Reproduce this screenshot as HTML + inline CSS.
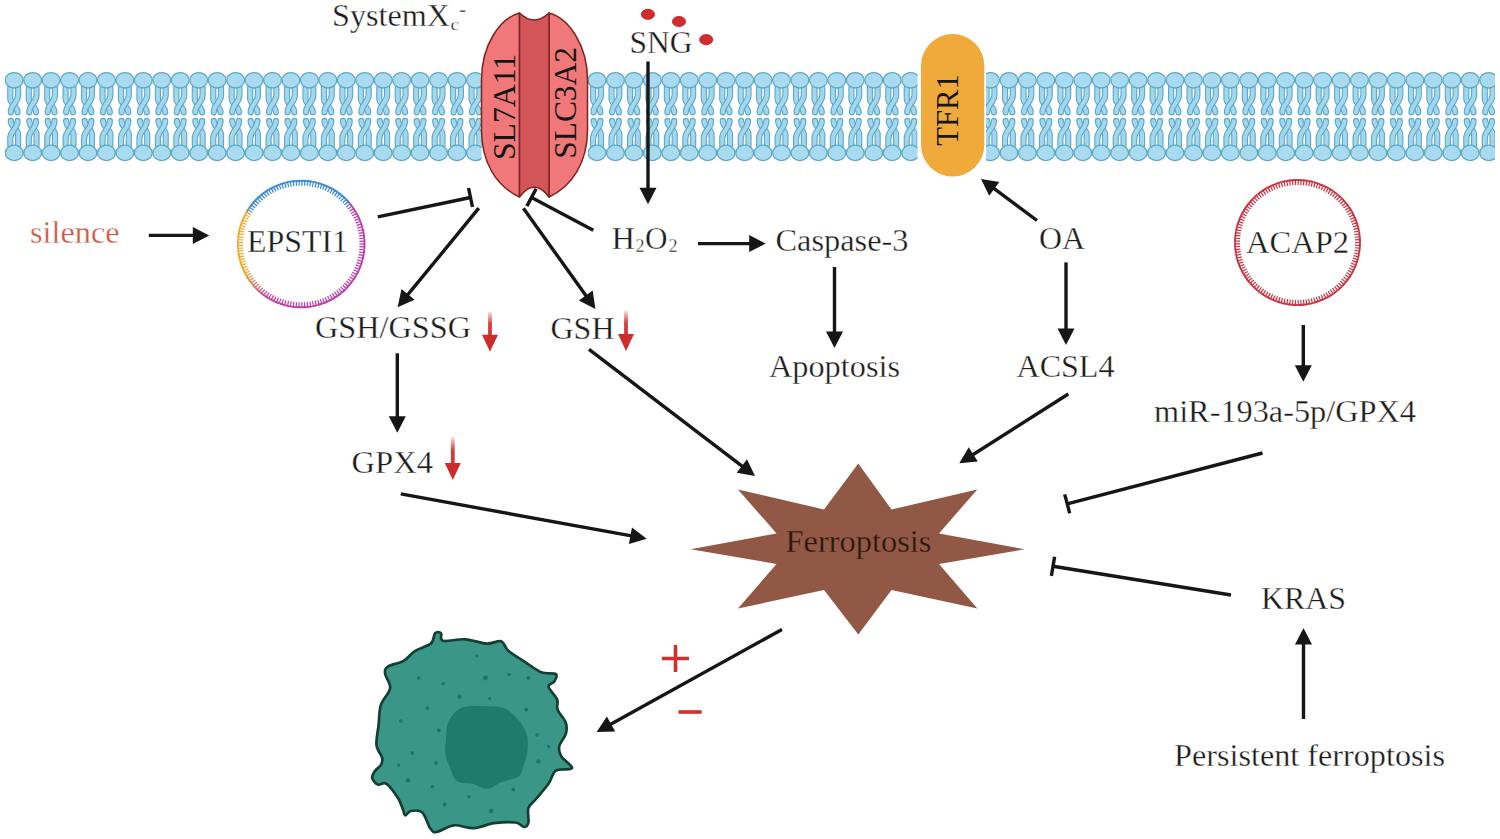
<!DOCTYPE html><html><head><meta charset="utf-8"><style>html,body{margin:0;padding:0;background:#fff;width:1500px;height:839px;overflow:hidden}svg{display:block}text{font-family:"Liberation Serif", serif}</style></head><body><svg width="1500" height="839" viewBox="0 0 1500 839"><clipPath id="mc0"><rect x="5" y="60" width="476.5" height="110"/></clipPath><clipPath id="mc1"><rect x="588" y="60" width="329.5" height="110"/></clipPath><clipPath id="mc2"><rect x="986" y="60" width="509" height="110"/></clipPath><g clip-path="url(#mc0)"><g transform="translate(-22.70,0)"><path d="M-3.9,88 L-3.9,99 C-3.9,104 3.4,106 3.4,112.3" fill="none" stroke="#5ea8c4" stroke-width="6.2" stroke-linecap="round"/><path d="M-3.9,88 L-3.9,99 C-3.9,104 3.4,106 3.4,112.3" fill="none" stroke="#a2d7f0" stroke-width="4.0" stroke-linecap="round"/><path d="M3.9,88 L3.9,95 C3.9,103 -3.4,104 -3.4,112.3" fill="none" stroke="#5ea8c4" stroke-width="6.2" stroke-linecap="round"/><path d="M3.9,88 L3.9,95 C3.9,103 -3.4,104 -3.4,112.3" fill="none" stroke="#a2d7f0" stroke-width="4.0" stroke-linecap="round"/><ellipse cx="0" cy="80.3" rx="8.9" ry="7.7" fill="#a9dbf0" stroke="#5ea8c4" stroke-width="1.3"/></g><g transform="translate(-22.70,233.2) scale(-1,-1)"><path d="M-3.9,88 L-3.9,99 C-3.9,104 3.4,106 3.4,112.3" fill="none" stroke="#5ea8c4" stroke-width="6.2" stroke-linecap="round"/><path d="M-3.9,88 L-3.9,99 C-3.9,104 3.4,106 3.4,112.3" fill="none" stroke="#a2d7f0" stroke-width="4.0" stroke-linecap="round"/><path d="M3.9,88 L3.9,95 C3.9,103 -3.4,104 -3.4,112.3" fill="none" stroke="#5ea8c4" stroke-width="6.2" stroke-linecap="round"/><path d="M3.9,88 L3.9,95 C3.9,103 -3.4,104 -3.4,112.3" fill="none" stroke="#a2d7f0" stroke-width="4.0" stroke-linecap="round"/><ellipse cx="0" cy="80.3" rx="8.9" ry="7.7" fill="#a9dbf0" stroke="#5ea8c4" stroke-width="1.3"/></g><g transform="translate(-4.25,0)"><path d="M-3.9,88 L-3.9,99 C-3.9,104 3.4,106 3.4,112.3" fill="none" stroke="#5ea8c4" stroke-width="6.2" stroke-linecap="round"/><path d="M-3.9,88 L-3.9,99 C-3.9,104 3.4,106 3.4,112.3" fill="none" stroke="#a2d7f0" stroke-width="4.0" stroke-linecap="round"/><path d="M3.9,88 L3.9,95 C3.9,103 -3.4,104 -3.4,112.3" fill="none" stroke="#5ea8c4" stroke-width="6.2" stroke-linecap="round"/><path d="M3.9,88 L3.9,95 C3.9,103 -3.4,104 -3.4,112.3" fill="none" stroke="#a2d7f0" stroke-width="4.0" stroke-linecap="round"/><ellipse cx="0" cy="80.3" rx="8.9" ry="7.7" fill="#a9dbf0" stroke="#5ea8c4" stroke-width="1.3"/></g><g transform="translate(-4.25,233.2) scale(-1,-1)"><path d="M-3.9,88 L-3.9,99 C-3.9,104 3.4,106 3.4,112.3" fill="none" stroke="#5ea8c4" stroke-width="6.2" stroke-linecap="round"/><path d="M-3.9,88 L-3.9,99 C-3.9,104 3.4,106 3.4,112.3" fill="none" stroke="#a2d7f0" stroke-width="4.0" stroke-linecap="round"/><path d="M3.9,88 L3.9,95 C3.9,103 -3.4,104 -3.4,112.3" fill="none" stroke="#5ea8c4" stroke-width="6.2" stroke-linecap="round"/><path d="M3.9,88 L3.9,95 C3.9,103 -3.4,104 -3.4,112.3" fill="none" stroke="#a2d7f0" stroke-width="4.0" stroke-linecap="round"/><ellipse cx="0" cy="80.3" rx="8.9" ry="7.7" fill="#a9dbf0" stroke="#5ea8c4" stroke-width="1.3"/></g><g transform="translate(14.20,0)"><path d="M-3.9,88 L-3.9,99 C-3.9,104 3.4,106 3.4,112.3" fill="none" stroke="#5ea8c4" stroke-width="6.2" stroke-linecap="round"/><path d="M-3.9,88 L-3.9,99 C-3.9,104 3.4,106 3.4,112.3" fill="none" stroke="#a2d7f0" stroke-width="4.0" stroke-linecap="round"/><path d="M3.9,88 L3.9,95 C3.9,103 -3.4,104 -3.4,112.3" fill="none" stroke="#5ea8c4" stroke-width="6.2" stroke-linecap="round"/><path d="M3.9,88 L3.9,95 C3.9,103 -3.4,104 -3.4,112.3" fill="none" stroke="#a2d7f0" stroke-width="4.0" stroke-linecap="round"/><ellipse cx="0" cy="80.3" rx="8.9" ry="7.7" fill="#a9dbf0" stroke="#5ea8c4" stroke-width="1.3"/></g><g transform="translate(14.20,233.2) scale(-1,-1)"><path d="M-3.9,88 L-3.9,99 C-3.9,104 3.4,106 3.4,112.3" fill="none" stroke="#5ea8c4" stroke-width="6.2" stroke-linecap="round"/><path d="M-3.9,88 L-3.9,99 C-3.9,104 3.4,106 3.4,112.3" fill="none" stroke="#a2d7f0" stroke-width="4.0" stroke-linecap="round"/><path d="M3.9,88 L3.9,95 C3.9,103 -3.4,104 -3.4,112.3" fill="none" stroke="#5ea8c4" stroke-width="6.2" stroke-linecap="round"/><path d="M3.9,88 L3.9,95 C3.9,103 -3.4,104 -3.4,112.3" fill="none" stroke="#a2d7f0" stroke-width="4.0" stroke-linecap="round"/><ellipse cx="0" cy="80.3" rx="8.9" ry="7.7" fill="#a9dbf0" stroke="#5ea8c4" stroke-width="1.3"/></g><g transform="translate(32.65,0)"><path d="M-3.9,88 L-3.9,99 C-3.9,104 3.4,106 3.4,112.3" fill="none" stroke="#5ea8c4" stroke-width="6.2" stroke-linecap="round"/><path d="M-3.9,88 L-3.9,99 C-3.9,104 3.4,106 3.4,112.3" fill="none" stroke="#a2d7f0" stroke-width="4.0" stroke-linecap="round"/><path d="M3.9,88 L3.9,95 C3.9,103 -3.4,104 -3.4,112.3" fill="none" stroke="#5ea8c4" stroke-width="6.2" stroke-linecap="round"/><path d="M3.9,88 L3.9,95 C3.9,103 -3.4,104 -3.4,112.3" fill="none" stroke="#a2d7f0" stroke-width="4.0" stroke-linecap="round"/><ellipse cx="0" cy="80.3" rx="8.9" ry="7.7" fill="#a9dbf0" stroke="#5ea8c4" stroke-width="1.3"/></g><g transform="translate(32.65,233.2) scale(-1,-1)"><path d="M-3.9,88 L-3.9,99 C-3.9,104 3.4,106 3.4,112.3" fill="none" stroke="#5ea8c4" stroke-width="6.2" stroke-linecap="round"/><path d="M-3.9,88 L-3.9,99 C-3.9,104 3.4,106 3.4,112.3" fill="none" stroke="#a2d7f0" stroke-width="4.0" stroke-linecap="round"/><path d="M3.9,88 L3.9,95 C3.9,103 -3.4,104 -3.4,112.3" fill="none" stroke="#5ea8c4" stroke-width="6.2" stroke-linecap="round"/><path d="M3.9,88 L3.9,95 C3.9,103 -3.4,104 -3.4,112.3" fill="none" stroke="#a2d7f0" stroke-width="4.0" stroke-linecap="round"/><ellipse cx="0" cy="80.3" rx="8.9" ry="7.7" fill="#a9dbf0" stroke="#5ea8c4" stroke-width="1.3"/></g><g transform="translate(51.10,0)"><path d="M-3.9,88 L-3.9,99 C-3.9,104 3.4,106 3.4,112.3" fill="none" stroke="#5ea8c4" stroke-width="6.2" stroke-linecap="round"/><path d="M-3.9,88 L-3.9,99 C-3.9,104 3.4,106 3.4,112.3" fill="none" stroke="#a2d7f0" stroke-width="4.0" stroke-linecap="round"/><path d="M3.9,88 L3.9,95 C3.9,103 -3.4,104 -3.4,112.3" fill="none" stroke="#5ea8c4" stroke-width="6.2" stroke-linecap="round"/><path d="M3.9,88 L3.9,95 C3.9,103 -3.4,104 -3.4,112.3" fill="none" stroke="#a2d7f0" stroke-width="4.0" stroke-linecap="round"/><ellipse cx="0" cy="80.3" rx="8.9" ry="7.7" fill="#a9dbf0" stroke="#5ea8c4" stroke-width="1.3"/></g><g transform="translate(51.10,233.2) scale(-1,-1)"><path d="M-3.9,88 L-3.9,99 C-3.9,104 3.4,106 3.4,112.3" fill="none" stroke="#5ea8c4" stroke-width="6.2" stroke-linecap="round"/><path d="M-3.9,88 L-3.9,99 C-3.9,104 3.4,106 3.4,112.3" fill="none" stroke="#a2d7f0" stroke-width="4.0" stroke-linecap="round"/><path d="M3.9,88 L3.9,95 C3.9,103 -3.4,104 -3.4,112.3" fill="none" stroke="#5ea8c4" stroke-width="6.2" stroke-linecap="round"/><path d="M3.9,88 L3.9,95 C3.9,103 -3.4,104 -3.4,112.3" fill="none" stroke="#a2d7f0" stroke-width="4.0" stroke-linecap="round"/><ellipse cx="0" cy="80.3" rx="8.9" ry="7.7" fill="#a9dbf0" stroke="#5ea8c4" stroke-width="1.3"/></g><g transform="translate(69.55,0)"><path d="M-3.9,88 L-3.9,99 C-3.9,104 3.4,106 3.4,112.3" fill="none" stroke="#5ea8c4" stroke-width="6.2" stroke-linecap="round"/><path d="M-3.9,88 L-3.9,99 C-3.9,104 3.4,106 3.4,112.3" fill="none" stroke="#a2d7f0" stroke-width="4.0" stroke-linecap="round"/><path d="M3.9,88 L3.9,95 C3.9,103 -3.4,104 -3.4,112.3" fill="none" stroke="#5ea8c4" stroke-width="6.2" stroke-linecap="round"/><path d="M3.9,88 L3.9,95 C3.9,103 -3.4,104 -3.4,112.3" fill="none" stroke="#a2d7f0" stroke-width="4.0" stroke-linecap="round"/><ellipse cx="0" cy="80.3" rx="8.9" ry="7.7" fill="#a9dbf0" stroke="#5ea8c4" stroke-width="1.3"/></g><g transform="translate(69.55,233.2) scale(-1,-1)"><path d="M-3.9,88 L-3.9,99 C-3.9,104 3.4,106 3.4,112.3" fill="none" stroke="#5ea8c4" stroke-width="6.2" stroke-linecap="round"/><path d="M-3.9,88 L-3.9,99 C-3.9,104 3.4,106 3.4,112.3" fill="none" stroke="#a2d7f0" stroke-width="4.0" stroke-linecap="round"/><path d="M3.9,88 L3.9,95 C3.9,103 -3.4,104 -3.4,112.3" fill="none" stroke="#5ea8c4" stroke-width="6.2" stroke-linecap="round"/><path d="M3.9,88 L3.9,95 C3.9,103 -3.4,104 -3.4,112.3" fill="none" stroke="#a2d7f0" stroke-width="4.0" stroke-linecap="round"/><ellipse cx="0" cy="80.3" rx="8.9" ry="7.7" fill="#a9dbf0" stroke="#5ea8c4" stroke-width="1.3"/></g><g transform="translate(88.00,0)"><path d="M-3.9,88 L-3.9,99 C-3.9,104 3.4,106 3.4,112.3" fill="none" stroke="#5ea8c4" stroke-width="6.2" stroke-linecap="round"/><path d="M-3.9,88 L-3.9,99 C-3.9,104 3.4,106 3.4,112.3" fill="none" stroke="#a2d7f0" stroke-width="4.0" stroke-linecap="round"/><path d="M3.9,88 L3.9,95 C3.9,103 -3.4,104 -3.4,112.3" fill="none" stroke="#5ea8c4" stroke-width="6.2" stroke-linecap="round"/><path d="M3.9,88 L3.9,95 C3.9,103 -3.4,104 -3.4,112.3" fill="none" stroke="#a2d7f0" stroke-width="4.0" stroke-linecap="round"/><ellipse cx="0" cy="80.3" rx="8.9" ry="7.7" fill="#a9dbf0" stroke="#5ea8c4" stroke-width="1.3"/></g><g transform="translate(88.00,233.2) scale(-1,-1)"><path d="M-3.9,88 L-3.9,99 C-3.9,104 3.4,106 3.4,112.3" fill="none" stroke="#5ea8c4" stroke-width="6.2" stroke-linecap="round"/><path d="M-3.9,88 L-3.9,99 C-3.9,104 3.4,106 3.4,112.3" fill="none" stroke="#a2d7f0" stroke-width="4.0" stroke-linecap="round"/><path d="M3.9,88 L3.9,95 C3.9,103 -3.4,104 -3.4,112.3" fill="none" stroke="#5ea8c4" stroke-width="6.2" stroke-linecap="round"/><path d="M3.9,88 L3.9,95 C3.9,103 -3.4,104 -3.4,112.3" fill="none" stroke="#a2d7f0" stroke-width="4.0" stroke-linecap="round"/><ellipse cx="0" cy="80.3" rx="8.9" ry="7.7" fill="#a9dbf0" stroke="#5ea8c4" stroke-width="1.3"/></g><g transform="translate(106.45,0)"><path d="M-3.9,88 L-3.9,99 C-3.9,104 3.4,106 3.4,112.3" fill="none" stroke="#5ea8c4" stroke-width="6.2" stroke-linecap="round"/><path d="M-3.9,88 L-3.9,99 C-3.9,104 3.4,106 3.4,112.3" fill="none" stroke="#a2d7f0" stroke-width="4.0" stroke-linecap="round"/><path d="M3.9,88 L3.9,95 C3.9,103 -3.4,104 -3.4,112.3" fill="none" stroke="#5ea8c4" stroke-width="6.2" stroke-linecap="round"/><path d="M3.9,88 L3.9,95 C3.9,103 -3.4,104 -3.4,112.3" fill="none" stroke="#a2d7f0" stroke-width="4.0" stroke-linecap="round"/><ellipse cx="0" cy="80.3" rx="8.9" ry="7.7" fill="#a9dbf0" stroke="#5ea8c4" stroke-width="1.3"/></g><g transform="translate(106.45,233.2) scale(-1,-1)"><path d="M-3.9,88 L-3.9,99 C-3.9,104 3.4,106 3.4,112.3" fill="none" stroke="#5ea8c4" stroke-width="6.2" stroke-linecap="round"/><path d="M-3.9,88 L-3.9,99 C-3.9,104 3.4,106 3.4,112.3" fill="none" stroke="#a2d7f0" stroke-width="4.0" stroke-linecap="round"/><path d="M3.9,88 L3.9,95 C3.9,103 -3.4,104 -3.4,112.3" fill="none" stroke="#5ea8c4" stroke-width="6.2" stroke-linecap="round"/><path d="M3.9,88 L3.9,95 C3.9,103 -3.4,104 -3.4,112.3" fill="none" stroke="#a2d7f0" stroke-width="4.0" stroke-linecap="round"/><ellipse cx="0" cy="80.3" rx="8.9" ry="7.7" fill="#a9dbf0" stroke="#5ea8c4" stroke-width="1.3"/></g><g transform="translate(124.90,0)"><path d="M-3.9,88 L-3.9,99 C-3.9,104 3.4,106 3.4,112.3" fill="none" stroke="#5ea8c4" stroke-width="6.2" stroke-linecap="round"/><path d="M-3.9,88 L-3.9,99 C-3.9,104 3.4,106 3.4,112.3" fill="none" stroke="#a2d7f0" stroke-width="4.0" stroke-linecap="round"/><path d="M3.9,88 L3.9,95 C3.9,103 -3.4,104 -3.4,112.3" fill="none" stroke="#5ea8c4" stroke-width="6.2" stroke-linecap="round"/><path d="M3.9,88 L3.9,95 C3.9,103 -3.4,104 -3.4,112.3" fill="none" stroke="#a2d7f0" stroke-width="4.0" stroke-linecap="round"/><ellipse cx="0" cy="80.3" rx="8.9" ry="7.7" fill="#a9dbf0" stroke="#5ea8c4" stroke-width="1.3"/></g><g transform="translate(124.90,233.2) scale(-1,-1)"><path d="M-3.9,88 L-3.9,99 C-3.9,104 3.4,106 3.4,112.3" fill="none" stroke="#5ea8c4" stroke-width="6.2" stroke-linecap="round"/><path d="M-3.9,88 L-3.9,99 C-3.9,104 3.4,106 3.4,112.3" fill="none" stroke="#a2d7f0" stroke-width="4.0" stroke-linecap="round"/><path d="M3.9,88 L3.9,95 C3.9,103 -3.4,104 -3.4,112.3" fill="none" stroke="#5ea8c4" stroke-width="6.2" stroke-linecap="round"/><path d="M3.9,88 L3.9,95 C3.9,103 -3.4,104 -3.4,112.3" fill="none" stroke="#a2d7f0" stroke-width="4.0" stroke-linecap="round"/><ellipse cx="0" cy="80.3" rx="8.9" ry="7.7" fill="#a9dbf0" stroke="#5ea8c4" stroke-width="1.3"/></g><g transform="translate(143.35,0)"><path d="M-3.9,88 L-3.9,99 C-3.9,104 3.4,106 3.4,112.3" fill="none" stroke="#5ea8c4" stroke-width="6.2" stroke-linecap="round"/><path d="M-3.9,88 L-3.9,99 C-3.9,104 3.4,106 3.4,112.3" fill="none" stroke="#a2d7f0" stroke-width="4.0" stroke-linecap="round"/><path d="M3.9,88 L3.9,95 C3.9,103 -3.4,104 -3.4,112.3" fill="none" stroke="#5ea8c4" stroke-width="6.2" stroke-linecap="round"/><path d="M3.9,88 L3.9,95 C3.9,103 -3.4,104 -3.4,112.3" fill="none" stroke="#a2d7f0" stroke-width="4.0" stroke-linecap="round"/><ellipse cx="0" cy="80.3" rx="8.9" ry="7.7" fill="#a9dbf0" stroke="#5ea8c4" stroke-width="1.3"/></g><g transform="translate(143.35,233.2) scale(-1,-1)"><path d="M-3.9,88 L-3.9,99 C-3.9,104 3.4,106 3.4,112.3" fill="none" stroke="#5ea8c4" stroke-width="6.2" stroke-linecap="round"/><path d="M-3.9,88 L-3.9,99 C-3.9,104 3.4,106 3.4,112.3" fill="none" stroke="#a2d7f0" stroke-width="4.0" stroke-linecap="round"/><path d="M3.9,88 L3.9,95 C3.9,103 -3.4,104 -3.4,112.3" fill="none" stroke="#5ea8c4" stroke-width="6.2" stroke-linecap="round"/><path d="M3.9,88 L3.9,95 C3.9,103 -3.4,104 -3.4,112.3" fill="none" stroke="#a2d7f0" stroke-width="4.0" stroke-linecap="round"/><ellipse cx="0" cy="80.3" rx="8.9" ry="7.7" fill="#a9dbf0" stroke="#5ea8c4" stroke-width="1.3"/></g><g transform="translate(161.80,0)"><path d="M-3.9,88 L-3.9,99 C-3.9,104 3.4,106 3.4,112.3" fill="none" stroke="#5ea8c4" stroke-width="6.2" stroke-linecap="round"/><path d="M-3.9,88 L-3.9,99 C-3.9,104 3.4,106 3.4,112.3" fill="none" stroke="#a2d7f0" stroke-width="4.0" stroke-linecap="round"/><path d="M3.9,88 L3.9,95 C3.9,103 -3.4,104 -3.4,112.3" fill="none" stroke="#5ea8c4" stroke-width="6.2" stroke-linecap="round"/><path d="M3.9,88 L3.9,95 C3.9,103 -3.4,104 -3.4,112.3" fill="none" stroke="#a2d7f0" stroke-width="4.0" stroke-linecap="round"/><ellipse cx="0" cy="80.3" rx="8.9" ry="7.7" fill="#a9dbf0" stroke="#5ea8c4" stroke-width="1.3"/></g><g transform="translate(161.80,233.2) scale(-1,-1)"><path d="M-3.9,88 L-3.9,99 C-3.9,104 3.4,106 3.4,112.3" fill="none" stroke="#5ea8c4" stroke-width="6.2" stroke-linecap="round"/><path d="M-3.9,88 L-3.9,99 C-3.9,104 3.4,106 3.4,112.3" fill="none" stroke="#a2d7f0" stroke-width="4.0" stroke-linecap="round"/><path d="M3.9,88 L3.9,95 C3.9,103 -3.4,104 -3.4,112.3" fill="none" stroke="#5ea8c4" stroke-width="6.2" stroke-linecap="round"/><path d="M3.9,88 L3.9,95 C3.9,103 -3.4,104 -3.4,112.3" fill="none" stroke="#a2d7f0" stroke-width="4.0" stroke-linecap="round"/><ellipse cx="0" cy="80.3" rx="8.9" ry="7.7" fill="#a9dbf0" stroke="#5ea8c4" stroke-width="1.3"/></g><g transform="translate(180.25,0)"><path d="M-3.9,88 L-3.9,99 C-3.9,104 3.4,106 3.4,112.3" fill="none" stroke="#5ea8c4" stroke-width="6.2" stroke-linecap="round"/><path d="M-3.9,88 L-3.9,99 C-3.9,104 3.4,106 3.4,112.3" fill="none" stroke="#a2d7f0" stroke-width="4.0" stroke-linecap="round"/><path d="M3.9,88 L3.9,95 C3.9,103 -3.4,104 -3.4,112.3" fill="none" stroke="#5ea8c4" stroke-width="6.2" stroke-linecap="round"/><path d="M3.9,88 L3.9,95 C3.9,103 -3.4,104 -3.4,112.3" fill="none" stroke="#a2d7f0" stroke-width="4.0" stroke-linecap="round"/><ellipse cx="0" cy="80.3" rx="8.9" ry="7.7" fill="#a9dbf0" stroke="#5ea8c4" stroke-width="1.3"/></g><g transform="translate(180.25,233.2) scale(-1,-1)"><path d="M-3.9,88 L-3.9,99 C-3.9,104 3.4,106 3.4,112.3" fill="none" stroke="#5ea8c4" stroke-width="6.2" stroke-linecap="round"/><path d="M-3.9,88 L-3.9,99 C-3.9,104 3.4,106 3.4,112.3" fill="none" stroke="#a2d7f0" stroke-width="4.0" stroke-linecap="round"/><path d="M3.9,88 L3.9,95 C3.9,103 -3.4,104 -3.4,112.3" fill="none" stroke="#5ea8c4" stroke-width="6.2" stroke-linecap="round"/><path d="M3.9,88 L3.9,95 C3.9,103 -3.4,104 -3.4,112.3" fill="none" stroke="#a2d7f0" stroke-width="4.0" stroke-linecap="round"/><ellipse cx="0" cy="80.3" rx="8.9" ry="7.7" fill="#a9dbf0" stroke="#5ea8c4" stroke-width="1.3"/></g><g transform="translate(198.70,0)"><path d="M-3.9,88 L-3.9,99 C-3.9,104 3.4,106 3.4,112.3" fill="none" stroke="#5ea8c4" stroke-width="6.2" stroke-linecap="round"/><path d="M-3.9,88 L-3.9,99 C-3.9,104 3.4,106 3.4,112.3" fill="none" stroke="#a2d7f0" stroke-width="4.0" stroke-linecap="round"/><path d="M3.9,88 L3.9,95 C3.9,103 -3.4,104 -3.4,112.3" fill="none" stroke="#5ea8c4" stroke-width="6.2" stroke-linecap="round"/><path d="M3.9,88 L3.9,95 C3.9,103 -3.4,104 -3.4,112.3" fill="none" stroke="#a2d7f0" stroke-width="4.0" stroke-linecap="round"/><ellipse cx="0" cy="80.3" rx="8.9" ry="7.7" fill="#a9dbf0" stroke="#5ea8c4" stroke-width="1.3"/></g><g transform="translate(198.70,233.2) scale(-1,-1)"><path d="M-3.9,88 L-3.9,99 C-3.9,104 3.4,106 3.4,112.3" fill="none" stroke="#5ea8c4" stroke-width="6.2" stroke-linecap="round"/><path d="M-3.9,88 L-3.9,99 C-3.9,104 3.4,106 3.4,112.3" fill="none" stroke="#a2d7f0" stroke-width="4.0" stroke-linecap="round"/><path d="M3.9,88 L3.9,95 C3.9,103 -3.4,104 -3.4,112.3" fill="none" stroke="#5ea8c4" stroke-width="6.2" stroke-linecap="round"/><path d="M3.9,88 L3.9,95 C3.9,103 -3.4,104 -3.4,112.3" fill="none" stroke="#a2d7f0" stroke-width="4.0" stroke-linecap="round"/><ellipse cx="0" cy="80.3" rx="8.9" ry="7.7" fill="#a9dbf0" stroke="#5ea8c4" stroke-width="1.3"/></g><g transform="translate(217.15,0)"><path d="M-3.9,88 L-3.9,99 C-3.9,104 3.4,106 3.4,112.3" fill="none" stroke="#5ea8c4" stroke-width="6.2" stroke-linecap="round"/><path d="M-3.9,88 L-3.9,99 C-3.9,104 3.4,106 3.4,112.3" fill="none" stroke="#a2d7f0" stroke-width="4.0" stroke-linecap="round"/><path d="M3.9,88 L3.9,95 C3.9,103 -3.4,104 -3.4,112.3" fill="none" stroke="#5ea8c4" stroke-width="6.2" stroke-linecap="round"/><path d="M3.9,88 L3.9,95 C3.9,103 -3.4,104 -3.4,112.3" fill="none" stroke="#a2d7f0" stroke-width="4.0" stroke-linecap="round"/><ellipse cx="0" cy="80.3" rx="8.9" ry="7.7" fill="#a9dbf0" stroke="#5ea8c4" stroke-width="1.3"/></g><g transform="translate(217.15,233.2) scale(-1,-1)"><path d="M-3.9,88 L-3.9,99 C-3.9,104 3.4,106 3.4,112.3" fill="none" stroke="#5ea8c4" stroke-width="6.2" stroke-linecap="round"/><path d="M-3.9,88 L-3.9,99 C-3.9,104 3.4,106 3.4,112.3" fill="none" stroke="#a2d7f0" stroke-width="4.0" stroke-linecap="round"/><path d="M3.9,88 L3.9,95 C3.9,103 -3.4,104 -3.4,112.3" fill="none" stroke="#5ea8c4" stroke-width="6.2" stroke-linecap="round"/><path d="M3.9,88 L3.9,95 C3.9,103 -3.4,104 -3.4,112.3" fill="none" stroke="#a2d7f0" stroke-width="4.0" stroke-linecap="round"/><ellipse cx="0" cy="80.3" rx="8.9" ry="7.7" fill="#a9dbf0" stroke="#5ea8c4" stroke-width="1.3"/></g><g transform="translate(235.60,0)"><path d="M-3.9,88 L-3.9,99 C-3.9,104 3.4,106 3.4,112.3" fill="none" stroke="#5ea8c4" stroke-width="6.2" stroke-linecap="round"/><path d="M-3.9,88 L-3.9,99 C-3.9,104 3.4,106 3.4,112.3" fill="none" stroke="#a2d7f0" stroke-width="4.0" stroke-linecap="round"/><path d="M3.9,88 L3.9,95 C3.9,103 -3.4,104 -3.4,112.3" fill="none" stroke="#5ea8c4" stroke-width="6.2" stroke-linecap="round"/><path d="M3.9,88 L3.9,95 C3.9,103 -3.4,104 -3.4,112.3" fill="none" stroke="#a2d7f0" stroke-width="4.0" stroke-linecap="round"/><ellipse cx="0" cy="80.3" rx="8.9" ry="7.7" fill="#a9dbf0" stroke="#5ea8c4" stroke-width="1.3"/></g><g transform="translate(235.60,233.2) scale(-1,-1)"><path d="M-3.9,88 L-3.9,99 C-3.9,104 3.4,106 3.4,112.3" fill="none" stroke="#5ea8c4" stroke-width="6.2" stroke-linecap="round"/><path d="M-3.9,88 L-3.9,99 C-3.9,104 3.4,106 3.4,112.3" fill="none" stroke="#a2d7f0" stroke-width="4.0" stroke-linecap="round"/><path d="M3.9,88 L3.9,95 C3.9,103 -3.4,104 -3.4,112.3" fill="none" stroke="#5ea8c4" stroke-width="6.2" stroke-linecap="round"/><path d="M3.9,88 L3.9,95 C3.9,103 -3.4,104 -3.4,112.3" fill="none" stroke="#a2d7f0" stroke-width="4.0" stroke-linecap="round"/><ellipse cx="0" cy="80.3" rx="8.9" ry="7.7" fill="#a9dbf0" stroke="#5ea8c4" stroke-width="1.3"/></g><g transform="translate(254.05,0)"><path d="M-3.9,88 L-3.9,99 C-3.9,104 3.4,106 3.4,112.3" fill="none" stroke="#5ea8c4" stroke-width="6.2" stroke-linecap="round"/><path d="M-3.9,88 L-3.9,99 C-3.9,104 3.4,106 3.4,112.3" fill="none" stroke="#a2d7f0" stroke-width="4.0" stroke-linecap="round"/><path d="M3.9,88 L3.9,95 C3.9,103 -3.4,104 -3.4,112.3" fill="none" stroke="#5ea8c4" stroke-width="6.2" stroke-linecap="round"/><path d="M3.9,88 L3.9,95 C3.9,103 -3.4,104 -3.4,112.3" fill="none" stroke="#a2d7f0" stroke-width="4.0" stroke-linecap="round"/><ellipse cx="0" cy="80.3" rx="8.9" ry="7.7" fill="#a9dbf0" stroke="#5ea8c4" stroke-width="1.3"/></g><g transform="translate(254.05,233.2) scale(-1,-1)"><path d="M-3.9,88 L-3.9,99 C-3.9,104 3.4,106 3.4,112.3" fill="none" stroke="#5ea8c4" stroke-width="6.2" stroke-linecap="round"/><path d="M-3.9,88 L-3.9,99 C-3.9,104 3.4,106 3.4,112.3" fill="none" stroke="#a2d7f0" stroke-width="4.0" stroke-linecap="round"/><path d="M3.9,88 L3.9,95 C3.9,103 -3.4,104 -3.4,112.3" fill="none" stroke="#5ea8c4" stroke-width="6.2" stroke-linecap="round"/><path d="M3.9,88 L3.9,95 C3.9,103 -3.4,104 -3.4,112.3" fill="none" stroke="#a2d7f0" stroke-width="4.0" stroke-linecap="round"/><ellipse cx="0" cy="80.3" rx="8.9" ry="7.7" fill="#a9dbf0" stroke="#5ea8c4" stroke-width="1.3"/></g><g transform="translate(272.50,0)"><path d="M-3.9,88 L-3.9,99 C-3.9,104 3.4,106 3.4,112.3" fill="none" stroke="#5ea8c4" stroke-width="6.2" stroke-linecap="round"/><path d="M-3.9,88 L-3.9,99 C-3.9,104 3.4,106 3.4,112.3" fill="none" stroke="#a2d7f0" stroke-width="4.0" stroke-linecap="round"/><path d="M3.9,88 L3.9,95 C3.9,103 -3.4,104 -3.4,112.3" fill="none" stroke="#5ea8c4" stroke-width="6.2" stroke-linecap="round"/><path d="M3.9,88 L3.9,95 C3.9,103 -3.4,104 -3.4,112.3" fill="none" stroke="#a2d7f0" stroke-width="4.0" stroke-linecap="round"/><ellipse cx="0" cy="80.3" rx="8.9" ry="7.7" fill="#a9dbf0" stroke="#5ea8c4" stroke-width="1.3"/></g><g transform="translate(272.50,233.2) scale(-1,-1)"><path d="M-3.9,88 L-3.9,99 C-3.9,104 3.4,106 3.4,112.3" fill="none" stroke="#5ea8c4" stroke-width="6.2" stroke-linecap="round"/><path d="M-3.9,88 L-3.9,99 C-3.9,104 3.4,106 3.4,112.3" fill="none" stroke="#a2d7f0" stroke-width="4.0" stroke-linecap="round"/><path d="M3.9,88 L3.9,95 C3.9,103 -3.4,104 -3.4,112.3" fill="none" stroke="#5ea8c4" stroke-width="6.2" stroke-linecap="round"/><path d="M3.9,88 L3.9,95 C3.9,103 -3.4,104 -3.4,112.3" fill="none" stroke="#a2d7f0" stroke-width="4.0" stroke-linecap="round"/><ellipse cx="0" cy="80.3" rx="8.9" ry="7.7" fill="#a9dbf0" stroke="#5ea8c4" stroke-width="1.3"/></g><g transform="translate(290.95,0)"><path d="M-3.9,88 L-3.9,99 C-3.9,104 3.4,106 3.4,112.3" fill="none" stroke="#5ea8c4" stroke-width="6.2" stroke-linecap="round"/><path d="M-3.9,88 L-3.9,99 C-3.9,104 3.4,106 3.4,112.3" fill="none" stroke="#a2d7f0" stroke-width="4.0" stroke-linecap="round"/><path d="M3.9,88 L3.9,95 C3.9,103 -3.4,104 -3.4,112.3" fill="none" stroke="#5ea8c4" stroke-width="6.2" stroke-linecap="round"/><path d="M3.9,88 L3.9,95 C3.9,103 -3.4,104 -3.4,112.3" fill="none" stroke="#a2d7f0" stroke-width="4.0" stroke-linecap="round"/><ellipse cx="0" cy="80.3" rx="8.9" ry="7.7" fill="#a9dbf0" stroke="#5ea8c4" stroke-width="1.3"/></g><g transform="translate(290.95,233.2) scale(-1,-1)"><path d="M-3.9,88 L-3.9,99 C-3.9,104 3.4,106 3.4,112.3" fill="none" stroke="#5ea8c4" stroke-width="6.2" stroke-linecap="round"/><path d="M-3.9,88 L-3.9,99 C-3.9,104 3.4,106 3.4,112.3" fill="none" stroke="#a2d7f0" stroke-width="4.0" stroke-linecap="round"/><path d="M3.9,88 L3.9,95 C3.9,103 -3.4,104 -3.4,112.3" fill="none" stroke="#5ea8c4" stroke-width="6.2" stroke-linecap="round"/><path d="M3.9,88 L3.9,95 C3.9,103 -3.4,104 -3.4,112.3" fill="none" stroke="#a2d7f0" stroke-width="4.0" stroke-linecap="round"/><ellipse cx="0" cy="80.3" rx="8.9" ry="7.7" fill="#a9dbf0" stroke="#5ea8c4" stroke-width="1.3"/></g><g transform="translate(309.40,0)"><path d="M-3.9,88 L-3.9,99 C-3.9,104 3.4,106 3.4,112.3" fill="none" stroke="#5ea8c4" stroke-width="6.2" stroke-linecap="round"/><path d="M-3.9,88 L-3.9,99 C-3.9,104 3.4,106 3.4,112.3" fill="none" stroke="#a2d7f0" stroke-width="4.0" stroke-linecap="round"/><path d="M3.9,88 L3.9,95 C3.9,103 -3.4,104 -3.4,112.3" fill="none" stroke="#5ea8c4" stroke-width="6.2" stroke-linecap="round"/><path d="M3.9,88 L3.9,95 C3.9,103 -3.4,104 -3.4,112.3" fill="none" stroke="#a2d7f0" stroke-width="4.0" stroke-linecap="round"/><ellipse cx="0" cy="80.3" rx="8.9" ry="7.7" fill="#a9dbf0" stroke="#5ea8c4" stroke-width="1.3"/></g><g transform="translate(309.40,233.2) scale(-1,-1)"><path d="M-3.9,88 L-3.9,99 C-3.9,104 3.4,106 3.4,112.3" fill="none" stroke="#5ea8c4" stroke-width="6.2" stroke-linecap="round"/><path d="M-3.9,88 L-3.9,99 C-3.9,104 3.4,106 3.4,112.3" fill="none" stroke="#a2d7f0" stroke-width="4.0" stroke-linecap="round"/><path d="M3.9,88 L3.9,95 C3.9,103 -3.4,104 -3.4,112.3" fill="none" stroke="#5ea8c4" stroke-width="6.2" stroke-linecap="round"/><path d="M3.9,88 L3.9,95 C3.9,103 -3.4,104 -3.4,112.3" fill="none" stroke="#a2d7f0" stroke-width="4.0" stroke-linecap="round"/><ellipse cx="0" cy="80.3" rx="8.9" ry="7.7" fill="#a9dbf0" stroke="#5ea8c4" stroke-width="1.3"/></g><g transform="translate(327.85,0)"><path d="M-3.9,88 L-3.9,99 C-3.9,104 3.4,106 3.4,112.3" fill="none" stroke="#5ea8c4" stroke-width="6.2" stroke-linecap="round"/><path d="M-3.9,88 L-3.9,99 C-3.9,104 3.4,106 3.4,112.3" fill="none" stroke="#a2d7f0" stroke-width="4.0" stroke-linecap="round"/><path d="M3.9,88 L3.9,95 C3.9,103 -3.4,104 -3.4,112.3" fill="none" stroke="#5ea8c4" stroke-width="6.2" stroke-linecap="round"/><path d="M3.9,88 L3.9,95 C3.9,103 -3.4,104 -3.4,112.3" fill="none" stroke="#a2d7f0" stroke-width="4.0" stroke-linecap="round"/><ellipse cx="0" cy="80.3" rx="8.9" ry="7.7" fill="#a9dbf0" stroke="#5ea8c4" stroke-width="1.3"/></g><g transform="translate(327.85,233.2) scale(-1,-1)"><path d="M-3.9,88 L-3.9,99 C-3.9,104 3.4,106 3.4,112.3" fill="none" stroke="#5ea8c4" stroke-width="6.2" stroke-linecap="round"/><path d="M-3.9,88 L-3.9,99 C-3.9,104 3.4,106 3.4,112.3" fill="none" stroke="#a2d7f0" stroke-width="4.0" stroke-linecap="round"/><path d="M3.9,88 L3.9,95 C3.9,103 -3.4,104 -3.4,112.3" fill="none" stroke="#5ea8c4" stroke-width="6.2" stroke-linecap="round"/><path d="M3.9,88 L3.9,95 C3.9,103 -3.4,104 -3.4,112.3" fill="none" stroke="#a2d7f0" stroke-width="4.0" stroke-linecap="round"/><ellipse cx="0" cy="80.3" rx="8.9" ry="7.7" fill="#a9dbf0" stroke="#5ea8c4" stroke-width="1.3"/></g><g transform="translate(346.30,0)"><path d="M-3.9,88 L-3.9,99 C-3.9,104 3.4,106 3.4,112.3" fill="none" stroke="#5ea8c4" stroke-width="6.2" stroke-linecap="round"/><path d="M-3.9,88 L-3.9,99 C-3.9,104 3.4,106 3.4,112.3" fill="none" stroke="#a2d7f0" stroke-width="4.0" stroke-linecap="round"/><path d="M3.9,88 L3.9,95 C3.9,103 -3.4,104 -3.4,112.3" fill="none" stroke="#5ea8c4" stroke-width="6.2" stroke-linecap="round"/><path d="M3.9,88 L3.9,95 C3.9,103 -3.4,104 -3.4,112.3" fill="none" stroke="#a2d7f0" stroke-width="4.0" stroke-linecap="round"/><ellipse cx="0" cy="80.3" rx="8.9" ry="7.7" fill="#a9dbf0" stroke="#5ea8c4" stroke-width="1.3"/></g><g transform="translate(346.30,233.2) scale(-1,-1)"><path d="M-3.9,88 L-3.9,99 C-3.9,104 3.4,106 3.4,112.3" fill="none" stroke="#5ea8c4" stroke-width="6.2" stroke-linecap="round"/><path d="M-3.9,88 L-3.9,99 C-3.9,104 3.4,106 3.4,112.3" fill="none" stroke="#a2d7f0" stroke-width="4.0" stroke-linecap="round"/><path d="M3.9,88 L3.9,95 C3.9,103 -3.4,104 -3.4,112.3" fill="none" stroke="#5ea8c4" stroke-width="6.2" stroke-linecap="round"/><path d="M3.9,88 L3.9,95 C3.9,103 -3.4,104 -3.4,112.3" fill="none" stroke="#a2d7f0" stroke-width="4.0" stroke-linecap="round"/><ellipse cx="0" cy="80.3" rx="8.9" ry="7.7" fill="#a9dbf0" stroke="#5ea8c4" stroke-width="1.3"/></g><g transform="translate(364.75,0)"><path d="M-3.9,88 L-3.9,99 C-3.9,104 3.4,106 3.4,112.3" fill="none" stroke="#5ea8c4" stroke-width="6.2" stroke-linecap="round"/><path d="M-3.9,88 L-3.9,99 C-3.9,104 3.4,106 3.4,112.3" fill="none" stroke="#a2d7f0" stroke-width="4.0" stroke-linecap="round"/><path d="M3.9,88 L3.9,95 C3.9,103 -3.4,104 -3.4,112.3" fill="none" stroke="#5ea8c4" stroke-width="6.2" stroke-linecap="round"/><path d="M3.9,88 L3.9,95 C3.9,103 -3.4,104 -3.4,112.3" fill="none" stroke="#a2d7f0" stroke-width="4.0" stroke-linecap="round"/><ellipse cx="0" cy="80.3" rx="8.9" ry="7.7" fill="#a9dbf0" stroke="#5ea8c4" stroke-width="1.3"/></g><g transform="translate(364.75,233.2) scale(-1,-1)"><path d="M-3.9,88 L-3.9,99 C-3.9,104 3.4,106 3.4,112.3" fill="none" stroke="#5ea8c4" stroke-width="6.2" stroke-linecap="round"/><path d="M-3.9,88 L-3.9,99 C-3.9,104 3.4,106 3.4,112.3" fill="none" stroke="#a2d7f0" stroke-width="4.0" stroke-linecap="round"/><path d="M3.9,88 L3.9,95 C3.9,103 -3.4,104 -3.4,112.3" fill="none" stroke="#5ea8c4" stroke-width="6.2" stroke-linecap="round"/><path d="M3.9,88 L3.9,95 C3.9,103 -3.4,104 -3.4,112.3" fill="none" stroke="#a2d7f0" stroke-width="4.0" stroke-linecap="round"/><ellipse cx="0" cy="80.3" rx="8.9" ry="7.7" fill="#a9dbf0" stroke="#5ea8c4" stroke-width="1.3"/></g><g transform="translate(383.20,0)"><path d="M-3.9,88 L-3.9,99 C-3.9,104 3.4,106 3.4,112.3" fill="none" stroke="#5ea8c4" stroke-width="6.2" stroke-linecap="round"/><path d="M-3.9,88 L-3.9,99 C-3.9,104 3.4,106 3.4,112.3" fill="none" stroke="#a2d7f0" stroke-width="4.0" stroke-linecap="round"/><path d="M3.9,88 L3.9,95 C3.9,103 -3.4,104 -3.4,112.3" fill="none" stroke="#5ea8c4" stroke-width="6.2" stroke-linecap="round"/><path d="M3.9,88 L3.9,95 C3.9,103 -3.4,104 -3.4,112.3" fill="none" stroke="#a2d7f0" stroke-width="4.0" stroke-linecap="round"/><ellipse cx="0" cy="80.3" rx="8.9" ry="7.7" fill="#a9dbf0" stroke="#5ea8c4" stroke-width="1.3"/></g><g transform="translate(383.20,233.2) scale(-1,-1)"><path d="M-3.9,88 L-3.9,99 C-3.9,104 3.4,106 3.4,112.3" fill="none" stroke="#5ea8c4" stroke-width="6.2" stroke-linecap="round"/><path d="M-3.9,88 L-3.9,99 C-3.9,104 3.4,106 3.4,112.3" fill="none" stroke="#a2d7f0" stroke-width="4.0" stroke-linecap="round"/><path d="M3.9,88 L3.9,95 C3.9,103 -3.4,104 -3.4,112.3" fill="none" stroke="#5ea8c4" stroke-width="6.2" stroke-linecap="round"/><path d="M3.9,88 L3.9,95 C3.9,103 -3.4,104 -3.4,112.3" fill="none" stroke="#a2d7f0" stroke-width="4.0" stroke-linecap="round"/><ellipse cx="0" cy="80.3" rx="8.9" ry="7.7" fill="#a9dbf0" stroke="#5ea8c4" stroke-width="1.3"/></g><g transform="translate(401.65,0)"><path d="M-3.9,88 L-3.9,99 C-3.9,104 3.4,106 3.4,112.3" fill="none" stroke="#5ea8c4" stroke-width="6.2" stroke-linecap="round"/><path d="M-3.9,88 L-3.9,99 C-3.9,104 3.4,106 3.4,112.3" fill="none" stroke="#a2d7f0" stroke-width="4.0" stroke-linecap="round"/><path d="M3.9,88 L3.9,95 C3.9,103 -3.4,104 -3.4,112.3" fill="none" stroke="#5ea8c4" stroke-width="6.2" stroke-linecap="round"/><path d="M3.9,88 L3.9,95 C3.9,103 -3.4,104 -3.4,112.3" fill="none" stroke="#a2d7f0" stroke-width="4.0" stroke-linecap="round"/><ellipse cx="0" cy="80.3" rx="8.9" ry="7.7" fill="#a9dbf0" stroke="#5ea8c4" stroke-width="1.3"/></g><g transform="translate(401.65,233.2) scale(-1,-1)"><path d="M-3.9,88 L-3.9,99 C-3.9,104 3.4,106 3.4,112.3" fill="none" stroke="#5ea8c4" stroke-width="6.2" stroke-linecap="round"/><path d="M-3.9,88 L-3.9,99 C-3.9,104 3.4,106 3.4,112.3" fill="none" stroke="#a2d7f0" stroke-width="4.0" stroke-linecap="round"/><path d="M3.9,88 L3.9,95 C3.9,103 -3.4,104 -3.4,112.3" fill="none" stroke="#5ea8c4" stroke-width="6.2" stroke-linecap="round"/><path d="M3.9,88 L3.9,95 C3.9,103 -3.4,104 -3.4,112.3" fill="none" stroke="#a2d7f0" stroke-width="4.0" stroke-linecap="round"/><ellipse cx="0" cy="80.3" rx="8.9" ry="7.7" fill="#a9dbf0" stroke="#5ea8c4" stroke-width="1.3"/></g><g transform="translate(420.10,0)"><path d="M-3.9,88 L-3.9,99 C-3.9,104 3.4,106 3.4,112.3" fill="none" stroke="#5ea8c4" stroke-width="6.2" stroke-linecap="round"/><path d="M-3.9,88 L-3.9,99 C-3.9,104 3.4,106 3.4,112.3" fill="none" stroke="#a2d7f0" stroke-width="4.0" stroke-linecap="round"/><path d="M3.9,88 L3.9,95 C3.9,103 -3.4,104 -3.4,112.3" fill="none" stroke="#5ea8c4" stroke-width="6.2" stroke-linecap="round"/><path d="M3.9,88 L3.9,95 C3.9,103 -3.4,104 -3.4,112.3" fill="none" stroke="#a2d7f0" stroke-width="4.0" stroke-linecap="round"/><ellipse cx="0" cy="80.3" rx="8.9" ry="7.7" fill="#a9dbf0" stroke="#5ea8c4" stroke-width="1.3"/></g><g transform="translate(420.10,233.2) scale(-1,-1)"><path d="M-3.9,88 L-3.9,99 C-3.9,104 3.4,106 3.4,112.3" fill="none" stroke="#5ea8c4" stroke-width="6.2" stroke-linecap="round"/><path d="M-3.9,88 L-3.9,99 C-3.9,104 3.4,106 3.4,112.3" fill="none" stroke="#a2d7f0" stroke-width="4.0" stroke-linecap="round"/><path d="M3.9,88 L3.9,95 C3.9,103 -3.4,104 -3.4,112.3" fill="none" stroke="#5ea8c4" stroke-width="6.2" stroke-linecap="round"/><path d="M3.9,88 L3.9,95 C3.9,103 -3.4,104 -3.4,112.3" fill="none" stroke="#a2d7f0" stroke-width="4.0" stroke-linecap="round"/><ellipse cx="0" cy="80.3" rx="8.9" ry="7.7" fill="#a9dbf0" stroke="#5ea8c4" stroke-width="1.3"/></g><g transform="translate(438.55,0)"><path d="M-3.9,88 L-3.9,99 C-3.9,104 3.4,106 3.4,112.3" fill="none" stroke="#5ea8c4" stroke-width="6.2" stroke-linecap="round"/><path d="M-3.9,88 L-3.9,99 C-3.9,104 3.4,106 3.4,112.3" fill="none" stroke="#a2d7f0" stroke-width="4.0" stroke-linecap="round"/><path d="M3.9,88 L3.9,95 C3.9,103 -3.4,104 -3.4,112.3" fill="none" stroke="#5ea8c4" stroke-width="6.2" stroke-linecap="round"/><path d="M3.9,88 L3.9,95 C3.9,103 -3.4,104 -3.4,112.3" fill="none" stroke="#a2d7f0" stroke-width="4.0" stroke-linecap="round"/><ellipse cx="0" cy="80.3" rx="8.9" ry="7.7" fill="#a9dbf0" stroke="#5ea8c4" stroke-width="1.3"/></g><g transform="translate(438.55,233.2) scale(-1,-1)"><path d="M-3.9,88 L-3.9,99 C-3.9,104 3.4,106 3.4,112.3" fill="none" stroke="#5ea8c4" stroke-width="6.2" stroke-linecap="round"/><path d="M-3.9,88 L-3.9,99 C-3.9,104 3.4,106 3.4,112.3" fill="none" stroke="#a2d7f0" stroke-width="4.0" stroke-linecap="round"/><path d="M3.9,88 L3.9,95 C3.9,103 -3.4,104 -3.4,112.3" fill="none" stroke="#5ea8c4" stroke-width="6.2" stroke-linecap="round"/><path d="M3.9,88 L3.9,95 C3.9,103 -3.4,104 -3.4,112.3" fill="none" stroke="#a2d7f0" stroke-width="4.0" stroke-linecap="round"/><ellipse cx="0" cy="80.3" rx="8.9" ry="7.7" fill="#a9dbf0" stroke="#5ea8c4" stroke-width="1.3"/></g><g transform="translate(457.00,0)"><path d="M-3.9,88 L-3.9,99 C-3.9,104 3.4,106 3.4,112.3" fill="none" stroke="#5ea8c4" stroke-width="6.2" stroke-linecap="round"/><path d="M-3.9,88 L-3.9,99 C-3.9,104 3.4,106 3.4,112.3" fill="none" stroke="#a2d7f0" stroke-width="4.0" stroke-linecap="round"/><path d="M3.9,88 L3.9,95 C3.9,103 -3.4,104 -3.4,112.3" fill="none" stroke="#5ea8c4" stroke-width="6.2" stroke-linecap="round"/><path d="M3.9,88 L3.9,95 C3.9,103 -3.4,104 -3.4,112.3" fill="none" stroke="#a2d7f0" stroke-width="4.0" stroke-linecap="round"/><ellipse cx="0" cy="80.3" rx="8.9" ry="7.7" fill="#a9dbf0" stroke="#5ea8c4" stroke-width="1.3"/></g><g transform="translate(457.00,233.2) scale(-1,-1)"><path d="M-3.9,88 L-3.9,99 C-3.9,104 3.4,106 3.4,112.3" fill="none" stroke="#5ea8c4" stroke-width="6.2" stroke-linecap="round"/><path d="M-3.9,88 L-3.9,99 C-3.9,104 3.4,106 3.4,112.3" fill="none" stroke="#a2d7f0" stroke-width="4.0" stroke-linecap="round"/><path d="M3.9,88 L3.9,95 C3.9,103 -3.4,104 -3.4,112.3" fill="none" stroke="#5ea8c4" stroke-width="6.2" stroke-linecap="round"/><path d="M3.9,88 L3.9,95 C3.9,103 -3.4,104 -3.4,112.3" fill="none" stroke="#a2d7f0" stroke-width="4.0" stroke-linecap="round"/><ellipse cx="0" cy="80.3" rx="8.9" ry="7.7" fill="#a9dbf0" stroke="#5ea8c4" stroke-width="1.3"/></g><g transform="translate(475.45,0)"><path d="M-3.9,88 L-3.9,99 C-3.9,104 3.4,106 3.4,112.3" fill="none" stroke="#5ea8c4" stroke-width="6.2" stroke-linecap="round"/><path d="M-3.9,88 L-3.9,99 C-3.9,104 3.4,106 3.4,112.3" fill="none" stroke="#a2d7f0" stroke-width="4.0" stroke-linecap="round"/><path d="M3.9,88 L3.9,95 C3.9,103 -3.4,104 -3.4,112.3" fill="none" stroke="#5ea8c4" stroke-width="6.2" stroke-linecap="round"/><path d="M3.9,88 L3.9,95 C3.9,103 -3.4,104 -3.4,112.3" fill="none" stroke="#a2d7f0" stroke-width="4.0" stroke-linecap="round"/><ellipse cx="0" cy="80.3" rx="8.9" ry="7.7" fill="#a9dbf0" stroke="#5ea8c4" stroke-width="1.3"/></g><g transform="translate(475.45,233.2) scale(-1,-1)"><path d="M-3.9,88 L-3.9,99 C-3.9,104 3.4,106 3.4,112.3" fill="none" stroke="#5ea8c4" stroke-width="6.2" stroke-linecap="round"/><path d="M-3.9,88 L-3.9,99 C-3.9,104 3.4,106 3.4,112.3" fill="none" stroke="#a2d7f0" stroke-width="4.0" stroke-linecap="round"/><path d="M3.9,88 L3.9,95 C3.9,103 -3.4,104 -3.4,112.3" fill="none" stroke="#5ea8c4" stroke-width="6.2" stroke-linecap="round"/><path d="M3.9,88 L3.9,95 C3.9,103 -3.4,104 -3.4,112.3" fill="none" stroke="#a2d7f0" stroke-width="4.0" stroke-linecap="round"/><ellipse cx="0" cy="80.3" rx="8.9" ry="7.7" fill="#a9dbf0" stroke="#5ea8c4" stroke-width="1.3"/></g><g transform="translate(493.90,0)"><path d="M-3.9,88 L-3.9,99 C-3.9,104 3.4,106 3.4,112.3" fill="none" stroke="#5ea8c4" stroke-width="6.2" stroke-linecap="round"/><path d="M-3.9,88 L-3.9,99 C-3.9,104 3.4,106 3.4,112.3" fill="none" stroke="#a2d7f0" stroke-width="4.0" stroke-linecap="round"/><path d="M3.9,88 L3.9,95 C3.9,103 -3.4,104 -3.4,112.3" fill="none" stroke="#5ea8c4" stroke-width="6.2" stroke-linecap="round"/><path d="M3.9,88 L3.9,95 C3.9,103 -3.4,104 -3.4,112.3" fill="none" stroke="#a2d7f0" stroke-width="4.0" stroke-linecap="round"/><ellipse cx="0" cy="80.3" rx="8.9" ry="7.7" fill="#a9dbf0" stroke="#5ea8c4" stroke-width="1.3"/></g><g transform="translate(493.90,233.2) scale(-1,-1)"><path d="M-3.9,88 L-3.9,99 C-3.9,104 3.4,106 3.4,112.3" fill="none" stroke="#5ea8c4" stroke-width="6.2" stroke-linecap="round"/><path d="M-3.9,88 L-3.9,99 C-3.9,104 3.4,106 3.4,112.3" fill="none" stroke="#a2d7f0" stroke-width="4.0" stroke-linecap="round"/><path d="M3.9,88 L3.9,95 C3.9,103 -3.4,104 -3.4,112.3" fill="none" stroke="#5ea8c4" stroke-width="6.2" stroke-linecap="round"/><path d="M3.9,88 L3.9,95 C3.9,103 -3.4,104 -3.4,112.3" fill="none" stroke="#a2d7f0" stroke-width="4.0" stroke-linecap="round"/><ellipse cx="0" cy="80.3" rx="8.9" ry="7.7" fill="#a9dbf0" stroke="#5ea8c4" stroke-width="1.3"/></g></g><g clip-path="url(#mc1)"><g transform="translate(560.10,0)"><path d="M-3.9,88 L-3.9,99 C-3.9,104 3.4,106 3.4,112.3" fill="none" stroke="#5ea8c4" stroke-width="6.2" stroke-linecap="round"/><path d="M-3.9,88 L-3.9,99 C-3.9,104 3.4,106 3.4,112.3" fill="none" stroke="#a2d7f0" stroke-width="4.0" stroke-linecap="round"/><path d="M3.9,88 L3.9,95 C3.9,103 -3.4,104 -3.4,112.3" fill="none" stroke="#5ea8c4" stroke-width="6.2" stroke-linecap="round"/><path d="M3.9,88 L3.9,95 C3.9,103 -3.4,104 -3.4,112.3" fill="none" stroke="#a2d7f0" stroke-width="4.0" stroke-linecap="round"/><ellipse cx="0" cy="80.3" rx="8.9" ry="7.7" fill="#a9dbf0" stroke="#5ea8c4" stroke-width="1.3"/></g><g transform="translate(560.10,233.2) scale(-1,-1)"><path d="M-3.9,88 L-3.9,99 C-3.9,104 3.4,106 3.4,112.3" fill="none" stroke="#5ea8c4" stroke-width="6.2" stroke-linecap="round"/><path d="M-3.9,88 L-3.9,99 C-3.9,104 3.4,106 3.4,112.3" fill="none" stroke="#a2d7f0" stroke-width="4.0" stroke-linecap="round"/><path d="M3.9,88 L3.9,95 C3.9,103 -3.4,104 -3.4,112.3" fill="none" stroke="#5ea8c4" stroke-width="6.2" stroke-linecap="round"/><path d="M3.9,88 L3.9,95 C3.9,103 -3.4,104 -3.4,112.3" fill="none" stroke="#a2d7f0" stroke-width="4.0" stroke-linecap="round"/><ellipse cx="0" cy="80.3" rx="8.9" ry="7.7" fill="#a9dbf0" stroke="#5ea8c4" stroke-width="1.3"/></g><g transform="translate(578.55,0)"><path d="M-3.9,88 L-3.9,99 C-3.9,104 3.4,106 3.4,112.3" fill="none" stroke="#5ea8c4" stroke-width="6.2" stroke-linecap="round"/><path d="M-3.9,88 L-3.9,99 C-3.9,104 3.4,106 3.4,112.3" fill="none" stroke="#a2d7f0" stroke-width="4.0" stroke-linecap="round"/><path d="M3.9,88 L3.9,95 C3.9,103 -3.4,104 -3.4,112.3" fill="none" stroke="#5ea8c4" stroke-width="6.2" stroke-linecap="round"/><path d="M3.9,88 L3.9,95 C3.9,103 -3.4,104 -3.4,112.3" fill="none" stroke="#a2d7f0" stroke-width="4.0" stroke-linecap="round"/><ellipse cx="0" cy="80.3" rx="8.9" ry="7.7" fill="#a9dbf0" stroke="#5ea8c4" stroke-width="1.3"/></g><g transform="translate(578.55,233.2) scale(-1,-1)"><path d="M-3.9,88 L-3.9,99 C-3.9,104 3.4,106 3.4,112.3" fill="none" stroke="#5ea8c4" stroke-width="6.2" stroke-linecap="round"/><path d="M-3.9,88 L-3.9,99 C-3.9,104 3.4,106 3.4,112.3" fill="none" stroke="#a2d7f0" stroke-width="4.0" stroke-linecap="round"/><path d="M3.9,88 L3.9,95 C3.9,103 -3.4,104 -3.4,112.3" fill="none" stroke="#5ea8c4" stroke-width="6.2" stroke-linecap="round"/><path d="M3.9,88 L3.9,95 C3.9,103 -3.4,104 -3.4,112.3" fill="none" stroke="#a2d7f0" stroke-width="4.0" stroke-linecap="round"/><ellipse cx="0" cy="80.3" rx="8.9" ry="7.7" fill="#a9dbf0" stroke="#5ea8c4" stroke-width="1.3"/></g><g transform="translate(597.00,0)"><path d="M-3.9,88 L-3.9,99 C-3.9,104 3.4,106 3.4,112.3" fill="none" stroke="#5ea8c4" stroke-width="6.2" stroke-linecap="round"/><path d="M-3.9,88 L-3.9,99 C-3.9,104 3.4,106 3.4,112.3" fill="none" stroke="#a2d7f0" stroke-width="4.0" stroke-linecap="round"/><path d="M3.9,88 L3.9,95 C3.9,103 -3.4,104 -3.4,112.3" fill="none" stroke="#5ea8c4" stroke-width="6.2" stroke-linecap="round"/><path d="M3.9,88 L3.9,95 C3.9,103 -3.4,104 -3.4,112.3" fill="none" stroke="#a2d7f0" stroke-width="4.0" stroke-linecap="round"/><ellipse cx="0" cy="80.3" rx="8.9" ry="7.7" fill="#a9dbf0" stroke="#5ea8c4" stroke-width="1.3"/></g><g transform="translate(597.00,233.2) scale(-1,-1)"><path d="M-3.9,88 L-3.9,99 C-3.9,104 3.4,106 3.4,112.3" fill="none" stroke="#5ea8c4" stroke-width="6.2" stroke-linecap="round"/><path d="M-3.9,88 L-3.9,99 C-3.9,104 3.4,106 3.4,112.3" fill="none" stroke="#a2d7f0" stroke-width="4.0" stroke-linecap="round"/><path d="M3.9,88 L3.9,95 C3.9,103 -3.4,104 -3.4,112.3" fill="none" stroke="#5ea8c4" stroke-width="6.2" stroke-linecap="round"/><path d="M3.9,88 L3.9,95 C3.9,103 -3.4,104 -3.4,112.3" fill="none" stroke="#a2d7f0" stroke-width="4.0" stroke-linecap="round"/><ellipse cx="0" cy="80.3" rx="8.9" ry="7.7" fill="#a9dbf0" stroke="#5ea8c4" stroke-width="1.3"/></g><g transform="translate(615.45,0)"><path d="M-3.9,88 L-3.9,99 C-3.9,104 3.4,106 3.4,112.3" fill="none" stroke="#5ea8c4" stroke-width="6.2" stroke-linecap="round"/><path d="M-3.9,88 L-3.9,99 C-3.9,104 3.4,106 3.4,112.3" fill="none" stroke="#a2d7f0" stroke-width="4.0" stroke-linecap="round"/><path d="M3.9,88 L3.9,95 C3.9,103 -3.4,104 -3.4,112.3" fill="none" stroke="#5ea8c4" stroke-width="6.2" stroke-linecap="round"/><path d="M3.9,88 L3.9,95 C3.9,103 -3.4,104 -3.4,112.3" fill="none" stroke="#a2d7f0" stroke-width="4.0" stroke-linecap="round"/><ellipse cx="0" cy="80.3" rx="8.9" ry="7.7" fill="#a9dbf0" stroke="#5ea8c4" stroke-width="1.3"/></g><g transform="translate(615.45,233.2) scale(-1,-1)"><path d="M-3.9,88 L-3.9,99 C-3.9,104 3.4,106 3.4,112.3" fill="none" stroke="#5ea8c4" stroke-width="6.2" stroke-linecap="round"/><path d="M-3.9,88 L-3.9,99 C-3.9,104 3.4,106 3.4,112.3" fill="none" stroke="#a2d7f0" stroke-width="4.0" stroke-linecap="round"/><path d="M3.9,88 L3.9,95 C3.9,103 -3.4,104 -3.4,112.3" fill="none" stroke="#5ea8c4" stroke-width="6.2" stroke-linecap="round"/><path d="M3.9,88 L3.9,95 C3.9,103 -3.4,104 -3.4,112.3" fill="none" stroke="#a2d7f0" stroke-width="4.0" stroke-linecap="round"/><ellipse cx="0" cy="80.3" rx="8.9" ry="7.7" fill="#a9dbf0" stroke="#5ea8c4" stroke-width="1.3"/></g><g transform="translate(633.90,0)"><path d="M-3.9,88 L-3.9,99 C-3.9,104 3.4,106 3.4,112.3" fill="none" stroke="#5ea8c4" stroke-width="6.2" stroke-linecap="round"/><path d="M-3.9,88 L-3.9,99 C-3.9,104 3.4,106 3.4,112.3" fill="none" stroke="#a2d7f0" stroke-width="4.0" stroke-linecap="round"/><path d="M3.9,88 L3.9,95 C3.9,103 -3.4,104 -3.4,112.3" fill="none" stroke="#5ea8c4" stroke-width="6.2" stroke-linecap="round"/><path d="M3.9,88 L3.9,95 C3.9,103 -3.4,104 -3.4,112.3" fill="none" stroke="#a2d7f0" stroke-width="4.0" stroke-linecap="round"/><ellipse cx="0" cy="80.3" rx="8.9" ry="7.7" fill="#a9dbf0" stroke="#5ea8c4" stroke-width="1.3"/></g><g transform="translate(633.90,233.2) scale(-1,-1)"><path d="M-3.9,88 L-3.9,99 C-3.9,104 3.4,106 3.4,112.3" fill="none" stroke="#5ea8c4" stroke-width="6.2" stroke-linecap="round"/><path d="M-3.9,88 L-3.9,99 C-3.9,104 3.4,106 3.4,112.3" fill="none" stroke="#a2d7f0" stroke-width="4.0" stroke-linecap="round"/><path d="M3.9,88 L3.9,95 C3.9,103 -3.4,104 -3.4,112.3" fill="none" stroke="#5ea8c4" stroke-width="6.2" stroke-linecap="round"/><path d="M3.9,88 L3.9,95 C3.9,103 -3.4,104 -3.4,112.3" fill="none" stroke="#a2d7f0" stroke-width="4.0" stroke-linecap="round"/><ellipse cx="0" cy="80.3" rx="8.9" ry="7.7" fill="#a9dbf0" stroke="#5ea8c4" stroke-width="1.3"/></g><g transform="translate(652.35,0)"><path d="M-3.9,88 L-3.9,99 C-3.9,104 3.4,106 3.4,112.3" fill="none" stroke="#5ea8c4" stroke-width="6.2" stroke-linecap="round"/><path d="M-3.9,88 L-3.9,99 C-3.9,104 3.4,106 3.4,112.3" fill="none" stroke="#a2d7f0" stroke-width="4.0" stroke-linecap="round"/><path d="M3.9,88 L3.9,95 C3.9,103 -3.4,104 -3.4,112.3" fill="none" stroke="#5ea8c4" stroke-width="6.2" stroke-linecap="round"/><path d="M3.9,88 L3.9,95 C3.9,103 -3.4,104 -3.4,112.3" fill="none" stroke="#a2d7f0" stroke-width="4.0" stroke-linecap="round"/><ellipse cx="0" cy="80.3" rx="8.9" ry="7.7" fill="#a9dbf0" stroke="#5ea8c4" stroke-width="1.3"/></g><g transform="translate(652.35,233.2) scale(-1,-1)"><path d="M-3.9,88 L-3.9,99 C-3.9,104 3.4,106 3.4,112.3" fill="none" stroke="#5ea8c4" stroke-width="6.2" stroke-linecap="round"/><path d="M-3.9,88 L-3.9,99 C-3.9,104 3.4,106 3.4,112.3" fill="none" stroke="#a2d7f0" stroke-width="4.0" stroke-linecap="round"/><path d="M3.9,88 L3.9,95 C3.9,103 -3.4,104 -3.4,112.3" fill="none" stroke="#5ea8c4" stroke-width="6.2" stroke-linecap="round"/><path d="M3.9,88 L3.9,95 C3.9,103 -3.4,104 -3.4,112.3" fill="none" stroke="#a2d7f0" stroke-width="4.0" stroke-linecap="round"/><ellipse cx="0" cy="80.3" rx="8.9" ry="7.7" fill="#a9dbf0" stroke="#5ea8c4" stroke-width="1.3"/></g><g transform="translate(670.80,0)"><path d="M-3.9,88 L-3.9,99 C-3.9,104 3.4,106 3.4,112.3" fill="none" stroke="#5ea8c4" stroke-width="6.2" stroke-linecap="round"/><path d="M-3.9,88 L-3.9,99 C-3.9,104 3.4,106 3.4,112.3" fill="none" stroke="#a2d7f0" stroke-width="4.0" stroke-linecap="round"/><path d="M3.9,88 L3.9,95 C3.9,103 -3.4,104 -3.4,112.3" fill="none" stroke="#5ea8c4" stroke-width="6.2" stroke-linecap="round"/><path d="M3.9,88 L3.9,95 C3.9,103 -3.4,104 -3.4,112.3" fill="none" stroke="#a2d7f0" stroke-width="4.0" stroke-linecap="round"/><ellipse cx="0" cy="80.3" rx="8.9" ry="7.7" fill="#a9dbf0" stroke="#5ea8c4" stroke-width="1.3"/></g><g transform="translate(670.80,233.2) scale(-1,-1)"><path d="M-3.9,88 L-3.9,99 C-3.9,104 3.4,106 3.4,112.3" fill="none" stroke="#5ea8c4" stroke-width="6.2" stroke-linecap="round"/><path d="M-3.9,88 L-3.9,99 C-3.9,104 3.4,106 3.4,112.3" fill="none" stroke="#a2d7f0" stroke-width="4.0" stroke-linecap="round"/><path d="M3.9,88 L3.9,95 C3.9,103 -3.4,104 -3.4,112.3" fill="none" stroke="#5ea8c4" stroke-width="6.2" stroke-linecap="round"/><path d="M3.9,88 L3.9,95 C3.9,103 -3.4,104 -3.4,112.3" fill="none" stroke="#a2d7f0" stroke-width="4.0" stroke-linecap="round"/><ellipse cx="0" cy="80.3" rx="8.9" ry="7.7" fill="#a9dbf0" stroke="#5ea8c4" stroke-width="1.3"/></g><g transform="translate(689.25,0)"><path d="M-3.9,88 L-3.9,99 C-3.9,104 3.4,106 3.4,112.3" fill="none" stroke="#5ea8c4" stroke-width="6.2" stroke-linecap="round"/><path d="M-3.9,88 L-3.9,99 C-3.9,104 3.4,106 3.4,112.3" fill="none" stroke="#a2d7f0" stroke-width="4.0" stroke-linecap="round"/><path d="M3.9,88 L3.9,95 C3.9,103 -3.4,104 -3.4,112.3" fill="none" stroke="#5ea8c4" stroke-width="6.2" stroke-linecap="round"/><path d="M3.9,88 L3.9,95 C3.9,103 -3.4,104 -3.4,112.3" fill="none" stroke="#a2d7f0" stroke-width="4.0" stroke-linecap="round"/><ellipse cx="0" cy="80.3" rx="8.9" ry="7.7" fill="#a9dbf0" stroke="#5ea8c4" stroke-width="1.3"/></g><g transform="translate(689.25,233.2) scale(-1,-1)"><path d="M-3.9,88 L-3.9,99 C-3.9,104 3.4,106 3.4,112.3" fill="none" stroke="#5ea8c4" stroke-width="6.2" stroke-linecap="round"/><path d="M-3.9,88 L-3.9,99 C-3.9,104 3.4,106 3.4,112.3" fill="none" stroke="#a2d7f0" stroke-width="4.0" stroke-linecap="round"/><path d="M3.9,88 L3.9,95 C3.9,103 -3.4,104 -3.4,112.3" fill="none" stroke="#5ea8c4" stroke-width="6.2" stroke-linecap="round"/><path d="M3.9,88 L3.9,95 C3.9,103 -3.4,104 -3.4,112.3" fill="none" stroke="#a2d7f0" stroke-width="4.0" stroke-linecap="round"/><ellipse cx="0" cy="80.3" rx="8.9" ry="7.7" fill="#a9dbf0" stroke="#5ea8c4" stroke-width="1.3"/></g><g transform="translate(707.70,0)"><path d="M-3.9,88 L-3.9,99 C-3.9,104 3.4,106 3.4,112.3" fill="none" stroke="#5ea8c4" stroke-width="6.2" stroke-linecap="round"/><path d="M-3.9,88 L-3.9,99 C-3.9,104 3.4,106 3.4,112.3" fill="none" stroke="#a2d7f0" stroke-width="4.0" stroke-linecap="round"/><path d="M3.9,88 L3.9,95 C3.9,103 -3.4,104 -3.4,112.3" fill="none" stroke="#5ea8c4" stroke-width="6.2" stroke-linecap="round"/><path d="M3.9,88 L3.9,95 C3.9,103 -3.4,104 -3.4,112.3" fill="none" stroke="#a2d7f0" stroke-width="4.0" stroke-linecap="round"/><ellipse cx="0" cy="80.3" rx="8.9" ry="7.7" fill="#a9dbf0" stroke="#5ea8c4" stroke-width="1.3"/></g><g transform="translate(707.70,233.2) scale(-1,-1)"><path d="M-3.9,88 L-3.9,99 C-3.9,104 3.4,106 3.4,112.3" fill="none" stroke="#5ea8c4" stroke-width="6.2" stroke-linecap="round"/><path d="M-3.9,88 L-3.9,99 C-3.9,104 3.4,106 3.4,112.3" fill="none" stroke="#a2d7f0" stroke-width="4.0" stroke-linecap="round"/><path d="M3.9,88 L3.9,95 C3.9,103 -3.4,104 -3.4,112.3" fill="none" stroke="#5ea8c4" stroke-width="6.2" stroke-linecap="round"/><path d="M3.9,88 L3.9,95 C3.9,103 -3.4,104 -3.4,112.3" fill="none" stroke="#a2d7f0" stroke-width="4.0" stroke-linecap="round"/><ellipse cx="0" cy="80.3" rx="8.9" ry="7.7" fill="#a9dbf0" stroke="#5ea8c4" stroke-width="1.3"/></g><g transform="translate(726.15,0)"><path d="M-3.9,88 L-3.9,99 C-3.9,104 3.4,106 3.4,112.3" fill="none" stroke="#5ea8c4" stroke-width="6.2" stroke-linecap="round"/><path d="M-3.9,88 L-3.9,99 C-3.9,104 3.4,106 3.4,112.3" fill="none" stroke="#a2d7f0" stroke-width="4.0" stroke-linecap="round"/><path d="M3.9,88 L3.9,95 C3.9,103 -3.4,104 -3.4,112.3" fill="none" stroke="#5ea8c4" stroke-width="6.2" stroke-linecap="round"/><path d="M3.9,88 L3.9,95 C3.9,103 -3.4,104 -3.4,112.3" fill="none" stroke="#a2d7f0" stroke-width="4.0" stroke-linecap="round"/><ellipse cx="0" cy="80.3" rx="8.9" ry="7.7" fill="#a9dbf0" stroke="#5ea8c4" stroke-width="1.3"/></g><g transform="translate(726.15,233.2) scale(-1,-1)"><path d="M-3.9,88 L-3.9,99 C-3.9,104 3.4,106 3.4,112.3" fill="none" stroke="#5ea8c4" stroke-width="6.2" stroke-linecap="round"/><path d="M-3.9,88 L-3.9,99 C-3.9,104 3.4,106 3.4,112.3" fill="none" stroke="#a2d7f0" stroke-width="4.0" stroke-linecap="round"/><path d="M3.9,88 L3.9,95 C3.9,103 -3.4,104 -3.4,112.3" fill="none" stroke="#5ea8c4" stroke-width="6.2" stroke-linecap="round"/><path d="M3.9,88 L3.9,95 C3.9,103 -3.4,104 -3.4,112.3" fill="none" stroke="#a2d7f0" stroke-width="4.0" stroke-linecap="round"/><ellipse cx="0" cy="80.3" rx="8.9" ry="7.7" fill="#a9dbf0" stroke="#5ea8c4" stroke-width="1.3"/></g><g transform="translate(744.60,0)"><path d="M-3.9,88 L-3.9,99 C-3.9,104 3.4,106 3.4,112.3" fill="none" stroke="#5ea8c4" stroke-width="6.2" stroke-linecap="round"/><path d="M-3.9,88 L-3.9,99 C-3.9,104 3.4,106 3.4,112.3" fill="none" stroke="#a2d7f0" stroke-width="4.0" stroke-linecap="round"/><path d="M3.9,88 L3.9,95 C3.9,103 -3.4,104 -3.4,112.3" fill="none" stroke="#5ea8c4" stroke-width="6.2" stroke-linecap="round"/><path d="M3.9,88 L3.9,95 C3.9,103 -3.4,104 -3.4,112.3" fill="none" stroke="#a2d7f0" stroke-width="4.0" stroke-linecap="round"/><ellipse cx="0" cy="80.3" rx="8.9" ry="7.7" fill="#a9dbf0" stroke="#5ea8c4" stroke-width="1.3"/></g><g transform="translate(744.60,233.2) scale(-1,-1)"><path d="M-3.9,88 L-3.9,99 C-3.9,104 3.4,106 3.4,112.3" fill="none" stroke="#5ea8c4" stroke-width="6.2" stroke-linecap="round"/><path d="M-3.9,88 L-3.9,99 C-3.9,104 3.4,106 3.4,112.3" fill="none" stroke="#a2d7f0" stroke-width="4.0" stroke-linecap="round"/><path d="M3.9,88 L3.9,95 C3.9,103 -3.4,104 -3.4,112.3" fill="none" stroke="#5ea8c4" stroke-width="6.2" stroke-linecap="round"/><path d="M3.9,88 L3.9,95 C3.9,103 -3.4,104 -3.4,112.3" fill="none" stroke="#a2d7f0" stroke-width="4.0" stroke-linecap="round"/><ellipse cx="0" cy="80.3" rx="8.9" ry="7.7" fill="#a9dbf0" stroke="#5ea8c4" stroke-width="1.3"/></g><g transform="translate(763.05,0)"><path d="M-3.9,88 L-3.9,99 C-3.9,104 3.4,106 3.4,112.3" fill="none" stroke="#5ea8c4" stroke-width="6.2" stroke-linecap="round"/><path d="M-3.9,88 L-3.9,99 C-3.9,104 3.4,106 3.4,112.3" fill="none" stroke="#a2d7f0" stroke-width="4.0" stroke-linecap="round"/><path d="M3.9,88 L3.9,95 C3.9,103 -3.4,104 -3.4,112.3" fill="none" stroke="#5ea8c4" stroke-width="6.2" stroke-linecap="round"/><path d="M3.9,88 L3.9,95 C3.9,103 -3.4,104 -3.4,112.3" fill="none" stroke="#a2d7f0" stroke-width="4.0" stroke-linecap="round"/><ellipse cx="0" cy="80.3" rx="8.9" ry="7.7" fill="#a9dbf0" stroke="#5ea8c4" stroke-width="1.3"/></g><g transform="translate(763.05,233.2) scale(-1,-1)"><path d="M-3.9,88 L-3.9,99 C-3.9,104 3.4,106 3.4,112.3" fill="none" stroke="#5ea8c4" stroke-width="6.2" stroke-linecap="round"/><path d="M-3.9,88 L-3.9,99 C-3.9,104 3.4,106 3.4,112.3" fill="none" stroke="#a2d7f0" stroke-width="4.0" stroke-linecap="round"/><path d="M3.9,88 L3.9,95 C3.9,103 -3.4,104 -3.4,112.3" fill="none" stroke="#5ea8c4" stroke-width="6.2" stroke-linecap="round"/><path d="M3.9,88 L3.9,95 C3.9,103 -3.4,104 -3.4,112.3" fill="none" stroke="#a2d7f0" stroke-width="4.0" stroke-linecap="round"/><ellipse cx="0" cy="80.3" rx="8.9" ry="7.7" fill="#a9dbf0" stroke="#5ea8c4" stroke-width="1.3"/></g><g transform="translate(781.50,0)"><path d="M-3.9,88 L-3.9,99 C-3.9,104 3.4,106 3.4,112.3" fill="none" stroke="#5ea8c4" stroke-width="6.2" stroke-linecap="round"/><path d="M-3.9,88 L-3.9,99 C-3.9,104 3.4,106 3.4,112.3" fill="none" stroke="#a2d7f0" stroke-width="4.0" stroke-linecap="round"/><path d="M3.9,88 L3.9,95 C3.9,103 -3.4,104 -3.4,112.3" fill="none" stroke="#5ea8c4" stroke-width="6.2" stroke-linecap="round"/><path d="M3.9,88 L3.9,95 C3.9,103 -3.4,104 -3.4,112.3" fill="none" stroke="#a2d7f0" stroke-width="4.0" stroke-linecap="round"/><ellipse cx="0" cy="80.3" rx="8.9" ry="7.7" fill="#a9dbf0" stroke="#5ea8c4" stroke-width="1.3"/></g><g transform="translate(781.50,233.2) scale(-1,-1)"><path d="M-3.9,88 L-3.9,99 C-3.9,104 3.4,106 3.4,112.3" fill="none" stroke="#5ea8c4" stroke-width="6.2" stroke-linecap="round"/><path d="M-3.9,88 L-3.9,99 C-3.9,104 3.4,106 3.4,112.3" fill="none" stroke="#a2d7f0" stroke-width="4.0" stroke-linecap="round"/><path d="M3.9,88 L3.9,95 C3.9,103 -3.4,104 -3.4,112.3" fill="none" stroke="#5ea8c4" stroke-width="6.2" stroke-linecap="round"/><path d="M3.9,88 L3.9,95 C3.9,103 -3.4,104 -3.4,112.3" fill="none" stroke="#a2d7f0" stroke-width="4.0" stroke-linecap="round"/><ellipse cx="0" cy="80.3" rx="8.9" ry="7.7" fill="#a9dbf0" stroke="#5ea8c4" stroke-width="1.3"/></g><g transform="translate(799.95,0)"><path d="M-3.9,88 L-3.9,99 C-3.9,104 3.4,106 3.4,112.3" fill="none" stroke="#5ea8c4" stroke-width="6.2" stroke-linecap="round"/><path d="M-3.9,88 L-3.9,99 C-3.9,104 3.4,106 3.4,112.3" fill="none" stroke="#a2d7f0" stroke-width="4.0" stroke-linecap="round"/><path d="M3.9,88 L3.9,95 C3.9,103 -3.4,104 -3.4,112.3" fill="none" stroke="#5ea8c4" stroke-width="6.2" stroke-linecap="round"/><path d="M3.9,88 L3.9,95 C3.9,103 -3.4,104 -3.4,112.3" fill="none" stroke="#a2d7f0" stroke-width="4.0" stroke-linecap="round"/><ellipse cx="0" cy="80.3" rx="8.9" ry="7.7" fill="#a9dbf0" stroke="#5ea8c4" stroke-width="1.3"/></g><g transform="translate(799.95,233.2) scale(-1,-1)"><path d="M-3.9,88 L-3.9,99 C-3.9,104 3.4,106 3.4,112.3" fill="none" stroke="#5ea8c4" stroke-width="6.2" stroke-linecap="round"/><path d="M-3.9,88 L-3.9,99 C-3.9,104 3.4,106 3.4,112.3" fill="none" stroke="#a2d7f0" stroke-width="4.0" stroke-linecap="round"/><path d="M3.9,88 L3.9,95 C3.9,103 -3.4,104 -3.4,112.3" fill="none" stroke="#5ea8c4" stroke-width="6.2" stroke-linecap="round"/><path d="M3.9,88 L3.9,95 C3.9,103 -3.4,104 -3.4,112.3" fill="none" stroke="#a2d7f0" stroke-width="4.0" stroke-linecap="round"/><ellipse cx="0" cy="80.3" rx="8.9" ry="7.7" fill="#a9dbf0" stroke="#5ea8c4" stroke-width="1.3"/></g><g transform="translate(818.40,0)"><path d="M-3.9,88 L-3.9,99 C-3.9,104 3.4,106 3.4,112.3" fill="none" stroke="#5ea8c4" stroke-width="6.2" stroke-linecap="round"/><path d="M-3.9,88 L-3.9,99 C-3.9,104 3.4,106 3.4,112.3" fill="none" stroke="#a2d7f0" stroke-width="4.0" stroke-linecap="round"/><path d="M3.9,88 L3.9,95 C3.9,103 -3.4,104 -3.4,112.3" fill="none" stroke="#5ea8c4" stroke-width="6.2" stroke-linecap="round"/><path d="M3.9,88 L3.9,95 C3.9,103 -3.4,104 -3.4,112.3" fill="none" stroke="#a2d7f0" stroke-width="4.0" stroke-linecap="round"/><ellipse cx="0" cy="80.3" rx="8.9" ry="7.7" fill="#a9dbf0" stroke="#5ea8c4" stroke-width="1.3"/></g><g transform="translate(818.40,233.2) scale(-1,-1)"><path d="M-3.9,88 L-3.9,99 C-3.9,104 3.4,106 3.4,112.3" fill="none" stroke="#5ea8c4" stroke-width="6.2" stroke-linecap="round"/><path d="M-3.9,88 L-3.9,99 C-3.9,104 3.4,106 3.4,112.3" fill="none" stroke="#a2d7f0" stroke-width="4.0" stroke-linecap="round"/><path d="M3.9,88 L3.9,95 C3.9,103 -3.4,104 -3.4,112.3" fill="none" stroke="#5ea8c4" stroke-width="6.2" stroke-linecap="round"/><path d="M3.9,88 L3.9,95 C3.9,103 -3.4,104 -3.4,112.3" fill="none" stroke="#a2d7f0" stroke-width="4.0" stroke-linecap="round"/><ellipse cx="0" cy="80.3" rx="8.9" ry="7.7" fill="#a9dbf0" stroke="#5ea8c4" stroke-width="1.3"/></g><g transform="translate(836.85,0)"><path d="M-3.9,88 L-3.9,99 C-3.9,104 3.4,106 3.4,112.3" fill="none" stroke="#5ea8c4" stroke-width="6.2" stroke-linecap="round"/><path d="M-3.9,88 L-3.9,99 C-3.9,104 3.4,106 3.4,112.3" fill="none" stroke="#a2d7f0" stroke-width="4.0" stroke-linecap="round"/><path d="M3.9,88 L3.9,95 C3.9,103 -3.4,104 -3.4,112.3" fill="none" stroke="#5ea8c4" stroke-width="6.2" stroke-linecap="round"/><path d="M3.9,88 L3.9,95 C3.9,103 -3.4,104 -3.4,112.3" fill="none" stroke="#a2d7f0" stroke-width="4.0" stroke-linecap="round"/><ellipse cx="0" cy="80.3" rx="8.9" ry="7.7" fill="#a9dbf0" stroke="#5ea8c4" stroke-width="1.3"/></g><g transform="translate(836.85,233.2) scale(-1,-1)"><path d="M-3.9,88 L-3.9,99 C-3.9,104 3.4,106 3.4,112.3" fill="none" stroke="#5ea8c4" stroke-width="6.2" stroke-linecap="round"/><path d="M-3.9,88 L-3.9,99 C-3.9,104 3.4,106 3.4,112.3" fill="none" stroke="#a2d7f0" stroke-width="4.0" stroke-linecap="round"/><path d="M3.9,88 L3.9,95 C3.9,103 -3.4,104 -3.4,112.3" fill="none" stroke="#5ea8c4" stroke-width="6.2" stroke-linecap="round"/><path d="M3.9,88 L3.9,95 C3.9,103 -3.4,104 -3.4,112.3" fill="none" stroke="#a2d7f0" stroke-width="4.0" stroke-linecap="round"/><ellipse cx="0" cy="80.3" rx="8.9" ry="7.7" fill="#a9dbf0" stroke="#5ea8c4" stroke-width="1.3"/></g><g transform="translate(855.30,0)"><path d="M-3.9,88 L-3.9,99 C-3.9,104 3.4,106 3.4,112.3" fill="none" stroke="#5ea8c4" stroke-width="6.2" stroke-linecap="round"/><path d="M-3.9,88 L-3.9,99 C-3.9,104 3.4,106 3.4,112.3" fill="none" stroke="#a2d7f0" stroke-width="4.0" stroke-linecap="round"/><path d="M3.9,88 L3.9,95 C3.9,103 -3.4,104 -3.4,112.3" fill="none" stroke="#5ea8c4" stroke-width="6.2" stroke-linecap="round"/><path d="M3.9,88 L3.9,95 C3.9,103 -3.4,104 -3.4,112.3" fill="none" stroke="#a2d7f0" stroke-width="4.0" stroke-linecap="round"/><ellipse cx="0" cy="80.3" rx="8.9" ry="7.7" fill="#a9dbf0" stroke="#5ea8c4" stroke-width="1.3"/></g><g transform="translate(855.30,233.2) scale(-1,-1)"><path d="M-3.9,88 L-3.9,99 C-3.9,104 3.4,106 3.4,112.3" fill="none" stroke="#5ea8c4" stroke-width="6.2" stroke-linecap="round"/><path d="M-3.9,88 L-3.9,99 C-3.9,104 3.4,106 3.4,112.3" fill="none" stroke="#a2d7f0" stroke-width="4.0" stroke-linecap="round"/><path d="M3.9,88 L3.9,95 C3.9,103 -3.4,104 -3.4,112.3" fill="none" stroke="#5ea8c4" stroke-width="6.2" stroke-linecap="round"/><path d="M3.9,88 L3.9,95 C3.9,103 -3.4,104 -3.4,112.3" fill="none" stroke="#a2d7f0" stroke-width="4.0" stroke-linecap="round"/><ellipse cx="0" cy="80.3" rx="8.9" ry="7.7" fill="#a9dbf0" stroke="#5ea8c4" stroke-width="1.3"/></g><g transform="translate(873.75,0)"><path d="M-3.9,88 L-3.9,99 C-3.9,104 3.4,106 3.4,112.3" fill="none" stroke="#5ea8c4" stroke-width="6.2" stroke-linecap="round"/><path d="M-3.9,88 L-3.9,99 C-3.9,104 3.4,106 3.4,112.3" fill="none" stroke="#a2d7f0" stroke-width="4.0" stroke-linecap="round"/><path d="M3.9,88 L3.9,95 C3.9,103 -3.4,104 -3.4,112.3" fill="none" stroke="#5ea8c4" stroke-width="6.2" stroke-linecap="round"/><path d="M3.9,88 L3.9,95 C3.9,103 -3.4,104 -3.4,112.3" fill="none" stroke="#a2d7f0" stroke-width="4.0" stroke-linecap="round"/><ellipse cx="0" cy="80.3" rx="8.9" ry="7.7" fill="#a9dbf0" stroke="#5ea8c4" stroke-width="1.3"/></g><g transform="translate(873.75,233.2) scale(-1,-1)"><path d="M-3.9,88 L-3.9,99 C-3.9,104 3.4,106 3.4,112.3" fill="none" stroke="#5ea8c4" stroke-width="6.2" stroke-linecap="round"/><path d="M-3.9,88 L-3.9,99 C-3.9,104 3.4,106 3.4,112.3" fill="none" stroke="#a2d7f0" stroke-width="4.0" stroke-linecap="round"/><path d="M3.9,88 L3.9,95 C3.9,103 -3.4,104 -3.4,112.3" fill="none" stroke="#5ea8c4" stroke-width="6.2" stroke-linecap="round"/><path d="M3.9,88 L3.9,95 C3.9,103 -3.4,104 -3.4,112.3" fill="none" stroke="#a2d7f0" stroke-width="4.0" stroke-linecap="round"/><ellipse cx="0" cy="80.3" rx="8.9" ry="7.7" fill="#a9dbf0" stroke="#5ea8c4" stroke-width="1.3"/></g><g transform="translate(892.20,0)"><path d="M-3.9,88 L-3.9,99 C-3.9,104 3.4,106 3.4,112.3" fill="none" stroke="#5ea8c4" stroke-width="6.2" stroke-linecap="round"/><path d="M-3.9,88 L-3.9,99 C-3.9,104 3.4,106 3.4,112.3" fill="none" stroke="#a2d7f0" stroke-width="4.0" stroke-linecap="round"/><path d="M3.9,88 L3.9,95 C3.9,103 -3.4,104 -3.4,112.3" fill="none" stroke="#5ea8c4" stroke-width="6.2" stroke-linecap="round"/><path d="M3.9,88 L3.9,95 C3.9,103 -3.4,104 -3.4,112.3" fill="none" stroke="#a2d7f0" stroke-width="4.0" stroke-linecap="round"/><ellipse cx="0" cy="80.3" rx="8.9" ry="7.7" fill="#a9dbf0" stroke="#5ea8c4" stroke-width="1.3"/></g><g transform="translate(892.20,233.2) scale(-1,-1)"><path d="M-3.9,88 L-3.9,99 C-3.9,104 3.4,106 3.4,112.3" fill="none" stroke="#5ea8c4" stroke-width="6.2" stroke-linecap="round"/><path d="M-3.9,88 L-3.9,99 C-3.9,104 3.4,106 3.4,112.3" fill="none" stroke="#a2d7f0" stroke-width="4.0" stroke-linecap="round"/><path d="M3.9,88 L3.9,95 C3.9,103 -3.4,104 -3.4,112.3" fill="none" stroke="#5ea8c4" stroke-width="6.2" stroke-linecap="round"/><path d="M3.9,88 L3.9,95 C3.9,103 -3.4,104 -3.4,112.3" fill="none" stroke="#a2d7f0" stroke-width="4.0" stroke-linecap="round"/><ellipse cx="0" cy="80.3" rx="8.9" ry="7.7" fill="#a9dbf0" stroke="#5ea8c4" stroke-width="1.3"/></g><g transform="translate(910.65,0)"><path d="M-3.9,88 L-3.9,99 C-3.9,104 3.4,106 3.4,112.3" fill="none" stroke="#5ea8c4" stroke-width="6.2" stroke-linecap="round"/><path d="M-3.9,88 L-3.9,99 C-3.9,104 3.4,106 3.4,112.3" fill="none" stroke="#a2d7f0" stroke-width="4.0" stroke-linecap="round"/><path d="M3.9,88 L3.9,95 C3.9,103 -3.4,104 -3.4,112.3" fill="none" stroke="#5ea8c4" stroke-width="6.2" stroke-linecap="round"/><path d="M3.9,88 L3.9,95 C3.9,103 -3.4,104 -3.4,112.3" fill="none" stroke="#a2d7f0" stroke-width="4.0" stroke-linecap="round"/><ellipse cx="0" cy="80.3" rx="8.9" ry="7.7" fill="#a9dbf0" stroke="#5ea8c4" stroke-width="1.3"/></g><g transform="translate(910.65,233.2) scale(-1,-1)"><path d="M-3.9,88 L-3.9,99 C-3.9,104 3.4,106 3.4,112.3" fill="none" stroke="#5ea8c4" stroke-width="6.2" stroke-linecap="round"/><path d="M-3.9,88 L-3.9,99 C-3.9,104 3.4,106 3.4,112.3" fill="none" stroke="#a2d7f0" stroke-width="4.0" stroke-linecap="round"/><path d="M3.9,88 L3.9,95 C3.9,103 -3.4,104 -3.4,112.3" fill="none" stroke="#5ea8c4" stroke-width="6.2" stroke-linecap="round"/><path d="M3.9,88 L3.9,95 C3.9,103 -3.4,104 -3.4,112.3" fill="none" stroke="#a2d7f0" stroke-width="4.0" stroke-linecap="round"/><ellipse cx="0" cy="80.3" rx="8.9" ry="7.7" fill="#a9dbf0" stroke="#5ea8c4" stroke-width="1.3"/></g><g transform="translate(929.10,0)"><path d="M-3.9,88 L-3.9,99 C-3.9,104 3.4,106 3.4,112.3" fill="none" stroke="#5ea8c4" stroke-width="6.2" stroke-linecap="round"/><path d="M-3.9,88 L-3.9,99 C-3.9,104 3.4,106 3.4,112.3" fill="none" stroke="#a2d7f0" stroke-width="4.0" stroke-linecap="round"/><path d="M3.9,88 L3.9,95 C3.9,103 -3.4,104 -3.4,112.3" fill="none" stroke="#5ea8c4" stroke-width="6.2" stroke-linecap="round"/><path d="M3.9,88 L3.9,95 C3.9,103 -3.4,104 -3.4,112.3" fill="none" stroke="#a2d7f0" stroke-width="4.0" stroke-linecap="round"/><ellipse cx="0" cy="80.3" rx="8.9" ry="7.7" fill="#a9dbf0" stroke="#5ea8c4" stroke-width="1.3"/></g><g transform="translate(929.10,233.2) scale(-1,-1)"><path d="M-3.9,88 L-3.9,99 C-3.9,104 3.4,106 3.4,112.3" fill="none" stroke="#5ea8c4" stroke-width="6.2" stroke-linecap="round"/><path d="M-3.9,88 L-3.9,99 C-3.9,104 3.4,106 3.4,112.3" fill="none" stroke="#a2d7f0" stroke-width="4.0" stroke-linecap="round"/><path d="M3.9,88 L3.9,95 C3.9,103 -3.4,104 -3.4,112.3" fill="none" stroke="#5ea8c4" stroke-width="6.2" stroke-linecap="round"/><path d="M3.9,88 L3.9,95 C3.9,103 -3.4,104 -3.4,112.3" fill="none" stroke="#a2d7f0" stroke-width="4.0" stroke-linecap="round"/><ellipse cx="0" cy="80.3" rx="8.9" ry="7.7" fill="#a9dbf0" stroke="#5ea8c4" stroke-width="1.3"/></g></g><g clip-path="url(#mc2)"><g transform="translate(972.05,0)"><path d="M-3.9,88 L-3.9,99 C-3.9,104 3.4,106 3.4,112.3" fill="none" stroke="#5ea8c4" stroke-width="6.2" stroke-linecap="round"/><path d="M-3.9,88 L-3.9,99 C-3.9,104 3.4,106 3.4,112.3" fill="none" stroke="#a2d7f0" stroke-width="4.0" stroke-linecap="round"/><path d="M3.9,88 L3.9,95 C3.9,103 -3.4,104 -3.4,112.3" fill="none" stroke="#5ea8c4" stroke-width="6.2" stroke-linecap="round"/><path d="M3.9,88 L3.9,95 C3.9,103 -3.4,104 -3.4,112.3" fill="none" stroke="#a2d7f0" stroke-width="4.0" stroke-linecap="round"/><ellipse cx="0" cy="80.3" rx="8.9" ry="7.7" fill="#a9dbf0" stroke="#5ea8c4" stroke-width="1.3"/></g><g transform="translate(972.05,233.2) scale(-1,-1)"><path d="M-3.9,88 L-3.9,99 C-3.9,104 3.4,106 3.4,112.3" fill="none" stroke="#5ea8c4" stroke-width="6.2" stroke-linecap="round"/><path d="M-3.9,88 L-3.9,99 C-3.9,104 3.4,106 3.4,112.3" fill="none" stroke="#a2d7f0" stroke-width="4.0" stroke-linecap="round"/><path d="M3.9,88 L3.9,95 C3.9,103 -3.4,104 -3.4,112.3" fill="none" stroke="#5ea8c4" stroke-width="6.2" stroke-linecap="round"/><path d="M3.9,88 L3.9,95 C3.9,103 -3.4,104 -3.4,112.3" fill="none" stroke="#a2d7f0" stroke-width="4.0" stroke-linecap="round"/><ellipse cx="0" cy="80.3" rx="8.9" ry="7.7" fill="#a9dbf0" stroke="#5ea8c4" stroke-width="1.3"/></g><g transform="translate(990.50,0)"><path d="M-3.9,88 L-3.9,99 C-3.9,104 3.4,106 3.4,112.3" fill="none" stroke="#5ea8c4" stroke-width="6.2" stroke-linecap="round"/><path d="M-3.9,88 L-3.9,99 C-3.9,104 3.4,106 3.4,112.3" fill="none" stroke="#a2d7f0" stroke-width="4.0" stroke-linecap="round"/><path d="M3.9,88 L3.9,95 C3.9,103 -3.4,104 -3.4,112.3" fill="none" stroke="#5ea8c4" stroke-width="6.2" stroke-linecap="round"/><path d="M3.9,88 L3.9,95 C3.9,103 -3.4,104 -3.4,112.3" fill="none" stroke="#a2d7f0" stroke-width="4.0" stroke-linecap="round"/><ellipse cx="0" cy="80.3" rx="8.9" ry="7.7" fill="#a9dbf0" stroke="#5ea8c4" stroke-width="1.3"/></g><g transform="translate(990.50,233.2) scale(-1,-1)"><path d="M-3.9,88 L-3.9,99 C-3.9,104 3.4,106 3.4,112.3" fill="none" stroke="#5ea8c4" stroke-width="6.2" stroke-linecap="round"/><path d="M-3.9,88 L-3.9,99 C-3.9,104 3.4,106 3.4,112.3" fill="none" stroke="#a2d7f0" stroke-width="4.0" stroke-linecap="round"/><path d="M3.9,88 L3.9,95 C3.9,103 -3.4,104 -3.4,112.3" fill="none" stroke="#5ea8c4" stroke-width="6.2" stroke-linecap="round"/><path d="M3.9,88 L3.9,95 C3.9,103 -3.4,104 -3.4,112.3" fill="none" stroke="#a2d7f0" stroke-width="4.0" stroke-linecap="round"/><ellipse cx="0" cy="80.3" rx="8.9" ry="7.7" fill="#a9dbf0" stroke="#5ea8c4" stroke-width="1.3"/></g><g transform="translate(1008.95,0)"><path d="M-3.9,88 L-3.9,99 C-3.9,104 3.4,106 3.4,112.3" fill="none" stroke="#5ea8c4" stroke-width="6.2" stroke-linecap="round"/><path d="M-3.9,88 L-3.9,99 C-3.9,104 3.4,106 3.4,112.3" fill="none" stroke="#a2d7f0" stroke-width="4.0" stroke-linecap="round"/><path d="M3.9,88 L3.9,95 C3.9,103 -3.4,104 -3.4,112.3" fill="none" stroke="#5ea8c4" stroke-width="6.2" stroke-linecap="round"/><path d="M3.9,88 L3.9,95 C3.9,103 -3.4,104 -3.4,112.3" fill="none" stroke="#a2d7f0" stroke-width="4.0" stroke-linecap="round"/><ellipse cx="0" cy="80.3" rx="8.9" ry="7.7" fill="#a9dbf0" stroke="#5ea8c4" stroke-width="1.3"/></g><g transform="translate(1008.95,233.2) scale(-1,-1)"><path d="M-3.9,88 L-3.9,99 C-3.9,104 3.4,106 3.4,112.3" fill="none" stroke="#5ea8c4" stroke-width="6.2" stroke-linecap="round"/><path d="M-3.9,88 L-3.9,99 C-3.9,104 3.4,106 3.4,112.3" fill="none" stroke="#a2d7f0" stroke-width="4.0" stroke-linecap="round"/><path d="M3.9,88 L3.9,95 C3.9,103 -3.4,104 -3.4,112.3" fill="none" stroke="#5ea8c4" stroke-width="6.2" stroke-linecap="round"/><path d="M3.9,88 L3.9,95 C3.9,103 -3.4,104 -3.4,112.3" fill="none" stroke="#a2d7f0" stroke-width="4.0" stroke-linecap="round"/><ellipse cx="0" cy="80.3" rx="8.9" ry="7.7" fill="#a9dbf0" stroke="#5ea8c4" stroke-width="1.3"/></g><g transform="translate(1027.40,0)"><path d="M-3.9,88 L-3.9,99 C-3.9,104 3.4,106 3.4,112.3" fill="none" stroke="#5ea8c4" stroke-width="6.2" stroke-linecap="round"/><path d="M-3.9,88 L-3.9,99 C-3.9,104 3.4,106 3.4,112.3" fill="none" stroke="#a2d7f0" stroke-width="4.0" stroke-linecap="round"/><path d="M3.9,88 L3.9,95 C3.9,103 -3.4,104 -3.4,112.3" fill="none" stroke="#5ea8c4" stroke-width="6.2" stroke-linecap="round"/><path d="M3.9,88 L3.9,95 C3.9,103 -3.4,104 -3.4,112.3" fill="none" stroke="#a2d7f0" stroke-width="4.0" stroke-linecap="round"/><ellipse cx="0" cy="80.3" rx="8.9" ry="7.7" fill="#a9dbf0" stroke="#5ea8c4" stroke-width="1.3"/></g><g transform="translate(1027.40,233.2) scale(-1,-1)"><path d="M-3.9,88 L-3.9,99 C-3.9,104 3.4,106 3.4,112.3" fill="none" stroke="#5ea8c4" stroke-width="6.2" stroke-linecap="round"/><path d="M-3.9,88 L-3.9,99 C-3.9,104 3.4,106 3.4,112.3" fill="none" stroke="#a2d7f0" stroke-width="4.0" stroke-linecap="round"/><path d="M3.9,88 L3.9,95 C3.9,103 -3.4,104 -3.4,112.3" fill="none" stroke="#5ea8c4" stroke-width="6.2" stroke-linecap="round"/><path d="M3.9,88 L3.9,95 C3.9,103 -3.4,104 -3.4,112.3" fill="none" stroke="#a2d7f0" stroke-width="4.0" stroke-linecap="round"/><ellipse cx="0" cy="80.3" rx="8.9" ry="7.7" fill="#a9dbf0" stroke="#5ea8c4" stroke-width="1.3"/></g><g transform="translate(1045.85,0)"><path d="M-3.9,88 L-3.9,99 C-3.9,104 3.4,106 3.4,112.3" fill="none" stroke="#5ea8c4" stroke-width="6.2" stroke-linecap="round"/><path d="M-3.9,88 L-3.9,99 C-3.9,104 3.4,106 3.4,112.3" fill="none" stroke="#a2d7f0" stroke-width="4.0" stroke-linecap="round"/><path d="M3.9,88 L3.9,95 C3.9,103 -3.4,104 -3.4,112.3" fill="none" stroke="#5ea8c4" stroke-width="6.2" stroke-linecap="round"/><path d="M3.9,88 L3.9,95 C3.9,103 -3.4,104 -3.4,112.3" fill="none" stroke="#a2d7f0" stroke-width="4.0" stroke-linecap="round"/><ellipse cx="0" cy="80.3" rx="8.9" ry="7.7" fill="#a9dbf0" stroke="#5ea8c4" stroke-width="1.3"/></g><g transform="translate(1045.85,233.2) scale(-1,-1)"><path d="M-3.9,88 L-3.9,99 C-3.9,104 3.4,106 3.4,112.3" fill="none" stroke="#5ea8c4" stroke-width="6.2" stroke-linecap="round"/><path d="M-3.9,88 L-3.9,99 C-3.9,104 3.4,106 3.4,112.3" fill="none" stroke="#a2d7f0" stroke-width="4.0" stroke-linecap="round"/><path d="M3.9,88 L3.9,95 C3.9,103 -3.4,104 -3.4,112.3" fill="none" stroke="#5ea8c4" stroke-width="6.2" stroke-linecap="round"/><path d="M3.9,88 L3.9,95 C3.9,103 -3.4,104 -3.4,112.3" fill="none" stroke="#a2d7f0" stroke-width="4.0" stroke-linecap="round"/><ellipse cx="0" cy="80.3" rx="8.9" ry="7.7" fill="#a9dbf0" stroke="#5ea8c4" stroke-width="1.3"/></g><g transform="translate(1064.30,0)"><path d="M-3.9,88 L-3.9,99 C-3.9,104 3.4,106 3.4,112.3" fill="none" stroke="#5ea8c4" stroke-width="6.2" stroke-linecap="round"/><path d="M-3.9,88 L-3.9,99 C-3.9,104 3.4,106 3.4,112.3" fill="none" stroke="#a2d7f0" stroke-width="4.0" stroke-linecap="round"/><path d="M3.9,88 L3.9,95 C3.9,103 -3.4,104 -3.4,112.3" fill="none" stroke="#5ea8c4" stroke-width="6.2" stroke-linecap="round"/><path d="M3.9,88 L3.9,95 C3.9,103 -3.4,104 -3.4,112.3" fill="none" stroke="#a2d7f0" stroke-width="4.0" stroke-linecap="round"/><ellipse cx="0" cy="80.3" rx="8.9" ry="7.7" fill="#a9dbf0" stroke="#5ea8c4" stroke-width="1.3"/></g><g transform="translate(1064.30,233.2) scale(-1,-1)"><path d="M-3.9,88 L-3.9,99 C-3.9,104 3.4,106 3.4,112.3" fill="none" stroke="#5ea8c4" stroke-width="6.2" stroke-linecap="round"/><path d="M-3.9,88 L-3.9,99 C-3.9,104 3.4,106 3.4,112.3" fill="none" stroke="#a2d7f0" stroke-width="4.0" stroke-linecap="round"/><path d="M3.9,88 L3.9,95 C3.9,103 -3.4,104 -3.4,112.3" fill="none" stroke="#5ea8c4" stroke-width="6.2" stroke-linecap="round"/><path d="M3.9,88 L3.9,95 C3.9,103 -3.4,104 -3.4,112.3" fill="none" stroke="#a2d7f0" stroke-width="4.0" stroke-linecap="round"/><ellipse cx="0" cy="80.3" rx="8.9" ry="7.7" fill="#a9dbf0" stroke="#5ea8c4" stroke-width="1.3"/></g><g transform="translate(1082.75,0)"><path d="M-3.9,88 L-3.9,99 C-3.9,104 3.4,106 3.4,112.3" fill="none" stroke="#5ea8c4" stroke-width="6.2" stroke-linecap="round"/><path d="M-3.9,88 L-3.9,99 C-3.9,104 3.4,106 3.4,112.3" fill="none" stroke="#a2d7f0" stroke-width="4.0" stroke-linecap="round"/><path d="M3.9,88 L3.9,95 C3.9,103 -3.4,104 -3.4,112.3" fill="none" stroke="#5ea8c4" stroke-width="6.2" stroke-linecap="round"/><path d="M3.9,88 L3.9,95 C3.9,103 -3.4,104 -3.4,112.3" fill="none" stroke="#a2d7f0" stroke-width="4.0" stroke-linecap="round"/><ellipse cx="0" cy="80.3" rx="8.9" ry="7.7" fill="#a9dbf0" stroke="#5ea8c4" stroke-width="1.3"/></g><g transform="translate(1082.75,233.2) scale(-1,-1)"><path d="M-3.9,88 L-3.9,99 C-3.9,104 3.4,106 3.4,112.3" fill="none" stroke="#5ea8c4" stroke-width="6.2" stroke-linecap="round"/><path d="M-3.9,88 L-3.9,99 C-3.9,104 3.4,106 3.4,112.3" fill="none" stroke="#a2d7f0" stroke-width="4.0" stroke-linecap="round"/><path d="M3.9,88 L3.9,95 C3.9,103 -3.4,104 -3.4,112.3" fill="none" stroke="#5ea8c4" stroke-width="6.2" stroke-linecap="round"/><path d="M3.9,88 L3.9,95 C3.9,103 -3.4,104 -3.4,112.3" fill="none" stroke="#a2d7f0" stroke-width="4.0" stroke-linecap="round"/><ellipse cx="0" cy="80.3" rx="8.9" ry="7.7" fill="#a9dbf0" stroke="#5ea8c4" stroke-width="1.3"/></g><g transform="translate(1101.20,0)"><path d="M-3.9,88 L-3.9,99 C-3.9,104 3.4,106 3.4,112.3" fill="none" stroke="#5ea8c4" stroke-width="6.2" stroke-linecap="round"/><path d="M-3.9,88 L-3.9,99 C-3.9,104 3.4,106 3.4,112.3" fill="none" stroke="#a2d7f0" stroke-width="4.0" stroke-linecap="round"/><path d="M3.9,88 L3.9,95 C3.9,103 -3.4,104 -3.4,112.3" fill="none" stroke="#5ea8c4" stroke-width="6.2" stroke-linecap="round"/><path d="M3.9,88 L3.9,95 C3.9,103 -3.4,104 -3.4,112.3" fill="none" stroke="#a2d7f0" stroke-width="4.0" stroke-linecap="round"/><ellipse cx="0" cy="80.3" rx="8.9" ry="7.7" fill="#a9dbf0" stroke="#5ea8c4" stroke-width="1.3"/></g><g transform="translate(1101.20,233.2) scale(-1,-1)"><path d="M-3.9,88 L-3.9,99 C-3.9,104 3.4,106 3.4,112.3" fill="none" stroke="#5ea8c4" stroke-width="6.2" stroke-linecap="round"/><path d="M-3.9,88 L-3.9,99 C-3.9,104 3.4,106 3.4,112.3" fill="none" stroke="#a2d7f0" stroke-width="4.0" stroke-linecap="round"/><path d="M3.9,88 L3.9,95 C3.9,103 -3.4,104 -3.4,112.3" fill="none" stroke="#5ea8c4" stroke-width="6.2" stroke-linecap="round"/><path d="M3.9,88 L3.9,95 C3.9,103 -3.4,104 -3.4,112.3" fill="none" stroke="#a2d7f0" stroke-width="4.0" stroke-linecap="round"/><ellipse cx="0" cy="80.3" rx="8.9" ry="7.7" fill="#a9dbf0" stroke="#5ea8c4" stroke-width="1.3"/></g><g transform="translate(1119.65,0)"><path d="M-3.9,88 L-3.9,99 C-3.9,104 3.4,106 3.4,112.3" fill="none" stroke="#5ea8c4" stroke-width="6.2" stroke-linecap="round"/><path d="M-3.9,88 L-3.9,99 C-3.9,104 3.4,106 3.4,112.3" fill="none" stroke="#a2d7f0" stroke-width="4.0" stroke-linecap="round"/><path d="M3.9,88 L3.9,95 C3.9,103 -3.4,104 -3.4,112.3" fill="none" stroke="#5ea8c4" stroke-width="6.2" stroke-linecap="round"/><path d="M3.9,88 L3.9,95 C3.9,103 -3.4,104 -3.4,112.3" fill="none" stroke="#a2d7f0" stroke-width="4.0" stroke-linecap="round"/><ellipse cx="0" cy="80.3" rx="8.9" ry="7.7" fill="#a9dbf0" stroke="#5ea8c4" stroke-width="1.3"/></g><g transform="translate(1119.65,233.2) scale(-1,-1)"><path d="M-3.9,88 L-3.9,99 C-3.9,104 3.4,106 3.4,112.3" fill="none" stroke="#5ea8c4" stroke-width="6.2" stroke-linecap="round"/><path d="M-3.9,88 L-3.9,99 C-3.9,104 3.4,106 3.4,112.3" fill="none" stroke="#a2d7f0" stroke-width="4.0" stroke-linecap="round"/><path d="M3.9,88 L3.9,95 C3.9,103 -3.4,104 -3.4,112.3" fill="none" stroke="#5ea8c4" stroke-width="6.2" stroke-linecap="round"/><path d="M3.9,88 L3.9,95 C3.9,103 -3.4,104 -3.4,112.3" fill="none" stroke="#a2d7f0" stroke-width="4.0" stroke-linecap="round"/><ellipse cx="0" cy="80.3" rx="8.9" ry="7.7" fill="#a9dbf0" stroke="#5ea8c4" stroke-width="1.3"/></g><g transform="translate(1138.10,0)"><path d="M-3.9,88 L-3.9,99 C-3.9,104 3.4,106 3.4,112.3" fill="none" stroke="#5ea8c4" stroke-width="6.2" stroke-linecap="round"/><path d="M-3.9,88 L-3.9,99 C-3.9,104 3.4,106 3.4,112.3" fill="none" stroke="#a2d7f0" stroke-width="4.0" stroke-linecap="round"/><path d="M3.9,88 L3.9,95 C3.9,103 -3.4,104 -3.4,112.3" fill="none" stroke="#5ea8c4" stroke-width="6.2" stroke-linecap="round"/><path d="M3.9,88 L3.9,95 C3.9,103 -3.4,104 -3.4,112.3" fill="none" stroke="#a2d7f0" stroke-width="4.0" stroke-linecap="round"/><ellipse cx="0" cy="80.3" rx="8.9" ry="7.7" fill="#a9dbf0" stroke="#5ea8c4" stroke-width="1.3"/></g><g transform="translate(1138.10,233.2) scale(-1,-1)"><path d="M-3.9,88 L-3.9,99 C-3.9,104 3.4,106 3.4,112.3" fill="none" stroke="#5ea8c4" stroke-width="6.2" stroke-linecap="round"/><path d="M-3.9,88 L-3.9,99 C-3.9,104 3.4,106 3.4,112.3" fill="none" stroke="#a2d7f0" stroke-width="4.0" stroke-linecap="round"/><path d="M3.9,88 L3.9,95 C3.9,103 -3.4,104 -3.4,112.3" fill="none" stroke="#5ea8c4" stroke-width="6.2" stroke-linecap="round"/><path d="M3.9,88 L3.9,95 C3.9,103 -3.4,104 -3.4,112.3" fill="none" stroke="#a2d7f0" stroke-width="4.0" stroke-linecap="round"/><ellipse cx="0" cy="80.3" rx="8.9" ry="7.7" fill="#a9dbf0" stroke="#5ea8c4" stroke-width="1.3"/></g><g transform="translate(1156.55,0)"><path d="M-3.9,88 L-3.9,99 C-3.9,104 3.4,106 3.4,112.3" fill="none" stroke="#5ea8c4" stroke-width="6.2" stroke-linecap="round"/><path d="M-3.9,88 L-3.9,99 C-3.9,104 3.4,106 3.4,112.3" fill="none" stroke="#a2d7f0" stroke-width="4.0" stroke-linecap="round"/><path d="M3.9,88 L3.9,95 C3.9,103 -3.4,104 -3.4,112.3" fill="none" stroke="#5ea8c4" stroke-width="6.2" stroke-linecap="round"/><path d="M3.9,88 L3.9,95 C3.9,103 -3.4,104 -3.4,112.3" fill="none" stroke="#a2d7f0" stroke-width="4.0" stroke-linecap="round"/><ellipse cx="0" cy="80.3" rx="8.9" ry="7.7" fill="#a9dbf0" stroke="#5ea8c4" stroke-width="1.3"/></g><g transform="translate(1156.55,233.2) scale(-1,-1)"><path d="M-3.9,88 L-3.9,99 C-3.9,104 3.4,106 3.4,112.3" fill="none" stroke="#5ea8c4" stroke-width="6.2" stroke-linecap="round"/><path d="M-3.9,88 L-3.9,99 C-3.9,104 3.4,106 3.4,112.3" fill="none" stroke="#a2d7f0" stroke-width="4.0" stroke-linecap="round"/><path d="M3.9,88 L3.9,95 C3.9,103 -3.4,104 -3.4,112.3" fill="none" stroke="#5ea8c4" stroke-width="6.2" stroke-linecap="round"/><path d="M3.9,88 L3.9,95 C3.9,103 -3.4,104 -3.4,112.3" fill="none" stroke="#a2d7f0" stroke-width="4.0" stroke-linecap="round"/><ellipse cx="0" cy="80.3" rx="8.9" ry="7.7" fill="#a9dbf0" stroke="#5ea8c4" stroke-width="1.3"/></g><g transform="translate(1175.00,0)"><path d="M-3.9,88 L-3.9,99 C-3.9,104 3.4,106 3.4,112.3" fill="none" stroke="#5ea8c4" stroke-width="6.2" stroke-linecap="round"/><path d="M-3.9,88 L-3.9,99 C-3.9,104 3.4,106 3.4,112.3" fill="none" stroke="#a2d7f0" stroke-width="4.0" stroke-linecap="round"/><path d="M3.9,88 L3.9,95 C3.9,103 -3.4,104 -3.4,112.3" fill="none" stroke="#5ea8c4" stroke-width="6.2" stroke-linecap="round"/><path d="M3.9,88 L3.9,95 C3.9,103 -3.4,104 -3.4,112.3" fill="none" stroke="#a2d7f0" stroke-width="4.0" stroke-linecap="round"/><ellipse cx="0" cy="80.3" rx="8.9" ry="7.7" fill="#a9dbf0" stroke="#5ea8c4" stroke-width="1.3"/></g><g transform="translate(1175.00,233.2) scale(-1,-1)"><path d="M-3.9,88 L-3.9,99 C-3.9,104 3.4,106 3.4,112.3" fill="none" stroke="#5ea8c4" stroke-width="6.2" stroke-linecap="round"/><path d="M-3.9,88 L-3.9,99 C-3.9,104 3.4,106 3.4,112.3" fill="none" stroke="#a2d7f0" stroke-width="4.0" stroke-linecap="round"/><path d="M3.9,88 L3.9,95 C3.9,103 -3.4,104 -3.4,112.3" fill="none" stroke="#5ea8c4" stroke-width="6.2" stroke-linecap="round"/><path d="M3.9,88 L3.9,95 C3.9,103 -3.4,104 -3.4,112.3" fill="none" stroke="#a2d7f0" stroke-width="4.0" stroke-linecap="round"/><ellipse cx="0" cy="80.3" rx="8.9" ry="7.7" fill="#a9dbf0" stroke="#5ea8c4" stroke-width="1.3"/></g><g transform="translate(1193.45,0)"><path d="M-3.9,88 L-3.9,99 C-3.9,104 3.4,106 3.4,112.3" fill="none" stroke="#5ea8c4" stroke-width="6.2" stroke-linecap="round"/><path d="M-3.9,88 L-3.9,99 C-3.9,104 3.4,106 3.4,112.3" fill="none" stroke="#a2d7f0" stroke-width="4.0" stroke-linecap="round"/><path d="M3.9,88 L3.9,95 C3.9,103 -3.4,104 -3.4,112.3" fill="none" stroke="#5ea8c4" stroke-width="6.2" stroke-linecap="round"/><path d="M3.9,88 L3.9,95 C3.9,103 -3.4,104 -3.4,112.3" fill="none" stroke="#a2d7f0" stroke-width="4.0" stroke-linecap="round"/><ellipse cx="0" cy="80.3" rx="8.9" ry="7.7" fill="#a9dbf0" stroke="#5ea8c4" stroke-width="1.3"/></g><g transform="translate(1193.45,233.2) scale(-1,-1)"><path d="M-3.9,88 L-3.9,99 C-3.9,104 3.4,106 3.4,112.3" fill="none" stroke="#5ea8c4" stroke-width="6.2" stroke-linecap="round"/><path d="M-3.9,88 L-3.9,99 C-3.9,104 3.4,106 3.4,112.3" fill="none" stroke="#a2d7f0" stroke-width="4.0" stroke-linecap="round"/><path d="M3.9,88 L3.9,95 C3.9,103 -3.4,104 -3.4,112.3" fill="none" stroke="#5ea8c4" stroke-width="6.2" stroke-linecap="round"/><path d="M3.9,88 L3.9,95 C3.9,103 -3.4,104 -3.4,112.3" fill="none" stroke="#a2d7f0" stroke-width="4.0" stroke-linecap="round"/><ellipse cx="0" cy="80.3" rx="8.9" ry="7.7" fill="#a9dbf0" stroke="#5ea8c4" stroke-width="1.3"/></g><g transform="translate(1211.90,0)"><path d="M-3.9,88 L-3.9,99 C-3.9,104 3.4,106 3.4,112.3" fill="none" stroke="#5ea8c4" stroke-width="6.2" stroke-linecap="round"/><path d="M-3.9,88 L-3.9,99 C-3.9,104 3.4,106 3.4,112.3" fill="none" stroke="#a2d7f0" stroke-width="4.0" stroke-linecap="round"/><path d="M3.9,88 L3.9,95 C3.9,103 -3.4,104 -3.4,112.3" fill="none" stroke="#5ea8c4" stroke-width="6.2" stroke-linecap="round"/><path d="M3.9,88 L3.9,95 C3.9,103 -3.4,104 -3.4,112.3" fill="none" stroke="#a2d7f0" stroke-width="4.0" stroke-linecap="round"/><ellipse cx="0" cy="80.3" rx="8.9" ry="7.7" fill="#a9dbf0" stroke="#5ea8c4" stroke-width="1.3"/></g><g transform="translate(1211.90,233.2) scale(-1,-1)"><path d="M-3.9,88 L-3.9,99 C-3.9,104 3.4,106 3.4,112.3" fill="none" stroke="#5ea8c4" stroke-width="6.2" stroke-linecap="round"/><path d="M-3.9,88 L-3.9,99 C-3.9,104 3.4,106 3.4,112.3" fill="none" stroke="#a2d7f0" stroke-width="4.0" stroke-linecap="round"/><path d="M3.9,88 L3.9,95 C3.9,103 -3.4,104 -3.4,112.3" fill="none" stroke="#5ea8c4" stroke-width="6.2" stroke-linecap="round"/><path d="M3.9,88 L3.9,95 C3.9,103 -3.4,104 -3.4,112.3" fill="none" stroke="#a2d7f0" stroke-width="4.0" stroke-linecap="round"/><ellipse cx="0" cy="80.3" rx="8.9" ry="7.7" fill="#a9dbf0" stroke="#5ea8c4" stroke-width="1.3"/></g><g transform="translate(1230.35,0)"><path d="M-3.9,88 L-3.9,99 C-3.9,104 3.4,106 3.4,112.3" fill="none" stroke="#5ea8c4" stroke-width="6.2" stroke-linecap="round"/><path d="M-3.9,88 L-3.9,99 C-3.9,104 3.4,106 3.4,112.3" fill="none" stroke="#a2d7f0" stroke-width="4.0" stroke-linecap="round"/><path d="M3.9,88 L3.9,95 C3.9,103 -3.4,104 -3.4,112.3" fill="none" stroke="#5ea8c4" stroke-width="6.2" stroke-linecap="round"/><path d="M3.9,88 L3.9,95 C3.9,103 -3.4,104 -3.4,112.3" fill="none" stroke="#a2d7f0" stroke-width="4.0" stroke-linecap="round"/><ellipse cx="0" cy="80.3" rx="8.9" ry="7.7" fill="#a9dbf0" stroke="#5ea8c4" stroke-width="1.3"/></g><g transform="translate(1230.35,233.2) scale(-1,-1)"><path d="M-3.9,88 L-3.9,99 C-3.9,104 3.4,106 3.4,112.3" fill="none" stroke="#5ea8c4" stroke-width="6.2" stroke-linecap="round"/><path d="M-3.9,88 L-3.9,99 C-3.9,104 3.4,106 3.4,112.3" fill="none" stroke="#a2d7f0" stroke-width="4.0" stroke-linecap="round"/><path d="M3.9,88 L3.9,95 C3.9,103 -3.4,104 -3.4,112.3" fill="none" stroke="#5ea8c4" stroke-width="6.2" stroke-linecap="round"/><path d="M3.9,88 L3.9,95 C3.9,103 -3.4,104 -3.4,112.3" fill="none" stroke="#a2d7f0" stroke-width="4.0" stroke-linecap="round"/><ellipse cx="0" cy="80.3" rx="8.9" ry="7.7" fill="#a9dbf0" stroke="#5ea8c4" stroke-width="1.3"/></g><g transform="translate(1248.80,0)"><path d="M-3.9,88 L-3.9,99 C-3.9,104 3.4,106 3.4,112.3" fill="none" stroke="#5ea8c4" stroke-width="6.2" stroke-linecap="round"/><path d="M-3.9,88 L-3.9,99 C-3.9,104 3.4,106 3.4,112.3" fill="none" stroke="#a2d7f0" stroke-width="4.0" stroke-linecap="round"/><path d="M3.9,88 L3.9,95 C3.9,103 -3.4,104 -3.4,112.3" fill="none" stroke="#5ea8c4" stroke-width="6.2" stroke-linecap="round"/><path d="M3.9,88 L3.9,95 C3.9,103 -3.4,104 -3.4,112.3" fill="none" stroke="#a2d7f0" stroke-width="4.0" stroke-linecap="round"/><ellipse cx="0" cy="80.3" rx="8.9" ry="7.7" fill="#a9dbf0" stroke="#5ea8c4" stroke-width="1.3"/></g><g transform="translate(1248.80,233.2) scale(-1,-1)"><path d="M-3.9,88 L-3.9,99 C-3.9,104 3.4,106 3.4,112.3" fill="none" stroke="#5ea8c4" stroke-width="6.2" stroke-linecap="round"/><path d="M-3.9,88 L-3.9,99 C-3.9,104 3.4,106 3.4,112.3" fill="none" stroke="#a2d7f0" stroke-width="4.0" stroke-linecap="round"/><path d="M3.9,88 L3.9,95 C3.9,103 -3.4,104 -3.4,112.3" fill="none" stroke="#5ea8c4" stroke-width="6.2" stroke-linecap="round"/><path d="M3.9,88 L3.9,95 C3.9,103 -3.4,104 -3.4,112.3" fill="none" stroke="#a2d7f0" stroke-width="4.0" stroke-linecap="round"/><ellipse cx="0" cy="80.3" rx="8.9" ry="7.7" fill="#a9dbf0" stroke="#5ea8c4" stroke-width="1.3"/></g><g transform="translate(1267.25,0)"><path d="M-3.9,88 L-3.9,99 C-3.9,104 3.4,106 3.4,112.3" fill="none" stroke="#5ea8c4" stroke-width="6.2" stroke-linecap="round"/><path d="M-3.9,88 L-3.9,99 C-3.9,104 3.4,106 3.4,112.3" fill="none" stroke="#a2d7f0" stroke-width="4.0" stroke-linecap="round"/><path d="M3.9,88 L3.9,95 C3.9,103 -3.4,104 -3.4,112.3" fill="none" stroke="#5ea8c4" stroke-width="6.2" stroke-linecap="round"/><path d="M3.9,88 L3.9,95 C3.9,103 -3.4,104 -3.4,112.3" fill="none" stroke="#a2d7f0" stroke-width="4.0" stroke-linecap="round"/><ellipse cx="0" cy="80.3" rx="8.9" ry="7.7" fill="#a9dbf0" stroke="#5ea8c4" stroke-width="1.3"/></g><g transform="translate(1267.25,233.2) scale(-1,-1)"><path d="M-3.9,88 L-3.9,99 C-3.9,104 3.4,106 3.4,112.3" fill="none" stroke="#5ea8c4" stroke-width="6.2" stroke-linecap="round"/><path d="M-3.9,88 L-3.9,99 C-3.9,104 3.4,106 3.4,112.3" fill="none" stroke="#a2d7f0" stroke-width="4.0" stroke-linecap="round"/><path d="M3.9,88 L3.9,95 C3.9,103 -3.4,104 -3.4,112.3" fill="none" stroke="#5ea8c4" stroke-width="6.2" stroke-linecap="round"/><path d="M3.9,88 L3.9,95 C3.9,103 -3.4,104 -3.4,112.3" fill="none" stroke="#a2d7f0" stroke-width="4.0" stroke-linecap="round"/><ellipse cx="0" cy="80.3" rx="8.9" ry="7.7" fill="#a9dbf0" stroke="#5ea8c4" stroke-width="1.3"/></g><g transform="translate(1285.70,0)"><path d="M-3.9,88 L-3.9,99 C-3.9,104 3.4,106 3.4,112.3" fill="none" stroke="#5ea8c4" stroke-width="6.2" stroke-linecap="round"/><path d="M-3.9,88 L-3.9,99 C-3.9,104 3.4,106 3.4,112.3" fill="none" stroke="#a2d7f0" stroke-width="4.0" stroke-linecap="round"/><path d="M3.9,88 L3.9,95 C3.9,103 -3.4,104 -3.4,112.3" fill="none" stroke="#5ea8c4" stroke-width="6.2" stroke-linecap="round"/><path d="M3.9,88 L3.9,95 C3.9,103 -3.4,104 -3.4,112.3" fill="none" stroke="#a2d7f0" stroke-width="4.0" stroke-linecap="round"/><ellipse cx="0" cy="80.3" rx="8.9" ry="7.7" fill="#a9dbf0" stroke="#5ea8c4" stroke-width="1.3"/></g><g transform="translate(1285.70,233.2) scale(-1,-1)"><path d="M-3.9,88 L-3.9,99 C-3.9,104 3.4,106 3.4,112.3" fill="none" stroke="#5ea8c4" stroke-width="6.2" stroke-linecap="round"/><path d="M-3.9,88 L-3.9,99 C-3.9,104 3.4,106 3.4,112.3" fill="none" stroke="#a2d7f0" stroke-width="4.0" stroke-linecap="round"/><path d="M3.9,88 L3.9,95 C3.9,103 -3.4,104 -3.4,112.3" fill="none" stroke="#5ea8c4" stroke-width="6.2" stroke-linecap="round"/><path d="M3.9,88 L3.9,95 C3.9,103 -3.4,104 -3.4,112.3" fill="none" stroke="#a2d7f0" stroke-width="4.0" stroke-linecap="round"/><ellipse cx="0" cy="80.3" rx="8.9" ry="7.7" fill="#a9dbf0" stroke="#5ea8c4" stroke-width="1.3"/></g><g transform="translate(1304.15,0)"><path d="M-3.9,88 L-3.9,99 C-3.9,104 3.4,106 3.4,112.3" fill="none" stroke="#5ea8c4" stroke-width="6.2" stroke-linecap="round"/><path d="M-3.9,88 L-3.9,99 C-3.9,104 3.4,106 3.4,112.3" fill="none" stroke="#a2d7f0" stroke-width="4.0" stroke-linecap="round"/><path d="M3.9,88 L3.9,95 C3.9,103 -3.4,104 -3.4,112.3" fill="none" stroke="#5ea8c4" stroke-width="6.2" stroke-linecap="round"/><path d="M3.9,88 L3.9,95 C3.9,103 -3.4,104 -3.4,112.3" fill="none" stroke="#a2d7f0" stroke-width="4.0" stroke-linecap="round"/><ellipse cx="0" cy="80.3" rx="8.9" ry="7.7" fill="#a9dbf0" stroke="#5ea8c4" stroke-width="1.3"/></g><g transform="translate(1304.15,233.2) scale(-1,-1)"><path d="M-3.9,88 L-3.9,99 C-3.9,104 3.4,106 3.4,112.3" fill="none" stroke="#5ea8c4" stroke-width="6.2" stroke-linecap="round"/><path d="M-3.9,88 L-3.9,99 C-3.9,104 3.4,106 3.4,112.3" fill="none" stroke="#a2d7f0" stroke-width="4.0" stroke-linecap="round"/><path d="M3.9,88 L3.9,95 C3.9,103 -3.4,104 -3.4,112.3" fill="none" stroke="#5ea8c4" stroke-width="6.2" stroke-linecap="round"/><path d="M3.9,88 L3.9,95 C3.9,103 -3.4,104 -3.4,112.3" fill="none" stroke="#a2d7f0" stroke-width="4.0" stroke-linecap="round"/><ellipse cx="0" cy="80.3" rx="8.9" ry="7.7" fill="#a9dbf0" stroke="#5ea8c4" stroke-width="1.3"/></g><g transform="translate(1322.60,0)"><path d="M-3.9,88 L-3.9,99 C-3.9,104 3.4,106 3.4,112.3" fill="none" stroke="#5ea8c4" stroke-width="6.2" stroke-linecap="round"/><path d="M-3.9,88 L-3.9,99 C-3.9,104 3.4,106 3.4,112.3" fill="none" stroke="#a2d7f0" stroke-width="4.0" stroke-linecap="round"/><path d="M3.9,88 L3.9,95 C3.9,103 -3.4,104 -3.4,112.3" fill="none" stroke="#5ea8c4" stroke-width="6.2" stroke-linecap="round"/><path d="M3.9,88 L3.9,95 C3.9,103 -3.4,104 -3.4,112.3" fill="none" stroke="#a2d7f0" stroke-width="4.0" stroke-linecap="round"/><ellipse cx="0" cy="80.3" rx="8.9" ry="7.7" fill="#a9dbf0" stroke="#5ea8c4" stroke-width="1.3"/></g><g transform="translate(1322.60,233.2) scale(-1,-1)"><path d="M-3.9,88 L-3.9,99 C-3.9,104 3.4,106 3.4,112.3" fill="none" stroke="#5ea8c4" stroke-width="6.2" stroke-linecap="round"/><path d="M-3.9,88 L-3.9,99 C-3.9,104 3.4,106 3.4,112.3" fill="none" stroke="#a2d7f0" stroke-width="4.0" stroke-linecap="round"/><path d="M3.9,88 L3.9,95 C3.9,103 -3.4,104 -3.4,112.3" fill="none" stroke="#5ea8c4" stroke-width="6.2" stroke-linecap="round"/><path d="M3.9,88 L3.9,95 C3.9,103 -3.4,104 -3.4,112.3" fill="none" stroke="#a2d7f0" stroke-width="4.0" stroke-linecap="round"/><ellipse cx="0" cy="80.3" rx="8.9" ry="7.7" fill="#a9dbf0" stroke="#5ea8c4" stroke-width="1.3"/></g><g transform="translate(1341.05,0)"><path d="M-3.9,88 L-3.9,99 C-3.9,104 3.4,106 3.4,112.3" fill="none" stroke="#5ea8c4" stroke-width="6.2" stroke-linecap="round"/><path d="M-3.9,88 L-3.9,99 C-3.9,104 3.4,106 3.4,112.3" fill="none" stroke="#a2d7f0" stroke-width="4.0" stroke-linecap="round"/><path d="M3.9,88 L3.9,95 C3.9,103 -3.4,104 -3.4,112.3" fill="none" stroke="#5ea8c4" stroke-width="6.2" stroke-linecap="round"/><path d="M3.9,88 L3.9,95 C3.9,103 -3.4,104 -3.4,112.3" fill="none" stroke="#a2d7f0" stroke-width="4.0" stroke-linecap="round"/><ellipse cx="0" cy="80.3" rx="8.9" ry="7.7" fill="#a9dbf0" stroke="#5ea8c4" stroke-width="1.3"/></g><g transform="translate(1341.05,233.2) scale(-1,-1)"><path d="M-3.9,88 L-3.9,99 C-3.9,104 3.4,106 3.4,112.3" fill="none" stroke="#5ea8c4" stroke-width="6.2" stroke-linecap="round"/><path d="M-3.9,88 L-3.9,99 C-3.9,104 3.4,106 3.4,112.3" fill="none" stroke="#a2d7f0" stroke-width="4.0" stroke-linecap="round"/><path d="M3.9,88 L3.9,95 C3.9,103 -3.4,104 -3.4,112.3" fill="none" stroke="#5ea8c4" stroke-width="6.2" stroke-linecap="round"/><path d="M3.9,88 L3.9,95 C3.9,103 -3.4,104 -3.4,112.3" fill="none" stroke="#a2d7f0" stroke-width="4.0" stroke-linecap="round"/><ellipse cx="0" cy="80.3" rx="8.9" ry="7.7" fill="#a9dbf0" stroke="#5ea8c4" stroke-width="1.3"/></g><g transform="translate(1359.50,0)"><path d="M-3.9,88 L-3.9,99 C-3.9,104 3.4,106 3.4,112.3" fill="none" stroke="#5ea8c4" stroke-width="6.2" stroke-linecap="round"/><path d="M-3.9,88 L-3.9,99 C-3.9,104 3.4,106 3.4,112.3" fill="none" stroke="#a2d7f0" stroke-width="4.0" stroke-linecap="round"/><path d="M3.9,88 L3.9,95 C3.9,103 -3.4,104 -3.4,112.3" fill="none" stroke="#5ea8c4" stroke-width="6.2" stroke-linecap="round"/><path d="M3.9,88 L3.9,95 C3.9,103 -3.4,104 -3.4,112.3" fill="none" stroke="#a2d7f0" stroke-width="4.0" stroke-linecap="round"/><ellipse cx="0" cy="80.3" rx="8.9" ry="7.7" fill="#a9dbf0" stroke="#5ea8c4" stroke-width="1.3"/></g><g transform="translate(1359.50,233.2) scale(-1,-1)"><path d="M-3.9,88 L-3.9,99 C-3.9,104 3.4,106 3.4,112.3" fill="none" stroke="#5ea8c4" stroke-width="6.2" stroke-linecap="round"/><path d="M-3.9,88 L-3.9,99 C-3.9,104 3.4,106 3.4,112.3" fill="none" stroke="#a2d7f0" stroke-width="4.0" stroke-linecap="round"/><path d="M3.9,88 L3.9,95 C3.9,103 -3.4,104 -3.4,112.3" fill="none" stroke="#5ea8c4" stroke-width="6.2" stroke-linecap="round"/><path d="M3.9,88 L3.9,95 C3.9,103 -3.4,104 -3.4,112.3" fill="none" stroke="#a2d7f0" stroke-width="4.0" stroke-linecap="round"/><ellipse cx="0" cy="80.3" rx="8.9" ry="7.7" fill="#a9dbf0" stroke="#5ea8c4" stroke-width="1.3"/></g><g transform="translate(1377.95,0)"><path d="M-3.9,88 L-3.9,99 C-3.9,104 3.4,106 3.4,112.3" fill="none" stroke="#5ea8c4" stroke-width="6.2" stroke-linecap="round"/><path d="M-3.9,88 L-3.9,99 C-3.9,104 3.4,106 3.4,112.3" fill="none" stroke="#a2d7f0" stroke-width="4.0" stroke-linecap="round"/><path d="M3.9,88 L3.9,95 C3.9,103 -3.4,104 -3.4,112.3" fill="none" stroke="#5ea8c4" stroke-width="6.2" stroke-linecap="round"/><path d="M3.9,88 L3.9,95 C3.9,103 -3.4,104 -3.4,112.3" fill="none" stroke="#a2d7f0" stroke-width="4.0" stroke-linecap="round"/><ellipse cx="0" cy="80.3" rx="8.9" ry="7.7" fill="#a9dbf0" stroke="#5ea8c4" stroke-width="1.3"/></g><g transform="translate(1377.95,233.2) scale(-1,-1)"><path d="M-3.9,88 L-3.9,99 C-3.9,104 3.4,106 3.4,112.3" fill="none" stroke="#5ea8c4" stroke-width="6.2" stroke-linecap="round"/><path d="M-3.9,88 L-3.9,99 C-3.9,104 3.4,106 3.4,112.3" fill="none" stroke="#a2d7f0" stroke-width="4.0" stroke-linecap="round"/><path d="M3.9,88 L3.9,95 C3.9,103 -3.4,104 -3.4,112.3" fill="none" stroke="#5ea8c4" stroke-width="6.2" stroke-linecap="round"/><path d="M3.9,88 L3.9,95 C3.9,103 -3.4,104 -3.4,112.3" fill="none" stroke="#a2d7f0" stroke-width="4.0" stroke-linecap="round"/><ellipse cx="0" cy="80.3" rx="8.9" ry="7.7" fill="#a9dbf0" stroke="#5ea8c4" stroke-width="1.3"/></g><g transform="translate(1396.40,0)"><path d="M-3.9,88 L-3.9,99 C-3.9,104 3.4,106 3.4,112.3" fill="none" stroke="#5ea8c4" stroke-width="6.2" stroke-linecap="round"/><path d="M-3.9,88 L-3.9,99 C-3.9,104 3.4,106 3.4,112.3" fill="none" stroke="#a2d7f0" stroke-width="4.0" stroke-linecap="round"/><path d="M3.9,88 L3.9,95 C3.9,103 -3.4,104 -3.4,112.3" fill="none" stroke="#5ea8c4" stroke-width="6.2" stroke-linecap="round"/><path d="M3.9,88 L3.9,95 C3.9,103 -3.4,104 -3.4,112.3" fill="none" stroke="#a2d7f0" stroke-width="4.0" stroke-linecap="round"/><ellipse cx="0" cy="80.3" rx="8.9" ry="7.7" fill="#a9dbf0" stroke="#5ea8c4" stroke-width="1.3"/></g><g transform="translate(1396.40,233.2) scale(-1,-1)"><path d="M-3.9,88 L-3.9,99 C-3.9,104 3.4,106 3.4,112.3" fill="none" stroke="#5ea8c4" stroke-width="6.2" stroke-linecap="round"/><path d="M-3.9,88 L-3.9,99 C-3.9,104 3.4,106 3.4,112.3" fill="none" stroke="#a2d7f0" stroke-width="4.0" stroke-linecap="round"/><path d="M3.9,88 L3.9,95 C3.9,103 -3.4,104 -3.4,112.3" fill="none" stroke="#5ea8c4" stroke-width="6.2" stroke-linecap="round"/><path d="M3.9,88 L3.9,95 C3.9,103 -3.4,104 -3.4,112.3" fill="none" stroke="#a2d7f0" stroke-width="4.0" stroke-linecap="round"/><ellipse cx="0" cy="80.3" rx="8.9" ry="7.7" fill="#a9dbf0" stroke="#5ea8c4" stroke-width="1.3"/></g><g transform="translate(1414.85,0)"><path d="M-3.9,88 L-3.9,99 C-3.9,104 3.4,106 3.4,112.3" fill="none" stroke="#5ea8c4" stroke-width="6.2" stroke-linecap="round"/><path d="M-3.9,88 L-3.9,99 C-3.9,104 3.4,106 3.4,112.3" fill="none" stroke="#a2d7f0" stroke-width="4.0" stroke-linecap="round"/><path d="M3.9,88 L3.9,95 C3.9,103 -3.4,104 -3.4,112.3" fill="none" stroke="#5ea8c4" stroke-width="6.2" stroke-linecap="round"/><path d="M3.9,88 L3.9,95 C3.9,103 -3.4,104 -3.4,112.3" fill="none" stroke="#a2d7f0" stroke-width="4.0" stroke-linecap="round"/><ellipse cx="0" cy="80.3" rx="8.9" ry="7.7" fill="#a9dbf0" stroke="#5ea8c4" stroke-width="1.3"/></g><g transform="translate(1414.85,233.2) scale(-1,-1)"><path d="M-3.9,88 L-3.9,99 C-3.9,104 3.4,106 3.4,112.3" fill="none" stroke="#5ea8c4" stroke-width="6.2" stroke-linecap="round"/><path d="M-3.9,88 L-3.9,99 C-3.9,104 3.4,106 3.4,112.3" fill="none" stroke="#a2d7f0" stroke-width="4.0" stroke-linecap="round"/><path d="M3.9,88 L3.9,95 C3.9,103 -3.4,104 -3.4,112.3" fill="none" stroke="#5ea8c4" stroke-width="6.2" stroke-linecap="round"/><path d="M3.9,88 L3.9,95 C3.9,103 -3.4,104 -3.4,112.3" fill="none" stroke="#a2d7f0" stroke-width="4.0" stroke-linecap="round"/><ellipse cx="0" cy="80.3" rx="8.9" ry="7.7" fill="#a9dbf0" stroke="#5ea8c4" stroke-width="1.3"/></g><g transform="translate(1433.30,0)"><path d="M-3.9,88 L-3.9,99 C-3.9,104 3.4,106 3.4,112.3" fill="none" stroke="#5ea8c4" stroke-width="6.2" stroke-linecap="round"/><path d="M-3.9,88 L-3.9,99 C-3.9,104 3.4,106 3.4,112.3" fill="none" stroke="#a2d7f0" stroke-width="4.0" stroke-linecap="round"/><path d="M3.9,88 L3.9,95 C3.9,103 -3.4,104 -3.4,112.3" fill="none" stroke="#5ea8c4" stroke-width="6.2" stroke-linecap="round"/><path d="M3.9,88 L3.9,95 C3.9,103 -3.4,104 -3.4,112.3" fill="none" stroke="#a2d7f0" stroke-width="4.0" stroke-linecap="round"/><ellipse cx="0" cy="80.3" rx="8.9" ry="7.7" fill="#a9dbf0" stroke="#5ea8c4" stroke-width="1.3"/></g><g transform="translate(1433.30,233.2) scale(-1,-1)"><path d="M-3.9,88 L-3.9,99 C-3.9,104 3.4,106 3.4,112.3" fill="none" stroke="#5ea8c4" stroke-width="6.2" stroke-linecap="round"/><path d="M-3.9,88 L-3.9,99 C-3.9,104 3.4,106 3.4,112.3" fill="none" stroke="#a2d7f0" stroke-width="4.0" stroke-linecap="round"/><path d="M3.9,88 L3.9,95 C3.9,103 -3.4,104 -3.4,112.3" fill="none" stroke="#5ea8c4" stroke-width="6.2" stroke-linecap="round"/><path d="M3.9,88 L3.9,95 C3.9,103 -3.4,104 -3.4,112.3" fill="none" stroke="#a2d7f0" stroke-width="4.0" stroke-linecap="round"/><ellipse cx="0" cy="80.3" rx="8.9" ry="7.7" fill="#a9dbf0" stroke="#5ea8c4" stroke-width="1.3"/></g><g transform="translate(1451.75,0)"><path d="M-3.9,88 L-3.9,99 C-3.9,104 3.4,106 3.4,112.3" fill="none" stroke="#5ea8c4" stroke-width="6.2" stroke-linecap="round"/><path d="M-3.9,88 L-3.9,99 C-3.9,104 3.4,106 3.4,112.3" fill="none" stroke="#a2d7f0" stroke-width="4.0" stroke-linecap="round"/><path d="M3.9,88 L3.9,95 C3.9,103 -3.4,104 -3.4,112.3" fill="none" stroke="#5ea8c4" stroke-width="6.2" stroke-linecap="round"/><path d="M3.9,88 L3.9,95 C3.9,103 -3.4,104 -3.4,112.3" fill="none" stroke="#a2d7f0" stroke-width="4.0" stroke-linecap="round"/><ellipse cx="0" cy="80.3" rx="8.9" ry="7.7" fill="#a9dbf0" stroke="#5ea8c4" stroke-width="1.3"/></g><g transform="translate(1451.75,233.2) scale(-1,-1)"><path d="M-3.9,88 L-3.9,99 C-3.9,104 3.4,106 3.4,112.3" fill="none" stroke="#5ea8c4" stroke-width="6.2" stroke-linecap="round"/><path d="M-3.9,88 L-3.9,99 C-3.9,104 3.4,106 3.4,112.3" fill="none" stroke="#a2d7f0" stroke-width="4.0" stroke-linecap="round"/><path d="M3.9,88 L3.9,95 C3.9,103 -3.4,104 -3.4,112.3" fill="none" stroke="#5ea8c4" stroke-width="6.2" stroke-linecap="round"/><path d="M3.9,88 L3.9,95 C3.9,103 -3.4,104 -3.4,112.3" fill="none" stroke="#a2d7f0" stroke-width="4.0" stroke-linecap="round"/><ellipse cx="0" cy="80.3" rx="8.9" ry="7.7" fill="#a9dbf0" stroke="#5ea8c4" stroke-width="1.3"/></g><g transform="translate(1470.20,0)"><path d="M-3.9,88 L-3.9,99 C-3.9,104 3.4,106 3.4,112.3" fill="none" stroke="#5ea8c4" stroke-width="6.2" stroke-linecap="round"/><path d="M-3.9,88 L-3.9,99 C-3.9,104 3.4,106 3.4,112.3" fill="none" stroke="#a2d7f0" stroke-width="4.0" stroke-linecap="round"/><path d="M3.9,88 L3.9,95 C3.9,103 -3.4,104 -3.4,112.3" fill="none" stroke="#5ea8c4" stroke-width="6.2" stroke-linecap="round"/><path d="M3.9,88 L3.9,95 C3.9,103 -3.4,104 -3.4,112.3" fill="none" stroke="#a2d7f0" stroke-width="4.0" stroke-linecap="round"/><ellipse cx="0" cy="80.3" rx="8.9" ry="7.7" fill="#a9dbf0" stroke="#5ea8c4" stroke-width="1.3"/></g><g transform="translate(1470.20,233.2) scale(-1,-1)"><path d="M-3.9,88 L-3.9,99 C-3.9,104 3.4,106 3.4,112.3" fill="none" stroke="#5ea8c4" stroke-width="6.2" stroke-linecap="round"/><path d="M-3.9,88 L-3.9,99 C-3.9,104 3.4,106 3.4,112.3" fill="none" stroke="#a2d7f0" stroke-width="4.0" stroke-linecap="round"/><path d="M3.9,88 L3.9,95 C3.9,103 -3.4,104 -3.4,112.3" fill="none" stroke="#5ea8c4" stroke-width="6.2" stroke-linecap="round"/><path d="M3.9,88 L3.9,95 C3.9,103 -3.4,104 -3.4,112.3" fill="none" stroke="#a2d7f0" stroke-width="4.0" stroke-linecap="round"/><ellipse cx="0" cy="80.3" rx="8.9" ry="7.7" fill="#a9dbf0" stroke="#5ea8c4" stroke-width="1.3"/></g><g transform="translate(1488.65,0)"><path d="M-3.9,88 L-3.9,99 C-3.9,104 3.4,106 3.4,112.3" fill="none" stroke="#5ea8c4" stroke-width="6.2" stroke-linecap="round"/><path d="M-3.9,88 L-3.9,99 C-3.9,104 3.4,106 3.4,112.3" fill="none" stroke="#a2d7f0" stroke-width="4.0" stroke-linecap="round"/><path d="M3.9,88 L3.9,95 C3.9,103 -3.4,104 -3.4,112.3" fill="none" stroke="#5ea8c4" stroke-width="6.2" stroke-linecap="round"/><path d="M3.9,88 L3.9,95 C3.9,103 -3.4,104 -3.4,112.3" fill="none" stroke="#a2d7f0" stroke-width="4.0" stroke-linecap="round"/><ellipse cx="0" cy="80.3" rx="8.9" ry="7.7" fill="#a9dbf0" stroke="#5ea8c4" stroke-width="1.3"/></g><g transform="translate(1488.65,233.2) scale(-1,-1)"><path d="M-3.9,88 L-3.9,99 C-3.9,104 3.4,106 3.4,112.3" fill="none" stroke="#5ea8c4" stroke-width="6.2" stroke-linecap="round"/><path d="M-3.9,88 L-3.9,99 C-3.9,104 3.4,106 3.4,112.3" fill="none" stroke="#a2d7f0" stroke-width="4.0" stroke-linecap="round"/><path d="M3.9,88 L3.9,95 C3.9,103 -3.4,104 -3.4,112.3" fill="none" stroke="#5ea8c4" stroke-width="6.2" stroke-linecap="round"/><path d="M3.9,88 L3.9,95 C3.9,103 -3.4,104 -3.4,112.3" fill="none" stroke="#a2d7f0" stroke-width="4.0" stroke-linecap="round"/><ellipse cx="0" cy="80.3" rx="8.9" ry="7.7" fill="#a9dbf0" stroke="#5ea8c4" stroke-width="1.3"/></g><g transform="translate(1507.10,0)"><path d="M-3.9,88 L-3.9,99 C-3.9,104 3.4,106 3.4,112.3" fill="none" stroke="#5ea8c4" stroke-width="6.2" stroke-linecap="round"/><path d="M-3.9,88 L-3.9,99 C-3.9,104 3.4,106 3.4,112.3" fill="none" stroke="#a2d7f0" stroke-width="4.0" stroke-linecap="round"/><path d="M3.9,88 L3.9,95 C3.9,103 -3.4,104 -3.4,112.3" fill="none" stroke="#5ea8c4" stroke-width="6.2" stroke-linecap="round"/><path d="M3.9,88 L3.9,95 C3.9,103 -3.4,104 -3.4,112.3" fill="none" stroke="#a2d7f0" stroke-width="4.0" stroke-linecap="round"/><ellipse cx="0" cy="80.3" rx="8.9" ry="7.7" fill="#a9dbf0" stroke="#5ea8c4" stroke-width="1.3"/></g><g transform="translate(1507.10,233.2) scale(-1,-1)"><path d="M-3.9,88 L-3.9,99 C-3.9,104 3.4,106 3.4,112.3" fill="none" stroke="#5ea8c4" stroke-width="6.2" stroke-linecap="round"/><path d="M-3.9,88 L-3.9,99 C-3.9,104 3.4,106 3.4,112.3" fill="none" stroke="#a2d7f0" stroke-width="4.0" stroke-linecap="round"/><path d="M3.9,88 L3.9,95 C3.9,103 -3.4,104 -3.4,112.3" fill="none" stroke="#5ea8c4" stroke-width="6.2" stroke-linecap="round"/><path d="M3.9,88 L3.9,95 C3.9,103 -3.4,104 -3.4,112.3" fill="none" stroke="#a2d7f0" stroke-width="4.0" stroke-linecap="round"/><ellipse cx="0" cy="80.3" rx="8.9" ry="7.7" fill="#a9dbf0" stroke="#5ea8c4" stroke-width="1.3"/></g></g><path d="M519.5,13 C500,18 481.5,45 481.5,80 L481.5,130 C481.5,162 496,186 519.5,197 Z" fill="#f07878" stroke="#7c2424" stroke-width="1.5" stroke-linejoin="round"/><path d="M549,13 C568.5,18 587.5,45 587.5,80 L587.5,130 C587.5,162 572.5,186 549,197 Z" fill="#f07878" stroke="#7c2424" stroke-width="1.5" stroke-linejoin="round"/><path d="M519.5,13 Q534.25,27 549,13 L549,197 Q534.25,177.6 519.5,197 Z" fill="#d35558" stroke="#7c2424" stroke-width="1.5" stroke-linejoin="round"/><g transform="translate(504.5,160) rotate(-90)"><text x="0" y="0" font-size="31" fill="#161616" textLength="106.2" lengthAdjust="spacingAndGlyphs" dominant-baseline="central">SL7A11</text></g><g transform="translate(565,158.8) rotate(-90)"><text x="0" y="0" font-size="31" fill="#161616" textLength="111.80000000000001" lengthAdjust="spacingAndGlyphs" dominant-baseline="central">SLC3A2</text></g><rect x="921" y="34" width="63.3" height="142.6" rx="31.6" ry="31.6" fill="#f0aa3c"/><g transform="translate(947.6,145.8) rotate(-90)"><text x="0" y="0" font-size="31" fill="#161616" textLength="71.80000000000001" lengthAdjust="spacingAndGlyphs" dominant-baseline="central">TFR1</text></g><ellipse cx="647.9" cy="14.3" rx="6.6" ry="5.1" fill="#d42c2c" stroke="#b82020" stroke-width="0.8"/><ellipse cx="679" cy="21.5" rx="6.6" ry="5.1" fill="#d42c2c" stroke="#b82020" stroke-width="0.8"/><ellipse cx="706.2" cy="39.7" rx="6.6" ry="5.1" fill="#d42c2c" stroke="#b82020" stroke-width="0.8"/><text x="332" y="25.9" font-size="31" fill="#1c1c1c" stroke="#ffffff" stroke-width="0.3" textLength="118" lengthAdjust="spacingAndGlyphs">SystemX</text><text x="450.5" y="29.9" font-size="17" fill="#1c1c1c" stroke="#ffffff" stroke-width="0.3" textLength="8.5" lengthAdjust="spacingAndGlyphs">c</text><text x="459" y="16" font-size="22" fill="#1c1c1c" stroke="#ffffff" stroke-width="0.3" textLength="7" lengthAdjust="spacingAndGlyphs">-</text><text x="629.5" y="52.6" font-size="31" fill="#1c1c1c" stroke="#ffffff" stroke-width="0.3" textLength="63" lengthAdjust="spacingAndGlyphs">SNG</text><path d="M364.50,244.00 A63.3,63.3 0 0 0 364.26,238.48" stroke="#bc3aa6" stroke-width="1.9" fill="none"/><path d="M364.26,238.48 A63.3,63.3 0 0 0 363.54,233.01" stroke="#bc3aa6" stroke-width="1.9" fill="none"/><path d="M363.54,233.01 A63.3,63.3 0 0 0 362.34,227.62" stroke="#bc3aa6" stroke-width="1.9" fill="none"/><path d="M362.34,227.62 A63.3,63.3 0 0 0 360.68,222.35" stroke="#bc3aa6" stroke-width="1.9" fill="none"/><path d="M360.68,222.35 A63.3,63.3 0 0 0 358.57,217.25" stroke="#bc3aa6" stroke-width="1.9" fill="none"/><path d="M358.57,217.25 A63.3,63.3 0 0 0 356.02,212.35" stroke="#bc3aa6" stroke-width="1.9" fill="none"/><path d="M356.02,212.35 A63.3,63.3 0 0 0 353.05,207.69" stroke="#bc3aa6" stroke-width="1.9" fill="none"/><path d="M353.05,207.69 A63.3,63.3 0 0 0 349.69,203.31" stroke="#8e55b7" stroke-width="1.9" fill="none"/><path d="M349.69,203.31 A63.3,63.3 0 0 0 345.96,199.24" stroke="#4c7bcf" stroke-width="1.9" fill="none"/><path d="M345.96,199.24 A63.3,63.3 0 0 0 341.89,195.51" stroke="#3886d6" stroke-width="1.9" fill="none"/><path d="M341.89,195.51 A63.3,63.3 0 0 0 337.51,192.15" stroke="#3886d6" stroke-width="1.9" fill="none"/><path d="M337.51,192.15 A63.3,63.3 0 0 0 332.85,189.18" stroke="#3886d6" stroke-width="1.9" fill="none"/><path d="M332.85,189.18 A63.3,63.3 0 0 0 327.95,186.63" stroke="#3886d6" stroke-width="1.9" fill="none"/><path d="M327.95,186.63 A63.3,63.3 0 0 0 322.85,184.52" stroke="#3886d6" stroke-width="1.9" fill="none"/><path d="M322.85,184.52 A63.3,63.3 0 0 0 317.58,182.86" stroke="#3886d6" stroke-width="1.9" fill="none"/><path d="M317.58,182.86 A63.3,63.3 0 0 0 312.19,181.66" stroke="#3886d6" stroke-width="1.9" fill="none"/><path d="M312.19,181.66 A63.3,63.3 0 0 0 306.72,180.94" stroke="#3886d6" stroke-width="1.9" fill="none"/><path d="M306.72,180.94 A63.3,63.3 0 0 0 301.20,180.70" stroke="#3886d6" stroke-width="1.9" fill="none"/><path d="M301.20,180.70 A63.3,63.3 0 0 0 295.68,180.94" stroke="#3886d6" stroke-width="1.9" fill="none"/><path d="M295.68,180.94 A63.3,63.3 0 0 0 290.21,181.66" stroke="#3886d6" stroke-width="1.9" fill="none"/><path d="M290.21,181.66 A63.3,63.3 0 0 0 284.82,182.86" stroke="#3886d6" stroke-width="1.9" fill="none"/><path d="M284.82,182.86 A63.3,63.3 0 0 0 279.55,184.52" stroke="#3886d6" stroke-width="1.9" fill="none"/><path d="M279.55,184.52 A63.3,63.3 0 0 0 274.45,186.63" stroke="#3886d6" stroke-width="1.9" fill="none"/><path d="M274.45,186.63 A63.3,63.3 0 0 0 269.55,189.18" stroke="#3886d6" stroke-width="1.9" fill="none"/><path d="M269.55,189.18 A63.3,63.3 0 0 0 264.89,192.15" stroke="#3886d6" stroke-width="1.9" fill="none"/><path d="M264.89,192.15 A63.3,63.3 0 0 0 260.51,195.51" stroke="#3886d6" stroke-width="1.9" fill="none"/><path d="M260.51,195.51 A63.3,63.3 0 0 0 256.44,199.24" stroke="#3886d6" stroke-width="1.9" fill="none"/><path d="M256.44,199.24 A63.3,63.3 0 0 0 252.71,203.31" stroke="#3886d6" stroke-width="1.9" fill="none"/><path d="M252.71,203.31 A63.3,63.3 0 0 0 249.35,207.69" stroke="#3886d6" stroke-width="1.9" fill="none"/><path d="M249.35,207.69 A63.3,63.3 0 0 0 246.38,212.35" stroke="#7d9396" stroke-width="1.9" fill="none"/><path d="M246.38,212.35 A63.3,63.3 0 0 0 243.83,217.25" stroke="#f1aa2c" stroke-width="1.9" fill="none"/><path d="M243.83,217.25 A63.3,63.3 0 0 0 241.72,222.35" stroke="#f1aa2c" stroke-width="1.9" fill="none"/><path d="M241.72,222.35 A63.3,63.3 0 0 0 240.06,227.62" stroke="#f1aa2c" stroke-width="1.9" fill="none"/><path d="M240.06,227.62 A63.3,63.3 0 0 0 238.86,233.01" stroke="#f1aa2c" stroke-width="1.9" fill="none"/><path d="M238.86,233.01 A63.3,63.3 0 0 0 238.14,238.48" stroke="#f1aa2c" stroke-width="1.9" fill="none"/><path d="M238.14,238.48 A63.3,63.3 0 0 0 237.90,244.00" stroke="#f1aa2c" stroke-width="1.9" fill="none"/><path d="M237.90,244.00 A63.3,63.3 0 0 0 238.14,249.52" stroke="#f1aa2c" stroke-width="1.9" fill="none"/><path d="M238.14,249.52 A63.3,63.3 0 0 0 238.86,254.99" stroke="#f1aa2c" stroke-width="1.9" fill="none"/><path d="M238.86,254.99 A63.3,63.3 0 0 0 240.06,260.38" stroke="#f1aa2c" stroke-width="1.9" fill="none"/><path d="M240.06,260.38 A63.3,63.3 0 0 0 241.72,265.65" stroke="#f1aa2c" stroke-width="1.9" fill="none"/><path d="M241.72,265.65 A63.3,63.3 0 0 0 243.83,270.75" stroke="#f1aa2c" stroke-width="1.9" fill="none"/><path d="M243.83,270.75 A63.3,63.3 0 0 0 246.38,275.65" stroke="#eda235" stroke-width="1.9" fill="none"/><path d="M246.38,275.65 A63.3,63.3 0 0 0 249.35,280.31" stroke="#e69246" stroke-width="1.9" fill="none"/><path d="M249.35,280.31 A63.3,63.3 0 0 0 252.71,284.69" stroke="#de8258" stroke-width="1.9" fill="none"/><path d="M252.71,284.69 A63.3,63.3 0 0 0 256.44,288.76" stroke="#d67269" stroke-width="1.9" fill="none"/><path d="M256.44,288.76 A63.3,63.3 0 0 0 260.51,292.49" stroke="#cf627a" stroke-width="1.9" fill="none"/><path d="M260.51,292.49 A63.3,63.3 0 0 0 264.89,295.85" stroke="#c7528c" stroke-width="1.9" fill="none"/><path d="M264.89,295.85 A63.3,63.3 0 0 0 269.55,298.82" stroke="#c0429d" stroke-width="1.9" fill="none"/><path d="M269.55,298.82 A63.3,63.3 0 0 0 274.45,301.37" stroke="#bc3aa6" stroke-width="1.9" fill="none"/><path d="M274.45,301.37 A63.3,63.3 0 0 0 279.55,303.48" stroke="#bc3aa6" stroke-width="1.9" fill="none"/><path d="M279.55,303.48 A63.3,63.3 0 0 0 284.82,305.14" stroke="#bc3aa6" stroke-width="1.9" fill="none"/><path d="M284.82,305.14 A63.3,63.3 0 0 0 290.21,306.34" stroke="#bc3aa6" stroke-width="1.9" fill="none"/><path d="M290.21,306.34 A63.3,63.3 0 0 0 295.68,307.06" stroke="#bc3aa6" stroke-width="1.9" fill="none"/><path d="M295.68,307.06 A63.3,63.3 0 0 0 301.20,307.30" stroke="#bc3aa6" stroke-width="1.9" fill="none"/><path d="M301.20,307.30 A63.3,63.3 0 0 0 306.72,307.06" stroke="#bc3aa6" stroke-width="1.9" fill="none"/><path d="M306.72,307.06 A63.3,63.3 0 0 0 312.19,306.34" stroke="#bc3aa6" stroke-width="1.9" fill="none"/><path d="M312.19,306.34 A63.3,63.3 0 0 0 317.58,305.14" stroke="#bc3aa6" stroke-width="1.9" fill="none"/><path d="M317.58,305.14 A63.3,63.3 0 0 0 322.85,303.48" stroke="#bc3aa6" stroke-width="1.9" fill="none"/><path d="M322.85,303.48 A63.3,63.3 0 0 0 327.95,301.37" stroke="#bc3aa6" stroke-width="1.9" fill="none"/><path d="M327.95,301.37 A63.3,63.3 0 0 0 332.85,298.82" stroke="#bc3aa6" stroke-width="1.9" fill="none"/><path d="M332.85,298.82 A63.3,63.3 0 0 0 337.51,295.85" stroke="#bc3aa6" stroke-width="1.9" fill="none"/><path d="M337.51,295.85 A63.3,63.3 0 0 0 341.89,292.49" stroke="#bc3aa6" stroke-width="1.9" fill="none"/><path d="M341.89,292.49 A63.3,63.3 0 0 0 345.96,288.76" stroke="#bc3aa6" stroke-width="1.9" fill="none"/><path d="M345.96,288.76 A63.3,63.3 0 0 0 349.69,284.69" stroke="#bc3aa6" stroke-width="1.9" fill="none"/><path d="M349.69,284.69 A63.3,63.3 0 0 0 353.05,280.31" stroke="#bc3aa6" stroke-width="1.9" fill="none"/><path d="M353.05,280.31 A63.3,63.3 0 0 0 356.02,275.65" stroke="#bc3aa6" stroke-width="1.9" fill="none"/><path d="M356.02,275.65 A63.3,63.3 0 0 0 358.57,270.75" stroke="#bc3aa6" stroke-width="1.9" fill="none"/><path d="M358.57,270.75 A63.3,63.3 0 0 0 360.68,265.65" stroke="#bc3aa6" stroke-width="1.9" fill="none"/><path d="M360.68,265.65 A63.3,63.3 0 0 0 362.34,260.38" stroke="#bc3aa6" stroke-width="1.9" fill="none"/><path d="M362.34,260.38 A63.3,63.3 0 0 0 363.54,254.99" stroke="#bc3aa6" stroke-width="1.9" fill="none"/><path d="M363.54,254.99 A63.3,63.3 0 0 0 364.26,249.52" stroke="#bc3aa6" stroke-width="1.9" fill="none"/><path d="M364.26,249.52 A63.3,63.3 0 0 0 364.50,244.00" stroke="#bc3aa6" stroke-width="1.9" fill="none"/><line x1="364.00" y1="244.00" x2="359.50" y2="244.00" stroke="#bc3aa6" stroke-width="1.2"/><line x1="363.93" y1="241.12" x2="359.44" y2="241.33" stroke="#bc3aa6" stroke-width="1.2"/><line x1="363.74" y1="238.25" x2="359.25" y2="238.66" stroke="#bc3aa6" stroke-width="1.2"/><line x1="363.41" y1="235.39" x2="358.95" y2="236.00" stroke="#bc3aa6" stroke-width="1.2"/><line x1="362.95" y1="232.54" x2="358.52" y2="233.36" stroke="#bc3aa6" stroke-width="1.2"/><line x1="362.36" y1="229.73" x2="357.97" y2="230.75" stroke="#bc3aa6" stroke-width="1.2"/><line x1="361.64" y1="226.94" x2="357.31" y2="228.16" stroke="#bc3aa6" stroke-width="1.2"/><line x1="360.79" y1="224.18" x2="356.52" y2="225.60" stroke="#bc3aa6" stroke-width="1.2"/><line x1="359.82" y1="221.47" x2="355.62" y2="223.09" stroke="#bc3aa6" stroke-width="1.2"/><line x1="358.73" y1="218.81" x2="354.60" y2="220.61" stroke="#bc3aa6" stroke-width="1.2"/><line x1="357.51" y1="216.20" x2="353.48" y2="218.19" stroke="#bc3aa6" stroke-width="1.2"/><line x1="356.18" y1="213.64" x2="352.24" y2="215.82" stroke="#bc3aa6" stroke-width="1.2"/><line x1="354.73" y1="211.16" x2="350.89" y2="213.51" stroke="#bc3aa6" stroke-width="1.2"/><line x1="353.16" y1="208.74" x2="349.44" y2="211.26" stroke="#ba3ba7" stroke-width="1.2"/><line x1="351.49" y1="206.39" x2="347.89" y2="209.09" stroke="#974fb3" stroke-width="1.2"/><line x1="349.72" y1="204.13" x2="346.24" y2="206.98" stroke="#7563c0" stroke-width="1.2"/><line x1="347.84" y1="201.94" x2="344.50" y2="204.96" stroke="#5277cd" stroke-width="1.2"/><line x1="345.86" y1="199.85" x2="342.66" y2="203.01" stroke="#3886d6" stroke-width="1.2"/><line x1="343.79" y1="197.85" x2="340.74" y2="201.15" stroke="#3886d6" stroke-width="1.2"/><line x1="341.63" y1="195.94" x2="338.73" y2="199.39" stroke="#3886d6" stroke-width="1.2"/><line x1="339.38" y1="194.14" x2="336.65" y2="197.71" stroke="#3886d6" stroke-width="1.2"/><line x1="337.06" y1="192.44" x2="334.49" y2="196.14" stroke="#3886d6" stroke-width="1.2"/><line x1="334.66" y1="190.85" x2="332.26" y2="194.66" stroke="#3886d6" stroke-width="1.2"/><line x1="332.18" y1="189.38" x2="329.96" y2="193.29" stroke="#3886d6" stroke-width="1.2"/><line x1="329.65" y1="188.01" x2="327.61" y2="192.02" stroke="#3886d6" stroke-width="1.2"/><line x1="327.05" y1="186.77" x2="325.20" y2="190.87" stroke="#3886d6" stroke-width="1.2"/><line x1="324.40" y1="185.64" x2="322.74" y2="189.82" stroke="#3886d6" stroke-width="1.2"/><line x1="321.70" y1="184.64" x2="320.23" y2="188.89" stroke="#3886d6" stroke-width="1.2"/><line x1="318.96" y1="183.76" x2="317.68" y2="188.08" stroke="#3886d6" stroke-width="1.2"/><line x1="316.18" y1="183.01" x2="315.10" y2="187.38" stroke="#3886d6" stroke-width="1.2"/><line x1="313.36" y1="182.39" x2="312.49" y2="186.80" stroke="#3886d6" stroke-width="1.2"/><line x1="310.53" y1="181.90" x2="309.86" y2="186.35" stroke="#3886d6" stroke-width="1.2"/><line x1="307.67" y1="181.53" x2="307.21" y2="186.01" stroke="#3886d6" stroke-width="1.2"/><line x1="304.80" y1="181.30" x2="304.54" y2="185.80" stroke="#3886d6" stroke-width="1.2"/><line x1="301.92" y1="181.20" x2="301.87" y2="185.70" stroke="#3886d6" stroke-width="1.2"/><line x1="299.04" y1="181.24" x2="299.20" y2="185.73" stroke="#3886d6" stroke-width="1.2"/><line x1="296.17" y1="181.40" x2="296.53" y2="185.89" stroke="#3886d6" stroke-width="1.2"/><line x1="293.30" y1="181.70" x2="293.87" y2="186.16" stroke="#3886d6" stroke-width="1.2"/><line x1="290.45" y1="182.13" x2="291.22" y2="186.56" stroke="#3886d6" stroke-width="1.2"/><line x1="287.63" y1="182.68" x2="288.60" y2="187.08" stroke="#3886d6" stroke-width="1.2"/><line x1="284.83" y1="183.37" x2="286.00" y2="187.72" stroke="#3886d6" stroke-width="1.2"/><line x1="282.07" y1="184.19" x2="283.44" y2="188.47" stroke="#3886d6" stroke-width="1.2"/><line x1="279.35" y1="185.13" x2="280.91" y2="189.34" stroke="#3886d6" stroke-width="1.2"/><line x1="276.67" y1="186.19" x2="278.43" y2="190.33" stroke="#3886d6" stroke-width="1.2"/><line x1="274.04" y1="187.37" x2="275.99" y2="191.43" stroke="#3886d6" stroke-width="1.2"/><line x1="271.48" y1="188.68" x2="273.61" y2="192.64" stroke="#3886d6" stroke-width="1.2"/><line x1="268.97" y1="190.10" x2="271.28" y2="193.96" stroke="#3886d6" stroke-width="1.2"/><line x1="266.54" y1="191.63" x2="269.02" y2="195.39" stroke="#3886d6" stroke-width="1.2"/><line x1="264.17" y1="193.28" x2="266.82" y2="196.91" stroke="#3886d6" stroke-width="1.2"/><line x1="261.88" y1="195.03" x2="264.70" y2="198.54" stroke="#3886d6" stroke-width="1.2"/><line x1="259.68" y1="196.88" x2="262.66" y2="200.26" stroke="#3886d6" stroke-width="1.2"/><line x1="257.56" y1="198.84" x2="260.69" y2="202.07" stroke="#3886d6" stroke-width="1.2"/><line x1="255.54" y1="200.88" x2="258.81" y2="203.97" stroke="#3886d6" stroke-width="1.2"/><line x1="253.61" y1="203.02" x2="257.02" y2="205.96" stroke="#3886d6" stroke-width="1.2"/><line x1="251.78" y1="205.25" x2="255.32" y2="208.03" stroke="#3886d6" stroke-width="1.2"/><line x1="250.06" y1="207.55" x2="253.72" y2="210.17" stroke="#3886d6" stroke-width="1.2"/><line x1="248.44" y1="209.94" x2="252.22" y2="212.38" stroke="#6d90a5" stroke-width="1.2"/><line x1="246.93" y1="212.39" x2="250.82" y2="214.66" stroke="#e7a835" stroke-width="1.2"/><line x1="245.54" y1="214.91" x2="249.53" y2="217.00" stroke="#f1aa2c" stroke-width="1.2"/><line x1="244.27" y1="217.50" x2="248.35" y2="219.40" stroke="#f1aa2c" stroke-width="1.2"/><line x1="243.11" y1="220.13" x2="247.27" y2="221.84" stroke="#f1aa2c" stroke-width="1.2"/><line x1="242.08" y1="222.82" x2="246.32" y2="224.34" stroke="#f1aa2c" stroke-width="1.2"/><line x1="241.17" y1="225.55" x2="245.47" y2="226.88" stroke="#f1aa2c" stroke-width="1.2"/><line x1="240.39" y1="228.33" x2="244.74" y2="229.45" stroke="#f1aa2c" stroke-width="1.2"/><line x1="239.73" y1="231.13" x2="244.14" y2="232.05" stroke="#f1aa2c" stroke-width="1.2"/><line x1="239.21" y1="233.96" x2="243.65" y2="234.68" stroke="#f1aa2c" stroke-width="1.2"/><line x1="238.81" y1="236.82" x2="243.28" y2="237.33" stroke="#f1aa2c" stroke-width="1.2"/><line x1="238.55" y1="239.68" x2="243.04" y2="239.99" stroke="#f1aa2c" stroke-width="1.2"/><line x1="238.42" y1="242.56" x2="242.92" y2="242.66" stroke="#f1aa2c" stroke-width="1.2"/><line x1="238.42" y1="245.44" x2="242.92" y2="245.34" stroke="#f1aa2c" stroke-width="1.2"/><line x1="238.55" y1="248.32" x2="243.04" y2="248.01" stroke="#f1aa2c" stroke-width="1.2"/><line x1="238.81" y1="251.18" x2="243.28" y2="250.67" stroke="#f1aa2c" stroke-width="1.2"/><line x1="239.21" y1="254.04" x2="243.65" y2="253.32" stroke="#f1aa2c" stroke-width="1.2"/><line x1="239.73" y1="256.87" x2="244.14" y2="255.95" stroke="#f1aa2c" stroke-width="1.2"/><line x1="240.39" y1="259.67" x2="244.74" y2="258.55" stroke="#f1aa2c" stroke-width="1.2"/><line x1="241.17" y1="262.45" x2="245.47" y2="261.12" stroke="#f1aa2c" stroke-width="1.2"/><line x1="242.08" y1="265.18" x2="246.32" y2="263.66" stroke="#f1aa2c" stroke-width="1.2"/><line x1="243.11" y1="267.87" x2="247.27" y2="266.16" stroke="#f1aa2c" stroke-width="1.2"/><line x1="244.27" y1="270.50" x2="248.35" y2="268.60" stroke="#f1aa2c" stroke-width="1.2"/><line x1="245.54" y1="273.09" x2="249.53" y2="271.00" stroke="#eda235" stroke-width="1.2"/><line x1="246.93" y1="275.61" x2="250.82" y2="273.34" stroke="#e9993e" stroke-width="1.2"/><line x1="248.44" y1="278.06" x2="252.22" y2="275.62" stroke="#e59147" stroke-width="1.2"/><line x1="250.06" y1="280.45" x2="253.72" y2="277.83" stroke="#e18851" stroke-width="1.2"/><line x1="251.78" y1="282.75" x2="255.32" y2="279.97" stroke="#dd805a" stroke-width="1.2"/><line x1="253.61" y1="284.98" x2="257.02" y2="282.04" stroke="#d97863" stroke-width="1.2"/><line x1="255.54" y1="287.12" x2="258.81" y2="284.03" stroke="#d56f6c" stroke-width="1.2"/><line x1="257.56" y1="289.16" x2="260.69" y2="285.93" stroke="#d16775" stroke-width="1.2"/><line x1="259.68" y1="291.12" x2="262.66" y2="287.74" stroke="#cd5e7e" stroke-width="1.2"/><line x1="261.88" y1="292.97" x2="264.70" y2="289.46" stroke="#c95687" stroke-width="1.2"/><line x1="264.17" y1="294.72" x2="266.82" y2="291.09" stroke="#c54e91" stroke-width="1.2"/><line x1="266.54" y1="296.37" x2="269.02" y2="292.61" stroke="#c1459a" stroke-width="1.2"/><line x1="268.97" y1="297.90" x2="271.28" y2="294.04" stroke="#bd3da3" stroke-width="1.2"/><line x1="271.48" y1="299.32" x2="273.61" y2="295.36" stroke="#bc3aa6" stroke-width="1.2"/><line x1="274.04" y1="300.63" x2="275.99" y2="296.57" stroke="#bc3aa6" stroke-width="1.2"/><line x1="276.67" y1="301.81" x2="278.43" y2="297.67" stroke="#bc3aa6" stroke-width="1.2"/><line x1="279.35" y1="302.87" x2="280.91" y2="298.66" stroke="#bc3aa6" stroke-width="1.2"/><line x1="282.07" y1="303.81" x2="283.44" y2="299.53" stroke="#bc3aa6" stroke-width="1.2"/><line x1="284.83" y1="304.63" x2="286.00" y2="300.28" stroke="#bc3aa6" stroke-width="1.2"/><line x1="287.63" y1="305.32" x2="288.60" y2="300.92" stroke="#bc3aa6" stroke-width="1.2"/><line x1="290.45" y1="305.87" x2="291.22" y2="301.44" stroke="#bc3aa6" stroke-width="1.2"/><line x1="293.30" y1="306.30" x2="293.87" y2="301.84" stroke="#bc3aa6" stroke-width="1.2"/><line x1="296.17" y1="306.60" x2="296.53" y2="302.11" stroke="#bc3aa6" stroke-width="1.2"/><line x1="299.04" y1="306.76" x2="299.20" y2="302.27" stroke="#bc3aa6" stroke-width="1.2"/><line x1="301.92" y1="306.80" x2="301.87" y2="302.30" stroke="#bc3aa6" stroke-width="1.2"/><line x1="304.80" y1="306.70" x2="304.54" y2="302.20" stroke="#bc3aa6" stroke-width="1.2"/><line x1="307.67" y1="306.47" x2="307.21" y2="301.99" stroke="#bc3aa6" stroke-width="1.2"/><line x1="310.53" y1="306.10" x2="309.86" y2="301.65" stroke="#bc3aa6" stroke-width="1.2"/><line x1="313.36" y1="305.61" x2="312.49" y2="301.20" stroke="#bc3aa6" stroke-width="1.2"/><line x1="316.18" y1="304.99" x2="315.10" y2="300.62" stroke="#bc3aa6" stroke-width="1.2"/><line x1="318.96" y1="304.24" x2="317.68" y2="299.92" stroke="#bc3aa6" stroke-width="1.2"/><line x1="321.70" y1="303.36" x2="320.23" y2="299.11" stroke="#bc3aa6" stroke-width="1.2"/><line x1="324.40" y1="302.36" x2="322.74" y2="298.18" stroke="#bc3aa6" stroke-width="1.2"/><line x1="327.05" y1="301.23" x2="325.20" y2="297.13" stroke="#bc3aa6" stroke-width="1.2"/><line x1="329.65" y1="299.99" x2="327.61" y2="295.98" stroke="#bc3aa6" stroke-width="1.2"/><line x1="332.18" y1="298.62" x2="329.96" y2="294.71" stroke="#bc3aa6" stroke-width="1.2"/><line x1="334.66" y1="297.15" x2="332.26" y2="293.34" stroke="#bc3aa6" stroke-width="1.2"/><line x1="337.06" y1="295.56" x2="334.49" y2="291.86" stroke="#bc3aa6" stroke-width="1.2"/><line x1="339.38" y1="293.86" x2="336.65" y2="290.29" stroke="#bc3aa6" stroke-width="1.2"/><line x1="341.63" y1="292.06" x2="338.73" y2="288.61" stroke="#bc3aa6" stroke-width="1.2"/><line x1="343.79" y1="290.15" x2="340.74" y2="286.85" stroke="#bc3aa6" stroke-width="1.2"/><line x1="345.86" y1="288.15" x2="342.66" y2="284.99" stroke="#bc3aa6" stroke-width="1.2"/><line x1="347.84" y1="286.06" x2="344.50" y2="283.04" stroke="#bc3aa6" stroke-width="1.2"/><line x1="349.72" y1="283.87" x2="346.24" y2="281.02" stroke="#bc3aa6" stroke-width="1.2"/><line x1="351.49" y1="281.61" x2="347.89" y2="278.91" stroke="#bc3aa6" stroke-width="1.2"/><line x1="353.16" y1="279.26" x2="349.44" y2="276.74" stroke="#bc3aa6" stroke-width="1.2"/><line x1="354.73" y1="276.84" x2="350.89" y2="274.49" stroke="#bc3aa6" stroke-width="1.2"/><line x1="356.18" y1="274.36" x2="352.24" y2="272.18" stroke="#bc3aa6" stroke-width="1.2"/><line x1="357.51" y1="271.80" x2="353.48" y2="269.81" stroke="#bc3aa6" stroke-width="1.2"/><line x1="358.73" y1="269.19" x2="354.60" y2="267.39" stroke="#bc3aa6" stroke-width="1.2"/><line x1="359.82" y1="266.53" x2="355.62" y2="264.91" stroke="#bc3aa6" stroke-width="1.2"/><line x1="360.79" y1="263.82" x2="356.52" y2="262.40" stroke="#bc3aa6" stroke-width="1.2"/><line x1="361.64" y1="261.06" x2="357.31" y2="259.84" stroke="#bc3aa6" stroke-width="1.2"/><line x1="362.36" y1="258.27" x2="357.97" y2="257.25" stroke="#bc3aa6" stroke-width="1.2"/><line x1="362.95" y1="255.46" x2="358.52" y2="254.64" stroke="#bc3aa6" stroke-width="1.2"/><line x1="363.41" y1="252.61" x2="358.95" y2="252.00" stroke="#bc3aa6" stroke-width="1.2"/><line x1="363.74" y1="249.75" x2="359.25" y2="249.34" stroke="#bc3aa6" stroke-width="1.2"/><line x1="363.93" y1="246.88" x2="359.44" y2="246.67" stroke="#bc3aa6" stroke-width="1.2"/><path d="M1360.00,242.50 A62.5,62.5 0 0 0 1359.76,237.05" stroke="#c9303f" stroke-width="1.9" fill="none"/><path d="M1359.76,237.05 A62.5,62.5 0 0 0 1359.05,231.65" stroke="#c9303f" stroke-width="1.9" fill="none"/><path d="M1359.05,231.65 A62.5,62.5 0 0 0 1357.87,226.32" stroke="#c9303f" stroke-width="1.9" fill="none"/><path d="M1357.87,226.32 A62.5,62.5 0 0 0 1356.23,221.12" stroke="#c9303f" stroke-width="1.9" fill="none"/><path d="M1356.23,221.12 A62.5,62.5 0 0 0 1354.14,216.09" stroke="#c9303f" stroke-width="1.9" fill="none"/><path d="M1354.14,216.09 A62.5,62.5 0 0 0 1351.63,211.25" stroke="#c9303f" stroke-width="1.9" fill="none"/><path d="M1351.63,211.25 A62.5,62.5 0 0 0 1348.70,206.65" stroke="#c9303f" stroke-width="1.9" fill="none"/><path d="M1348.70,206.65 A62.5,62.5 0 0 0 1345.38,202.33" stroke="#c9303f" stroke-width="1.9" fill="none"/><path d="M1345.38,202.33 A62.5,62.5 0 0 0 1341.69,198.31" stroke="#c9303f" stroke-width="1.9" fill="none"/><path d="M1341.69,198.31 A62.5,62.5 0 0 0 1337.67,194.62" stroke="#c9303f" stroke-width="1.9" fill="none"/><path d="M1337.67,194.62 A62.5,62.5 0 0 0 1333.35,191.30" stroke="#c9303f" stroke-width="1.9" fill="none"/><path d="M1333.35,191.30 A62.5,62.5 0 0 0 1328.75,188.37" stroke="#c9303f" stroke-width="1.9" fill="none"/><path d="M1328.75,188.37 A62.5,62.5 0 0 0 1323.91,185.86" stroke="#c9303f" stroke-width="1.9" fill="none"/><path d="M1323.91,185.86 A62.5,62.5 0 0 0 1318.88,183.77" stroke="#c9303f" stroke-width="1.9" fill="none"/><path d="M1318.88,183.77 A62.5,62.5 0 0 0 1313.68,182.13" stroke="#c9303f" stroke-width="1.9" fill="none"/><path d="M1313.68,182.13 A62.5,62.5 0 0 0 1308.35,180.95" stroke="#c9303f" stroke-width="1.9" fill="none"/><path d="M1308.35,180.95 A62.5,62.5 0 0 0 1302.95,180.24" stroke="#c9303f" stroke-width="1.9" fill="none"/><path d="M1302.95,180.24 A62.5,62.5 0 0 0 1297.50,180.00" stroke="#c9303f" stroke-width="1.9" fill="none"/><path d="M1297.50,180.00 A62.5,62.5 0 0 0 1292.05,180.24" stroke="#c9303f" stroke-width="1.9" fill="none"/><path d="M1292.05,180.24 A62.5,62.5 0 0 0 1286.65,180.95" stroke="#c9303f" stroke-width="1.9" fill="none"/><path d="M1286.65,180.95 A62.5,62.5 0 0 0 1281.32,182.13" stroke="#c9303f" stroke-width="1.9" fill="none"/><path d="M1281.32,182.13 A62.5,62.5 0 0 0 1276.12,183.77" stroke="#c9303f" stroke-width="1.9" fill="none"/><path d="M1276.12,183.77 A62.5,62.5 0 0 0 1271.09,185.86" stroke="#c9303f" stroke-width="1.9" fill="none"/><path d="M1271.09,185.86 A62.5,62.5 0 0 0 1266.25,188.37" stroke="#c9303f" stroke-width="1.9" fill="none"/><path d="M1266.25,188.37 A62.5,62.5 0 0 0 1261.65,191.30" stroke="#c9303f" stroke-width="1.9" fill="none"/><path d="M1261.65,191.30 A62.5,62.5 0 0 0 1257.33,194.62" stroke="#c9303f" stroke-width="1.9" fill="none"/><path d="M1257.33,194.62 A62.5,62.5 0 0 0 1253.31,198.31" stroke="#c9303f" stroke-width="1.9" fill="none"/><path d="M1253.31,198.31 A62.5,62.5 0 0 0 1249.62,202.33" stroke="#c9303f" stroke-width="1.9" fill="none"/><path d="M1249.62,202.33 A62.5,62.5 0 0 0 1246.30,206.65" stroke="#c9303f" stroke-width="1.9" fill="none"/><path d="M1246.30,206.65 A62.5,62.5 0 0 0 1243.37,211.25" stroke="#c9303f" stroke-width="1.9" fill="none"/><path d="M1243.37,211.25 A62.5,62.5 0 0 0 1240.86,216.09" stroke="#c9303f" stroke-width="1.9" fill="none"/><path d="M1240.86,216.09 A62.5,62.5 0 0 0 1238.77,221.12" stroke="#c9303f" stroke-width="1.9" fill="none"/><path d="M1238.77,221.12 A62.5,62.5 0 0 0 1237.13,226.32" stroke="#c9303f" stroke-width="1.9" fill="none"/><path d="M1237.13,226.32 A62.5,62.5 0 0 0 1235.95,231.65" stroke="#c9303f" stroke-width="1.9" fill="none"/><path d="M1235.95,231.65 A62.5,62.5 0 0 0 1235.24,237.05" stroke="#c9303f" stroke-width="1.9" fill="none"/><path d="M1235.24,237.05 A62.5,62.5 0 0 0 1235.00,242.50" stroke="#c9303f" stroke-width="1.9" fill="none"/><path d="M1235.00,242.50 A62.5,62.5 0 0 0 1235.24,247.95" stroke="#c9303f" stroke-width="1.9" fill="none"/><path d="M1235.24,247.95 A62.5,62.5 0 0 0 1235.95,253.35" stroke="#c9303f" stroke-width="1.9" fill="none"/><path d="M1235.95,253.35 A62.5,62.5 0 0 0 1237.13,258.68" stroke="#c9303f" stroke-width="1.9" fill="none"/><path d="M1237.13,258.68 A62.5,62.5 0 0 0 1238.77,263.88" stroke="#c9303f" stroke-width="1.9" fill="none"/><path d="M1238.77,263.88 A62.5,62.5 0 0 0 1240.86,268.91" stroke="#c9303f" stroke-width="1.9" fill="none"/><path d="M1240.86,268.91 A62.5,62.5 0 0 0 1243.37,273.75" stroke="#c9303f" stroke-width="1.9" fill="none"/><path d="M1243.37,273.75 A62.5,62.5 0 0 0 1246.30,278.35" stroke="#c9303f" stroke-width="1.9" fill="none"/><path d="M1246.30,278.35 A62.5,62.5 0 0 0 1249.62,282.67" stroke="#c9303f" stroke-width="1.9" fill="none"/><path d="M1249.62,282.67 A62.5,62.5 0 0 0 1253.31,286.69" stroke="#c9303f" stroke-width="1.9" fill="none"/><path d="M1253.31,286.69 A62.5,62.5 0 0 0 1257.33,290.38" stroke="#c9303f" stroke-width="1.9" fill="none"/><path d="M1257.33,290.38 A62.5,62.5 0 0 0 1261.65,293.70" stroke="#c9303f" stroke-width="1.9" fill="none"/><path d="M1261.65,293.70 A62.5,62.5 0 0 0 1266.25,296.63" stroke="#c9303f" stroke-width="1.9" fill="none"/><path d="M1266.25,296.63 A62.5,62.5 0 0 0 1271.09,299.14" stroke="#c9303f" stroke-width="1.9" fill="none"/><path d="M1271.09,299.14 A62.5,62.5 0 0 0 1276.12,301.23" stroke="#c9303f" stroke-width="1.9" fill="none"/><path d="M1276.12,301.23 A62.5,62.5 0 0 0 1281.32,302.87" stroke="#c9303f" stroke-width="1.9" fill="none"/><path d="M1281.32,302.87 A62.5,62.5 0 0 0 1286.65,304.05" stroke="#c9303f" stroke-width="1.9" fill="none"/><path d="M1286.65,304.05 A62.5,62.5 0 0 0 1292.05,304.76" stroke="#c9303f" stroke-width="1.9" fill="none"/><path d="M1292.05,304.76 A62.5,62.5 0 0 0 1297.50,305.00" stroke="#c9303f" stroke-width="1.9" fill="none"/><path d="M1297.50,305.00 A62.5,62.5 0 0 0 1302.95,304.76" stroke="#c9303f" stroke-width="1.9" fill="none"/><path d="M1302.95,304.76 A62.5,62.5 0 0 0 1308.35,304.05" stroke="#c9303f" stroke-width="1.9" fill="none"/><path d="M1308.35,304.05 A62.5,62.5 0 0 0 1313.68,302.87" stroke="#c9303f" stroke-width="1.9" fill="none"/><path d="M1313.68,302.87 A62.5,62.5 0 0 0 1318.88,301.23" stroke="#c9303f" stroke-width="1.9" fill="none"/><path d="M1318.88,301.23 A62.5,62.5 0 0 0 1323.91,299.14" stroke="#c9303f" stroke-width="1.9" fill="none"/><path d="M1323.91,299.14 A62.5,62.5 0 0 0 1328.75,296.63" stroke="#c9303f" stroke-width="1.9" fill="none"/><path d="M1328.75,296.63 A62.5,62.5 0 0 0 1333.35,293.70" stroke="#c9303f" stroke-width="1.9" fill="none"/><path d="M1333.35,293.70 A62.5,62.5 0 0 0 1337.67,290.38" stroke="#c9303f" stroke-width="1.9" fill="none"/><path d="M1337.67,290.38 A62.5,62.5 0 0 0 1341.69,286.69" stroke="#c9303f" stroke-width="1.9" fill="none"/><path d="M1341.69,286.69 A62.5,62.5 0 0 0 1345.38,282.67" stroke="#c9303f" stroke-width="1.9" fill="none"/><path d="M1345.38,282.67 A62.5,62.5 0 0 0 1348.70,278.35" stroke="#c9303f" stroke-width="1.9" fill="none"/><path d="M1348.70,278.35 A62.5,62.5 0 0 0 1351.63,273.75" stroke="#c9303f" stroke-width="1.9" fill="none"/><path d="M1351.63,273.75 A62.5,62.5 0 0 0 1354.14,268.91" stroke="#c9303f" stroke-width="1.9" fill="none"/><path d="M1354.14,268.91 A62.5,62.5 0 0 0 1356.23,263.88" stroke="#c9303f" stroke-width="1.9" fill="none"/><path d="M1356.23,263.88 A62.5,62.5 0 0 0 1357.87,258.68" stroke="#c9303f" stroke-width="1.9" fill="none"/><path d="M1357.87,258.68 A62.5,62.5 0 0 0 1359.05,253.35" stroke="#c9303f" stroke-width="1.9" fill="none"/><path d="M1359.05,253.35 A62.5,62.5 0 0 0 1359.76,247.95" stroke="#c9303f" stroke-width="1.9" fill="none"/><path d="M1359.76,247.95 A62.5,62.5 0 0 0 1360.00,242.50" stroke="#c9303f" stroke-width="1.9" fill="none"/><line x1="1359.50" y1="242.50" x2="1355.00" y2="242.50" stroke="#c9303f" stroke-width="1.2"/><line x1="1359.43" y1="239.66" x2="1354.94" y2="239.86" stroke="#c9303f" stroke-width="1.2"/><line x1="1359.24" y1="236.82" x2="1354.76" y2="237.23" stroke="#c9303f" stroke-width="1.2"/><line x1="1358.91" y1="234.00" x2="1354.46" y2="234.61" stroke="#c9303f" stroke-width="1.2"/><line x1="1358.46" y1="231.19" x2="1354.04" y2="232.01" stroke="#c9303f" stroke-width="1.2"/><line x1="1357.88" y1="228.41" x2="1353.49" y2="229.43" stroke="#c9303f" stroke-width="1.2"/><line x1="1357.17" y1="225.65" x2="1352.84" y2="226.88" stroke="#c9303f" stroke-width="1.2"/><line x1="1356.33" y1="222.94" x2="1352.06" y2="224.36" stroke="#c9303f" stroke-width="1.2"/><line x1="1355.37" y1="220.26" x2="1351.17" y2="221.87" stroke="#c9303f" stroke-width="1.2"/><line x1="1354.29" y1="217.63" x2="1350.17" y2="219.43" stroke="#c9303f" stroke-width="1.2"/><line x1="1353.09" y1="215.05" x2="1349.06" y2="217.04" stroke="#c9303f" stroke-width="1.2"/><line x1="1351.78" y1="212.53" x2="1347.84" y2="214.71" stroke="#c9303f" stroke-width="1.2"/><line x1="1350.35" y1="210.07" x2="1346.51" y2="212.43" stroke="#c9303f" stroke-width="1.2"/><line x1="1348.80" y1="207.69" x2="1345.08" y2="210.21" stroke="#c9303f" stroke-width="1.2"/><line x1="1347.15" y1="205.37" x2="1343.55" y2="208.07" stroke="#c9303f" stroke-width="1.2"/><line x1="1345.40" y1="203.13" x2="1341.92" y2="205.99" stroke="#c9303f" stroke-width="1.2"/><line x1="1343.54" y1="200.98" x2="1340.20" y2="203.99" stroke="#c9303f" stroke-width="1.2"/><line x1="1341.59" y1="198.91" x2="1338.39" y2="202.08" stroke="#c9303f" stroke-width="1.2"/><line x1="1339.55" y1="196.94" x2="1336.49" y2="200.24" stroke="#c9303f" stroke-width="1.2"/><line x1="1337.41" y1="195.06" x2="1334.52" y2="198.50" stroke="#c9303f" stroke-width="1.2"/><line x1="1335.20" y1="193.28" x2="1332.46" y2="196.85" stroke="#c9303f" stroke-width="1.2"/><line x1="1332.90" y1="191.60" x2="1330.33" y2="195.29" stroke="#c9303f" stroke-width="1.2"/><line x1="1330.53" y1="190.03" x2="1328.13" y2="193.84" stroke="#c9303f" stroke-width="1.2"/><line x1="1328.09" y1="188.57" x2="1325.87" y2="192.49" stroke="#c9303f" stroke-width="1.2"/><line x1="1325.58" y1="187.23" x2="1323.55" y2="191.24" stroke="#c9303f" stroke-width="1.2"/><line x1="1323.02" y1="186.00" x2="1321.17" y2="190.10" stroke="#c9303f" stroke-width="1.2"/><line x1="1320.40" y1="184.89" x2="1318.74" y2="189.07" stroke="#c9303f" stroke-width="1.2"/><line x1="1317.74" y1="183.90" x2="1316.27" y2="188.15" stroke="#c9303f" stroke-width="1.2"/><line x1="1315.03" y1="183.03" x2="1313.76" y2="187.35" stroke="#c9303f" stroke-width="1.2"/><line x1="1312.28" y1="182.29" x2="1311.21" y2="186.66" stroke="#c9303f" stroke-width="1.2"/><line x1="1309.51" y1="181.67" x2="1308.64" y2="186.09" stroke="#c9303f" stroke-width="1.2"/><line x1="1306.71" y1="181.19" x2="1306.04" y2="185.64" stroke="#c9303f" stroke-width="1.2"/><line x1="1303.89" y1="180.83" x2="1303.42" y2="185.31" stroke="#c9303f" stroke-width="1.2"/><line x1="1301.05" y1="180.60" x2="1300.79" y2="185.09" stroke="#c9303f" stroke-width="1.2"/><line x1="1298.21" y1="180.50" x2="1298.16" y2="185.00" stroke="#c9303f" stroke-width="1.2"/><line x1="1295.37" y1="180.54" x2="1295.52" y2="185.03" stroke="#c9303f" stroke-width="1.2"/><line x1="1292.53" y1="180.70" x2="1292.89" y2="185.19" stroke="#c9303f" stroke-width="1.2"/><line x1="1289.70" y1="180.99" x2="1290.27" y2="185.46" stroke="#c9303f" stroke-width="1.2"/><line x1="1286.89" y1="181.41" x2="1287.66" y2="185.85" stroke="#c9303f" stroke-width="1.2"/><line x1="1284.10" y1="181.97" x2="1285.07" y2="186.36" stroke="#c9303f" stroke-width="1.2"/><line x1="1281.34" y1="182.64" x2="1282.51" y2="186.99" stroke="#c9303f" stroke-width="1.2"/><line x1="1278.61" y1="183.45" x2="1279.98" y2="187.73" stroke="#c9303f" stroke-width="1.2"/><line x1="1275.92" y1="184.38" x2="1277.49" y2="188.59" stroke="#c9303f" stroke-width="1.2"/><line x1="1273.28" y1="185.43" x2="1275.04" y2="189.57" stroke="#c9303f" stroke-width="1.2"/><line x1="1270.69" y1="186.60" x2="1272.64" y2="190.65" stroke="#c9303f" stroke-width="1.2"/><line x1="1268.16" y1="187.88" x2="1270.29" y2="191.85" stroke="#c9303f" stroke-width="1.2"/><line x1="1265.68" y1="189.29" x2="1267.99" y2="193.15" stroke="#c9303f" stroke-width="1.2"/><line x1="1263.28" y1="190.80" x2="1265.76" y2="194.55" stroke="#c9303f" stroke-width="1.2"/><line x1="1260.94" y1="192.42" x2="1263.60" y2="196.06" stroke="#c9303f" stroke-width="1.2"/><line x1="1258.69" y1="194.15" x2="1261.50" y2="197.66" stroke="#c9303f" stroke-width="1.2"/><line x1="1256.51" y1="195.98" x2="1259.48" y2="199.36" stroke="#c9303f" stroke-width="1.2"/><line x1="1254.42" y1="197.91" x2="1257.55" y2="201.15" stroke="#c9303f" stroke-width="1.2"/><line x1="1252.42" y1="199.93" x2="1255.69" y2="203.02" stroke="#c9303f" stroke-width="1.2"/><line x1="1250.52" y1="202.05" x2="1253.93" y2="204.98" stroke="#c9303f" stroke-width="1.2"/><line x1="1248.71" y1="204.24" x2="1252.25" y2="207.02" stroke="#c9303f" stroke-width="1.2"/><line x1="1247.01" y1="206.52" x2="1250.67" y2="209.13" stroke="#c9303f" stroke-width="1.2"/><line x1="1245.41" y1="208.87" x2="1249.19" y2="211.31" stroke="#c9303f" stroke-width="1.2"/><line x1="1243.93" y1="211.30" x2="1247.81" y2="213.56" stroke="#c9303f" stroke-width="1.2"/><line x1="1242.55" y1="213.78" x2="1246.54" y2="215.87" stroke="#c9303f" stroke-width="1.2"/><line x1="1241.29" y1="216.33" x2="1245.37" y2="218.23" stroke="#c9303f" stroke-width="1.2"/><line x1="1240.15" y1="218.94" x2="1244.31" y2="220.65" stroke="#c9303f" stroke-width="1.2"/><line x1="1239.13" y1="221.59" x2="1243.37" y2="223.11" stroke="#c9303f" stroke-width="1.2"/><line x1="1238.23" y1="224.29" x2="1242.54" y2="225.61" stroke="#c9303f" stroke-width="1.2"/><line x1="1237.46" y1="227.03" x2="1241.82" y2="228.15" stroke="#c9303f" stroke-width="1.2"/><line x1="1236.82" y1="229.79" x2="1241.22" y2="230.72" stroke="#c9303f" stroke-width="1.2"/><line x1="1236.30" y1="232.59" x2="1240.74" y2="233.31" stroke="#c9303f" stroke-width="1.2"/><line x1="1235.91" y1="235.41" x2="1240.38" y2="235.92" stroke="#c9303f" stroke-width="1.2"/><line x1="1235.65" y1="238.24" x2="1240.14" y2="238.55" stroke="#c9303f" stroke-width="1.2"/><line x1="1235.52" y1="241.08" x2="1240.02" y2="241.18" stroke="#c9303f" stroke-width="1.2"/><line x1="1235.52" y1="243.92" x2="1240.02" y2="243.82" stroke="#c9303f" stroke-width="1.2"/><line x1="1235.65" y1="246.76" x2="1240.14" y2="246.45" stroke="#c9303f" stroke-width="1.2"/><line x1="1235.91" y1="249.59" x2="1240.38" y2="249.08" stroke="#c9303f" stroke-width="1.2"/><line x1="1236.30" y1="252.41" x2="1240.74" y2="251.69" stroke="#c9303f" stroke-width="1.2"/><line x1="1236.82" y1="255.21" x2="1241.22" y2="254.28" stroke="#c9303f" stroke-width="1.2"/><line x1="1237.46" y1="257.97" x2="1241.82" y2="256.85" stroke="#c9303f" stroke-width="1.2"/><line x1="1238.23" y1="260.71" x2="1242.54" y2="259.39" stroke="#c9303f" stroke-width="1.2"/><line x1="1239.13" y1="263.41" x2="1243.37" y2="261.89" stroke="#c9303f" stroke-width="1.2"/><line x1="1240.15" y1="266.06" x2="1244.31" y2="264.35" stroke="#c9303f" stroke-width="1.2"/><line x1="1241.29" y1="268.67" x2="1245.37" y2="266.77" stroke="#c9303f" stroke-width="1.2"/><line x1="1242.55" y1="271.22" x2="1246.54" y2="269.13" stroke="#c9303f" stroke-width="1.2"/><line x1="1243.93" y1="273.70" x2="1247.81" y2="271.44" stroke="#c9303f" stroke-width="1.2"/><line x1="1245.41" y1="276.13" x2="1249.19" y2="273.69" stroke="#c9303f" stroke-width="1.2"/><line x1="1247.01" y1="278.48" x2="1250.67" y2="275.87" stroke="#c9303f" stroke-width="1.2"/><line x1="1248.71" y1="280.76" x2="1252.25" y2="277.98" stroke="#c9303f" stroke-width="1.2"/><line x1="1250.52" y1="282.95" x2="1253.93" y2="280.02" stroke="#c9303f" stroke-width="1.2"/><line x1="1252.42" y1="285.07" x2="1255.69" y2="281.98" stroke="#c9303f" stroke-width="1.2"/><line x1="1254.42" y1="287.09" x2="1257.55" y2="283.85" stroke="#c9303f" stroke-width="1.2"/><line x1="1256.51" y1="289.02" x2="1259.48" y2="285.64" stroke="#c9303f" stroke-width="1.2"/><line x1="1258.69" y1="290.85" x2="1261.50" y2="287.34" stroke="#c9303f" stroke-width="1.2"/><line x1="1260.94" y1="292.58" x2="1263.60" y2="288.94" stroke="#c9303f" stroke-width="1.2"/><line x1="1263.28" y1="294.20" x2="1265.76" y2="290.45" stroke="#c9303f" stroke-width="1.2"/><line x1="1265.68" y1="295.71" x2="1267.99" y2="291.85" stroke="#c9303f" stroke-width="1.2"/><line x1="1268.16" y1="297.12" x2="1270.29" y2="293.15" stroke="#c9303f" stroke-width="1.2"/><line x1="1270.69" y1="298.40" x2="1272.64" y2="294.35" stroke="#c9303f" stroke-width="1.2"/><line x1="1273.28" y1="299.57" x2="1275.04" y2="295.43" stroke="#c9303f" stroke-width="1.2"/><line x1="1275.92" y1="300.62" x2="1277.49" y2="296.41" stroke="#c9303f" stroke-width="1.2"/><line x1="1278.61" y1="301.55" x2="1279.98" y2="297.27" stroke="#c9303f" stroke-width="1.2"/><line x1="1281.34" y1="302.36" x2="1282.51" y2="298.01" stroke="#c9303f" stroke-width="1.2"/><line x1="1284.10" y1="303.03" x2="1285.07" y2="298.64" stroke="#c9303f" stroke-width="1.2"/><line x1="1286.89" y1="303.59" x2="1287.66" y2="299.15" stroke="#c9303f" stroke-width="1.2"/><line x1="1289.70" y1="304.01" x2="1290.27" y2="299.54" stroke="#c9303f" stroke-width="1.2"/><line x1="1292.53" y1="304.30" x2="1292.89" y2="299.81" stroke="#c9303f" stroke-width="1.2"/><line x1="1295.37" y1="304.46" x2="1295.52" y2="299.97" stroke="#c9303f" stroke-width="1.2"/><line x1="1298.21" y1="304.50" x2="1298.16" y2="300.00" stroke="#c9303f" stroke-width="1.2"/><line x1="1301.05" y1="304.40" x2="1300.79" y2="299.91" stroke="#c9303f" stroke-width="1.2"/><line x1="1303.89" y1="304.17" x2="1303.42" y2="299.69" stroke="#c9303f" stroke-width="1.2"/><line x1="1306.71" y1="303.81" x2="1306.04" y2="299.36" stroke="#c9303f" stroke-width="1.2"/><line x1="1309.51" y1="303.33" x2="1308.64" y2="298.91" stroke="#c9303f" stroke-width="1.2"/><line x1="1312.28" y1="302.71" x2="1311.21" y2="298.34" stroke="#c9303f" stroke-width="1.2"/><line x1="1315.03" y1="301.97" x2="1313.76" y2="297.65" stroke="#c9303f" stroke-width="1.2"/><line x1="1317.74" y1="301.10" x2="1316.27" y2="296.85" stroke="#c9303f" stroke-width="1.2"/><line x1="1320.40" y1="300.11" x2="1318.74" y2="295.93" stroke="#c9303f" stroke-width="1.2"/><line x1="1323.02" y1="299.00" x2="1321.17" y2="294.90" stroke="#c9303f" stroke-width="1.2"/><line x1="1325.58" y1="297.77" x2="1323.55" y2="293.76" stroke="#c9303f" stroke-width="1.2"/><line x1="1328.09" y1="296.43" x2="1325.87" y2="292.51" stroke="#c9303f" stroke-width="1.2"/><line x1="1330.53" y1="294.97" x2="1328.13" y2="291.16" stroke="#c9303f" stroke-width="1.2"/><line x1="1332.90" y1="293.40" x2="1330.33" y2="289.71" stroke="#c9303f" stroke-width="1.2"/><line x1="1335.20" y1="291.72" x2="1332.46" y2="288.15" stroke="#c9303f" stroke-width="1.2"/><line x1="1337.41" y1="289.94" x2="1334.52" y2="286.50" stroke="#c9303f" stroke-width="1.2"/><line x1="1339.55" y1="288.06" x2="1336.49" y2="284.76" stroke="#c9303f" stroke-width="1.2"/><line x1="1341.59" y1="286.09" x2="1338.39" y2="282.92" stroke="#c9303f" stroke-width="1.2"/><line x1="1343.54" y1="284.02" x2="1340.20" y2="281.01" stroke="#c9303f" stroke-width="1.2"/><line x1="1345.40" y1="281.87" x2="1341.92" y2="279.01" stroke="#c9303f" stroke-width="1.2"/><line x1="1347.15" y1="279.63" x2="1343.55" y2="276.93" stroke="#c9303f" stroke-width="1.2"/><line x1="1348.80" y1="277.31" x2="1345.08" y2="274.79" stroke="#c9303f" stroke-width="1.2"/><line x1="1350.35" y1="274.93" x2="1346.51" y2="272.57" stroke="#c9303f" stroke-width="1.2"/><line x1="1351.78" y1="272.47" x2="1347.84" y2="270.29" stroke="#c9303f" stroke-width="1.2"/><line x1="1353.09" y1="269.95" x2="1349.06" y2="267.96" stroke="#c9303f" stroke-width="1.2"/><line x1="1354.29" y1="267.37" x2="1350.17" y2="265.57" stroke="#c9303f" stroke-width="1.2"/><line x1="1355.37" y1="264.74" x2="1351.17" y2="263.13" stroke="#c9303f" stroke-width="1.2"/><line x1="1356.33" y1="262.06" x2="1352.06" y2="260.64" stroke="#c9303f" stroke-width="1.2"/><line x1="1357.17" y1="259.35" x2="1352.84" y2="258.12" stroke="#c9303f" stroke-width="1.2"/><line x1="1357.88" y1="256.59" x2="1353.49" y2="255.57" stroke="#c9303f" stroke-width="1.2"/><line x1="1358.46" y1="253.81" x2="1354.04" y2="252.99" stroke="#c9303f" stroke-width="1.2"/><line x1="1358.91" y1="251.00" x2="1354.46" y2="250.39" stroke="#c9303f" stroke-width="1.2"/><line x1="1359.24" y1="248.18" x2="1354.76" y2="247.77" stroke="#c9303f" stroke-width="1.2"/><line x1="1359.43" y1="245.34" x2="1354.94" y2="245.14" stroke="#c9303f" stroke-width="1.2"/><text x="30" y="243" font-size="31" fill="#d0583e" stroke="#ffffff" stroke-width="0.3" textLength="89.5" lengthAdjust="spacingAndGlyphs">silence</text><text x="247" y="251.7" font-size="31" fill="#1c1c1c" stroke="#ffffff" stroke-width="0.3" textLength="101" lengthAdjust="spacingAndGlyphs">EPSTI1</text><text x="611.5" y="249" font-size="31" fill="#1c1c1c" stroke="#ffffff" stroke-width="0.3" textLength="23.5" lengthAdjust="spacingAndGlyphs">H</text><text x="635.5" y="252" font-size="18" fill="#1c1c1c" stroke="#ffffff" stroke-width="0.3" textLength="9" lengthAdjust="spacingAndGlyphs">2</text><text x="645" y="249" font-size="31" fill="#1c1c1c" stroke="#ffffff" stroke-width="0.3" textLength="22.5" lengthAdjust="spacingAndGlyphs">O</text><text x="668.5" y="252" font-size="18" fill="#1c1c1c" stroke="#ffffff" stroke-width="0.3" textLength="9" lengthAdjust="spacingAndGlyphs">2</text><text x="775.5" y="251" font-size="31" fill="#1c1c1c" stroke="#ffffff" stroke-width="0.3" textLength="133" lengthAdjust="spacingAndGlyphs">Caspase-3</text><text x="1039" y="249" font-size="31" fill="#1c1c1c" stroke="#ffffff" stroke-width="0.3" textLength="46" lengthAdjust="spacingAndGlyphs">OA</text><text x="1246" y="252.7" font-size="31" fill="#1c1c1c" stroke="#ffffff" stroke-width="0.3" textLength="103" lengthAdjust="spacingAndGlyphs">ACAP2</text><text x="315" y="337.5" font-size="31" fill="#1c1c1c" stroke="#ffffff" stroke-width="0.3" textLength="156" lengthAdjust="spacingAndGlyphs">GSH/GSSG</text><text x="550.5" y="338.5" font-size="31" fill="#1c1c1c" stroke="#ffffff" stroke-width="0.3" textLength="64" lengthAdjust="spacingAndGlyphs">GSH</text><text x="769" y="376.5" font-size="31" fill="#1c1c1c" stroke="#ffffff" stroke-width="0.3" textLength="131" lengthAdjust="spacingAndGlyphs">Apoptosis</text><text x="1016.5" y="376.7" font-size="31" fill="#1c1c1c" stroke="#ffffff" stroke-width="0.3" textLength="98" lengthAdjust="spacingAndGlyphs">ACSL4</text><text x="1154" y="421.7" font-size="31" fill="#1c1c1c" stroke="#ffffff" stroke-width="0.3" textLength="262" lengthAdjust="spacingAndGlyphs">miR-193a-5p/GPX4</text><text x="351.5" y="472.5" font-size="31" fill="#1c1c1c" stroke="#ffffff" stroke-width="0.3" textLength="81.5" lengthAdjust="spacingAndGlyphs">GPX4</text><text x="1261" y="608.5" font-size="31" fill="#1c1c1c" stroke="#ffffff" stroke-width="0.3" textLength="85" lengthAdjust="spacingAndGlyphs">KRAS</text><text x="1174" y="765.6" font-size="31" fill="#1c1c1c" stroke="#ffffff" stroke-width="0.3" textLength="271" lengthAdjust="spacingAndGlyphs">Persistent ferroptosis</text><polygon points="858.3,463.5 891.5,509.5 977.3,489.5 939,533.4 1024.8,549.3 939,564 977.3,608.5 891.5,590 858.3,634.6 824,590 738,608.5 776.5,564 690.6,549.3 776.5,533.4 738,489.5 824,509.5" fill="#925846"/><text x="785.5" y="551.8" font-size="31" fill="#2a1810" stroke="#925846" stroke-width="0.3" textLength="146" lengthAdjust="spacingAndGlyphs">Ferroptosis</text><line x1="148.8" y1="235.4" x2="193.8" y2="235.4" stroke="#161616" stroke-width="3.4"/><polygon points="209.3,235.4 192.8,243.9 192.8,226.9" fill="#161616"/><line x1="478.8" y1="208.2" x2="407.4" y2="295.2" stroke="#161616" stroke-width="3.4"/><polygon points="397.6,307.2 401.5,289.1 414.6,299.8" fill="#161616"/><line x1="523.4" y1="208.3" x2="586.4" y2="296.3" stroke="#161616" stroke-width="3.4"/><polygon points="595.4,308.9 578.9,300.4 592.7,290.5" fill="#161616"/><line x1="648.0" y1="61.5" x2="648.0" y2="188.8" stroke="#161616" stroke-width="3.4"/><polygon points="648.0,204.3 639.5,187.8 656.5,187.8" fill="#161616"/><line x1="698.0" y1="243.6" x2="750.2" y2="243.6" stroke="#161616" stroke-width="3.4"/><polygon points="765.7,243.6 749.2,252.1 749.2,235.1" fill="#161616"/><line x1="834.5" y1="267.0" x2="834.5" y2="332.5" stroke="#161616" stroke-width="3.4"/><polygon points="834.5,348.0 826.0,331.5 843.0,331.5" fill="#161616"/><line x1="1037.0" y1="220.5" x2="993.5" y2="188.2" stroke="#161616" stroke-width="3.4"/><polygon points="981.0,179.0 999.3,182.0 989.2,195.7" fill="#161616"/><line x1="1066.0" y1="262.4" x2="1066.0" y2="329.5" stroke="#161616" stroke-width="3.4"/><polygon points="1066.0,345.0 1057.5,328.5 1074.5,328.5" fill="#161616"/><line x1="1303.3" y1="325.0" x2="1303.3" y2="366.2" stroke="#161616" stroke-width="3.4"/><polygon points="1303.3,381.7 1294.8,365.2 1311.8,365.2" fill="#161616"/><line x1="397.3" y1="353.3" x2="397.3" y2="417.3" stroke="#161616" stroke-width="3.4"/><polygon points="397.3,432.8 388.8,416.3 405.8,416.3" fill="#161616"/><line x1="589.0" y1="349.4" x2="742.7" y2="466.6" stroke="#161616" stroke-width="3.4"/><polygon points="755.0,476.0 736.7,472.8 747.0,459.2" fill="#161616"/><line x1="1068.3" y1="394.0" x2="972.4" y2="455.0" stroke="#161616" stroke-width="3.4"/><polygon points="959.3,463.3 968.7,447.3 977.8,461.6" fill="#161616"/><line x1="400.8" y1="493.9" x2="631.5" y2="535.9" stroke="#161616" stroke-width="3.4"/><polygon points="646.7,538.7 628.9,544.1 632.0,527.4" fill="#161616"/><line x1="782.0" y1="629.4" x2="610.2" y2="724.5" stroke="#161616" stroke-width="3.4"/><polygon points="596.6,732.0 606.9,716.6 615.2,731.4" fill="#161616"/><line x1="1303.5" y1="719.0" x2="1303.5" y2="643.5" stroke="#161616" stroke-width="3.4"/><polygon points="1303.5,628.0 1312.0,644.5 1295.0,644.5" fill="#161616"/><line x1="377.8" y1="216.8" x2="470.5" y2="197.5" stroke="#161616" stroke-width="3.4"/><line x1="472.5" y1="207.0" x2="468.5" y2="188.0" stroke="#161616" stroke-width="3.4"/><line x1="593.3" y1="230.3" x2="531.5" y2="197.5" stroke="#161616" stroke-width="3.4"/><line x1="536.1" y1="188.9" x2="526.9" y2="206.1" stroke="#161616" stroke-width="3.4"/><line x1="1262.5" y1="453.0" x2="1067.2" y2="503.8" stroke="#161616" stroke-width="3.4"/><line x1="1064.7" y1="494.4" x2="1069.7" y2="513.2" stroke="#161616" stroke-width="3.4"/><line x1="1231.0" y1="595.0" x2="1053.0" y2="566.3" stroke="#161616" stroke-width="3.4"/><line x1="1054.6" y1="556.7" x2="1051.4" y2="575.9" stroke="#161616" stroke-width="3.4"/><linearGradient id="rg1" x1="0" y1="311.7" x2="0" y2="351.7" gradientUnits="userSpaceOnUse"><stop offset="0" stop-color="#cc2c2c" stop-opacity="0.12"/><stop offset="0.3" stop-color="#cc2c2c" stop-opacity="0.9"/><stop offset="1" stop-color="#cc2c2c"/></linearGradient><rect x="488.1" y="311.7" width="3.8" height="26.0" fill="url(#rg1)"/><polygon points="490,351.7 482,334.7 498,334.7" fill="#cc2c2c"/><linearGradient id="rg2" x1="0" y1="310.5" x2="0" y2="351" gradientUnits="userSpaceOnUse"><stop offset="0" stop-color="#cc2c2c" stop-opacity="0.12"/><stop offset="0.3" stop-color="#cc2c2c" stop-opacity="0.9"/><stop offset="1" stop-color="#cc2c2c"/></linearGradient><rect x="624.1" y="310.5" width="3.8" height="26.5" fill="url(#rg2)"/><polygon points="626,351 618,334 634,334" fill="#cc2c2c"/><linearGradient id="rg3" x1="0" y1="437" x2="0" y2="480" gradientUnits="userSpaceOnUse"><stop offset="0" stop-color="#cc2c2c" stop-opacity="0.12"/><stop offset="0.3" stop-color="#cc2c2c" stop-opacity="0.9"/><stop offset="1" stop-color="#cc2c2c"/></linearGradient><rect x="450.90000000000003" y="437" width="3.8" height="29" fill="url(#rg3)"/><polygon points="452.8,480 444.8,463 460.8,463" fill="#cc2c2c"/><path d="M662,658.5 H689 M675.5,645 V672" stroke="#d03030" stroke-width="3.6"/><path d="M678.5,712 H701.7" stroke="#d03030" stroke-width="3.6"/><path d="M435.20,633.20 C436.88,631.47 439.68,631.93 441.00,633.20 C442.32,634.47 439.05,639.78 443.10,640.80 C447.15,641.82 458.02,638.83 465.30,639.30 C472.58,639.77 480.82,643.28 486.80,643.60 C492.78,643.92 497.62,640.00 501.20,641.20 C504.78,642.40 504.25,647.28 508.30,650.80 C512.35,654.32 520.00,658.72 525.50,662.30 C531.00,665.88 536.23,670.32 541.30,672.30 C546.37,674.28 553.75,672.65 555.90,674.20 C558.05,675.75 555.43,679.53 554.20,681.60 C552.97,683.67 548.02,683.62 548.50,686.60 C548.98,689.58 555.58,695.67 557.10,699.50 C558.62,703.33 556.17,705.77 557.60,709.60 C559.03,713.43 564.32,718.50 565.70,722.50 C567.08,726.50 566.98,729.60 565.90,733.60 C564.82,737.60 559.95,742.68 559.20,746.50 C558.45,750.32 559.33,753.15 561.40,756.50 C563.47,759.85 570.42,764.48 571.60,766.60 C572.78,768.72 571.17,768.48 568.50,769.20 C565.83,769.92 558.93,768.47 555.60,770.90 C552.27,773.33 551.83,779.03 548.50,783.80 C545.17,788.57 538.95,795.45 535.60,799.50 C532.25,803.55 529.60,804.27 528.40,808.10 C527.20,811.93 529.12,819.35 528.40,822.50 C527.68,825.65 526.25,827.00 524.10,827.00 C521.95,827.00 520.52,823.13 515.50,822.50 C510.48,821.87 500.93,822.25 494.00,823.20 C487.07,824.15 480.58,827.85 473.90,828.20 C467.22,828.55 460.10,824.67 453.90,825.30 C447.70,825.93 440.65,831.52 436.70,832.00 C432.75,832.48 432.60,831.47 430.20,828.20 C427.80,824.93 425.52,815.27 422.30,812.40 C419.08,809.53 413.77,810.52 410.90,811.00 C408.03,811.48 406.42,815.53 405.10,815.30 C403.78,815.07 404.18,812.47 403.00,809.60 C401.82,806.73 400.75,802.40 398.00,798.10 C395.25,793.80 389.85,786.07 386.50,783.80 C383.15,781.53 380.28,785.47 377.90,784.50 C375.52,783.53 372.68,780.27 372.20,778.00 C371.72,775.73 373.57,773.05 375.00,770.90 C376.43,768.75 379.60,767.25 380.80,765.10 C382.00,762.95 382.92,761.33 382.20,758.00 C381.48,754.67 377.10,750.60 376.50,745.10 C375.90,739.60 377.88,731.63 378.60,725.00 C379.32,718.37 378.88,711.45 380.80,705.30 C382.72,699.15 389.38,693.37 390.10,688.10 C390.82,682.83 385.47,677.28 385.10,673.70 C384.73,670.12 384.80,668.75 387.90,666.60 C391.00,664.45 399.15,663.43 403.70,660.80 C408.25,658.17 410.67,653.67 415.20,650.80 C419.73,647.93 427.57,646.53 430.90,643.60 C434.23,640.67 433.52,634.93 435.20,633.20 Z" fill="#3a9787" stroke="#153f33" stroke-width="2.7" stroke-linejoin="round"/><path d="M448.10,722.50 C450.13,717.55 454.62,712.35 458.20,709.60 C461.78,706.85 465.30,706.55 469.60,706.00 C473.90,705.45 479.22,706.18 484.00,706.30 C488.78,706.42 494.48,706.15 498.30,706.70 C502.12,707.25 503.80,707.68 506.90,709.60 C510.00,711.52 514.03,715.10 516.90,718.20 C519.77,721.30 522.30,724.68 524.10,728.20 C525.90,731.72 527.22,735.05 527.70,739.30 C528.18,743.55 527.83,748.92 527.00,753.70 C526.17,758.48 524.13,764.18 522.70,768.00 C521.27,771.82 521.98,774.22 518.40,776.60 C514.82,778.98 506.35,780.27 501.20,782.30 C496.05,784.33 492.28,788.55 487.50,788.80 C482.72,789.05 477.63,785.12 472.50,783.80 C467.37,782.48 460.52,783.77 456.70,780.90 C452.88,778.03 451.50,771.13 449.60,766.60 C447.70,762.07 445.90,758.25 445.30,753.70 C444.70,749.15 445.53,744.50 446.00,739.30 C446.47,734.10 446.07,727.45 448.10,722.50 Z" fill="#1d7c6b"/><circle cx="418.7" cy="678" r="1.8" fill="#1f7565"/><circle cx="443.1" cy="683.8" r="1.8" fill="#1f7565"/><circle cx="459.6" cy="696.7" r="2.1" fill="#1f7565"/><circle cx="476.8" cy="655.8" r="1.6" fill="#1f7565"/><circle cx="485.4" cy="678" r="2.4" fill="#1f7565"/><circle cx="489.7" cy="698.8" r="1.7" fill="#1f7565"/><circle cx="509" cy="674.4" r="1.7" fill="#1f7565"/><circle cx="528.4" cy="678" r="2.0" fill="#1f7565"/><circle cx="526.2" cy="709.6" r="2.0" fill="#1f7565"/><circle cx="427.3" cy="708.1" r="1.9" fill="#1f7565"/><circle cx="400.8" cy="721" r="1.8" fill="#1f7565"/><circle cx="438.8" cy="730.5" r="1.9" fill="#1f7565"/><circle cx="412.3" cy="753" r="1.9" fill="#1f7565"/><circle cx="398.7" cy="765.1" r="1.6" fill="#1f7565"/><circle cx="436" cy="763" r="1.9" fill="#1f7565"/><circle cx="408" cy="780.2" r="2.3" fill="#1f7565"/><circle cx="432.4" cy="786.6" r="1.7" fill="#1f7565"/><circle cx="444.5" cy="804.5" r="2.0" fill="#1f7565"/><circle cx="468.9" cy="796.7" r="1.8" fill="#1f7565"/><circle cx="491.1" cy="811" r="2.3" fill="#1f7565"/><circle cx="513.3" cy="789.5" r="1.9" fill="#1f7565"/><circle cx="537" cy="735" r="1.7" fill="#1f7565"/><circle cx="548.5" cy="746.5" r="1.6" fill="#1f7565"/><circle cx="538.4" cy="761.5" r="2.2" fill="#1f7565"/></svg></body></html>
